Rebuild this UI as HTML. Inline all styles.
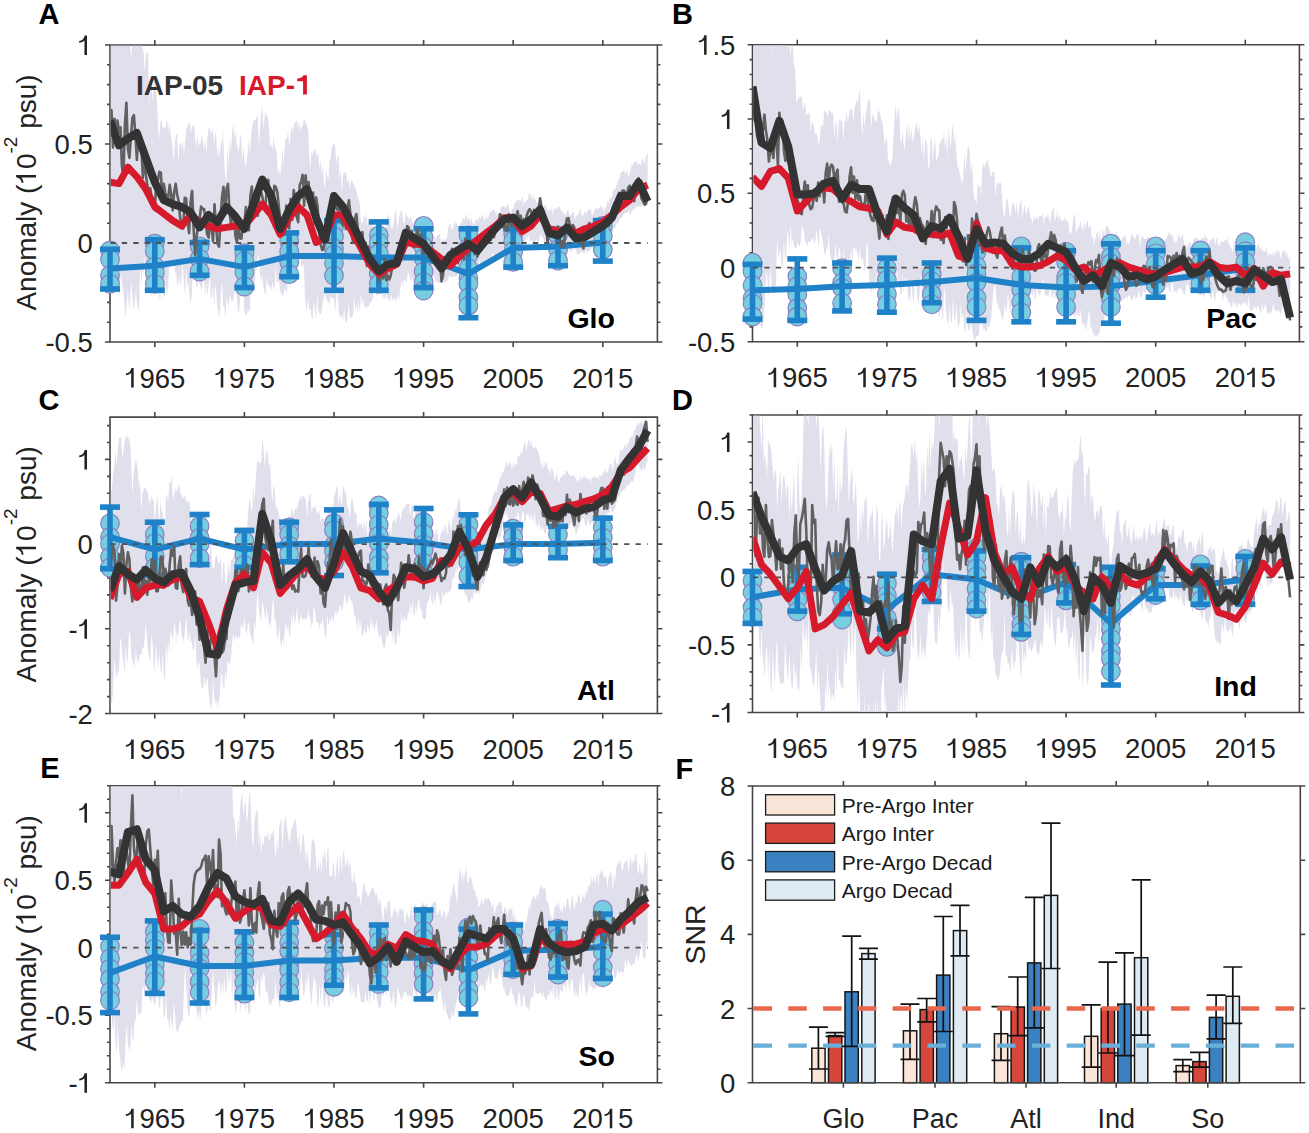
<!DOCTYPE html><html><head><meta charset="utf-8"><style>html,body{margin:0;padding:0;background:#fff;}svg{display:block;}</style></head><body>
<svg width="1309" height="1133" viewBox="0 0 1309 1133" font-family='"Liberation Sans", sans-serif'>
<path d="M110,45 H657.4 V342 H110 Z" fill="none" stroke="#474747" stroke-width="1.6"/>
<path d="M154.8,342 v5 M154.8,45 v-5 M244.4,342 v5 M244.4,45 v-5 M334,342 v5 M334,45 v-5 M423.6,342 v5 M423.6,45 v-5 M513.2,342 v5 M513.2,45 v-5 M602.8,342 v5 M602.8,45 v-5 M110,342 h-5 M657.4,342 h5 M110,322.2 h-3 M657.4,322.2 h3 M110,302.4 h-3 M657.4,302.4 h3 M110,282.6 h-3 M657.4,282.6 h3 M110,262.8 h-3 M657.4,262.8 h3 M110,243 h-5 M657.4,243 h5 M110,223.2 h-3 M657.4,223.2 h3 M110,203.4 h-3 M657.4,203.4 h3 M110,183.6 h-3 M657.4,183.6 h3 M110,163.8 h-3 M657.4,163.8 h3 M110,144 h-5 M657.4,144 h5 M110,124.2 h-3 M657.4,124.2 h3 M110,104.4 h-3 M657.4,104.4 h3 M110,84.6 h-3 M657.4,84.6 h3 M110,64.8 h-3 M657.4,64.8 h3 M110,45 h-5 M657.4,45 h5" stroke="#474747" stroke-width="1.6" fill="none"/>
<clipPath id="clipA"><rect x="110.8" y="45.8" width="545.8" height="295.4"/></clipPath>
<g clip-path="url(#clipA)">
<path d="M110,34 L111.1,27.4 L112.2,8.5 L113.4,31.1 L114.5,40.3 L115.6,13.7 L116.7,11.6 L117.8,12.8 L119,43.8 L120.1,21 L121.2,8.8 L122.3,32.3 L123.4,9.1 L124.6,2.3 L125.7,24 L126.8,23.6 L127.9,47.2 L129,26.9 L130.2,47.9 L131.3,59.1 L132.4,29.3 L133.5,7.6 L134.6,16 L135.8,43.1 L136.9,14.3 L138,53.6 L139.1,25.5 L140.2,30.6 L141.4,43.8 L142.5,48.1 L143.6,52 L144.7,71.8 L145.8,55.6 L147,51.6 L148.1,54.3 L149.2,104.5 L150.3,83.9 L151.4,76 L152.6,102.3 L153.7,85.5 L154.8,78.1 L155.9,85.7 L157,102.9 L158.2,128.9 L159.3,139.7 L160.4,121.3 L161.5,119.6 L162.6,127.6 L163.8,127.7 L164.9,129.4 L166,123.4 L167.1,118.8 L168.2,132.1 L169.4,123.3 L170.5,134.6 L171.6,138.5 L172.7,148.9 L173.8,160.7 L175,141.9 L176.1,134.5 L177.2,133.3 L178.3,164.1 L179.4,143.3 L180.6,142.6 L181.7,148.2 L182.8,139.7 L183.9,155.4 L185,142.7 L186.2,129.6 L187.3,126.5 L188.4,124.7 L189.5,120.7 L190.6,132.6 L191.8,127.4 L192.9,125.4 L194,125 L195.1,136.1 L196.2,149.1 L197.4,133.1 L198.5,147.3 L199.6,142.6 L200.7,143.7 L201.8,134.8 L203,141.9 L204.1,150.7 L205.2,138.4 L206.3,154.9 L207.4,137.4 L208.6,127.9 L209.7,127 L210.8,136.3 L211.9,128.8 L213,131.2 L214.2,145.1 L215.3,130.9 L216.4,138.7 L217.5,159 L218.6,146.6 L219.8,159.1 L220.9,140 L222,144.2 L223.1,130.4 L224.2,162.8 L225.4,177.1 L226.5,182.5 L227.6,144.4 L228.7,166.7 L229.8,138.5 L231,151.4 L232.1,131.2 L233.2,124 L234.3,138 L235.4,129.4 L236.6,144.3 L237.7,146.1 L238.8,152.7 L239.9,139.4 L241,132.4 L242.2,162.5 L243.3,146.9 L244.4,157.7 L245.5,168.1 L246.6,160.8 L247.8,152.9 L248.9,138.1 L250,154.5 L251.1,134.8 L252.2,126.2 L253.4,119.9 L254.5,120.9 L255.6,119.4 L256.7,117.8 L257.8,115.1 L259,146.1 L260.1,127.6 L261.2,112.9 L262.3,106 L263.4,129.6 L264.6,116.9 L265.7,112.5 L266.8,115.4 L267.9,117.5 L269,128.7 L270.2,148.1 L271.3,143.4 L272.4,150.2 L273.5,137 L274.6,146.3 L275.8,148.4 L276.9,154.8 L278,174.5 L279.1,168.6 L280.2,176 L281.4,166.4 L282.5,147.9 L283.6,167.7 L284.7,146.4 L285.8,137.1 L287,139 L288.1,129.6 L289.2,146.4 L290.3,137.9 L291.4,125.8 L292.6,132.2 L293.7,125.9 L294.8,122.6 L295.9,122.1 L297,118.8 L298.2,130 L299.3,120.6 L300.4,130.4 L301.5,126.8 L302.6,125.7 L303.8,118.9 L304.9,119.7 L306,123 L307.1,125.9 L308.2,130.5 L309.4,158.1 L310.5,169.1 L311.6,150.4 L312.7,155.3 L313.8,149.3 L315,148.7 L316.1,153.6 L317.2,156.9 L318.3,152.4 L319.4,168.4 L320.6,159.9 L321.7,177.1 L322.8,162.6 L323.9,183.8 L325,189.2 L326.2,168.7 L327.3,175.8 L328.4,179.9 L329.5,160.4 L330.6,159.4 L331.8,148 L332.9,145.6 L334,142.6 L335.1,146.3 L336.2,163.5 L337.4,156.1 L338.5,156.4 L339.6,179.9 L340.7,167.8 L341.8,193.2 L343,174.5 L344.1,171.9 L345.2,172.6 L346.3,172.9 L347.4,183.1 L348.6,178.8 L349.7,189.7 L350.8,181.2 L351.9,180.1 L353,183.2 L354.2,184.4 L355.3,188.5 L356.4,190.5 L357.5,196.2 L358.6,199.5 L359.8,203.9 L360.9,221.3 L362,223.5 L363.1,221.7 L364.2,213 L365.4,220 L366.5,212.8 L367.6,225.8 L368.7,218.7 L369.8,220.6 L371,219.1 L372.1,225.7 L373.2,233.7 L374.3,230 L375.4,228.2 L376.6,226.8 L377.7,233.3 L378.8,230 L379.9,233.6 L381,232.4 L382.2,229.8 L383.3,238 L384.4,232.9 L385.5,238.4 L386.6,220.2 L387.8,213.3 L388.9,219.6 L390,217.1 L391.1,227.7 L392.2,228.4 L393.4,224.7 L394.5,215.6 L395.6,208.5 L396.7,220.5 L397.8,229.7 L399,217.1 L400.1,213.8 L401.2,210.1 L402.3,212.1 L403.4,223.8 L404.6,222.2 L405.7,210.6 L406.8,218.1 L407.9,214.5 L409,221 L410.2,216.3 L411.3,217.3 L412.4,223.5 L413.5,223.7 L414.6,223.6 L415.8,228.5 L416.9,229 L418,231.1 L419.1,226.9 L420.2,222.5 L421.4,228.6 L422.5,227.5 L423.6,230.2 L424.7,230.5 L425.8,229.5 L427,226.4 L428.1,229 L429.2,231.9 L430.3,235.3 L431.4,233.4 L432.6,241.1 L433.7,240.5 L434.8,235.7 L435.9,240.6 L437,236.3 L438.2,234.9 L439.3,233.1 L440.4,237.4 L441.5,243.7 L442.6,238.6 L443.8,240.3 L444.9,241.1 L446,239.1 L447.1,237.3 L448.2,228.3 L449.4,224.1 L450.5,224.2 L451.6,229.5 L452.7,229.3 L453.8,224.5 L455,223.2 L456.1,221.7 L457.2,225.1 L458.3,227.6 L459.4,229.3 L460.6,222.5 L461.7,222.9 L462.8,216 L463.9,220.1 L465,218.4 L466.2,213.2 L467.3,219.7 L468.4,218.7 L469.5,217.6 L470.6,222.8 L471.8,216.9 L472.9,225 L474,224.4 L475.1,220.6 L476.2,218.3 L477.4,221.4 L478.5,218.6 L479.6,216.8 L480.7,218.4 L481.8,216.4 L483,213.5 L484.1,221.6 L485.2,219.1 L486.3,215.3 L487.4,219.4 L488.6,215.8 L489.7,212.6 L490.8,212.1 L491.9,209.8 L493,210.2 L494.2,208.7 L495.3,213.1 L496.4,211.6 L497.5,216.2 L498.6,217.4 L499.8,214.6 L500.9,206.9 L502,205.4 L503.1,206.5 L504.2,206.4 L505.4,207.7 L506.5,206.3 L507.6,203.4 L508.7,206.4 L509.8,211 L511,213 L512.1,208.7 L513.2,209 L514.3,204 L515.4,202.5 L516.6,199.6 L517.7,200.9 L518.8,199.6 L519.9,200.7 L521,201.2 L522.2,195.4 L523.3,205.8 L524.4,200.4 L525.5,203.4 L526.6,198.7 L527.8,200.6 L528.9,193.6 L530,193.5 L531.1,195.3 L532.2,199.8 L533.4,195.3 L534.5,200.5 L535.6,198.6 L536.7,203 L537.8,202.9 L539,207.4 L540.1,207.5 L541.2,207.9 L542.3,203.8 L543.4,208.5 L544.6,205.8 L545.7,204.3 L546.8,209.6 L547.9,210 L549,210.3 L550.2,210.4 L551.3,206.4 L552.4,214.3 L553.5,208.3 L554.6,209.9 L555.8,207.7 L556.9,209 L558,207.3 L559.1,206.4 L560.2,208.1 L561.4,212.3 L562.5,210.3 L563.6,214.7 L564.7,213 L565.8,216.7 L567,211.1 L568.1,209.2 L569.2,215.9 L570.3,215 L571.4,214.9 L572.6,211.8 L573.7,211.2 L574.8,219.7 L575.9,216.4 L577,215.5 L578.2,215 L579.3,211.6 L580.4,208.6 L581.5,215.1 L582.6,216.4 L583.8,213.7 L584.9,211.2 L586,213.1 L587.1,212.8 L588.2,208.7 L589.4,210.6 L590.5,207.5 L591.6,213.6 L592.7,215.5 L593.8,211.2 L595,208.7 L596.1,207 L597.2,209.7 L598.3,207.4 L599.4,208.9 L600.6,205.5 L601.7,208.4 L602.8,206.3 L603.9,211.9 L605,208.4 L606.2,207.2 L607.3,200.8 L608.4,203.6 L609.5,199.2 L610.6,198.1 L611.8,197 L612.9,191.9 L614,188 L615.1,189.5 L616.2,185.9 L617.4,183.3 L618.5,178.1 L619.6,179.2 L620.7,173 L621.8,171.7 L623,171.5 L624.1,170.6 L625.2,174.1 L626.3,171.8 L627.4,170.2 L628.6,178.1 L629.7,173 L630.8,169.2 L631.9,163.8 L633,166.1 L634.2,162.1 L635.3,161.6 L636.4,161.1 L637.5,165.3 L638.6,162.7 L639.8,164.4 L640.9,165.1 L642,160 L643.1,157.9 L644.2,164.8 L645.4,158.1 L646.5,155.2 L647.6,151.9 L647.6,201.3 L646.5,197.7 L645.4,204.9 L644.2,204.3 L643.1,202.9 L642,205.4 L640.9,206.6 L639.8,206.6 L638.6,205.8 L637.5,208.3 L636.4,205.1 L635.3,209.5 L634.2,207.8 L633,210 L631.9,210.8 L630.8,214 L629.7,214.3 L628.6,209.7 L627.4,213.1 L626.3,213.1 L625.2,213.1 L624.1,213.3 L623,215.2 L621.8,218.6 L620.7,218.6 L619.6,218.9 L618.5,223.2 L617.4,223.1 L616.2,224.1 L615.1,228.6 L614,227.5 L612.9,231.9 L611.8,232.2 L610.6,238.5 L609.5,237.3 L608.4,237.4 L607.3,235.8 L606.2,235.7 L605,242.1 L603.9,245.2 L602.8,242.7 L601.7,241.1 L600.6,245.1 L599.4,242.1 L598.3,248.3 L597.2,249.7 L596.1,251 L595,251.8 L593.8,249.7 L592.7,245.1 L591.6,248.2 L590.5,248.7 L589.4,251.4 L588.2,250.5 L587.1,252.8 L586,249.1 L584.9,253 L583.8,254.3 L582.6,251.2 L581.5,252.8 L580.4,250.9 L579.3,254.9 L578.2,253.9 L577,254.2 L575.9,250.1 L574.8,248.9 L573.7,247.1 L572.6,248.7 L571.4,251.7 L570.3,251.5 L569.2,248.1 L568.1,249.2 L567,247.3 L565.8,249.7 L564.7,250.6 L563.6,252 L562.5,252.1 L561.4,248.6 L560.2,248.8 L559.1,248 L558,247.5 L556.9,247.1 L555.8,252.5 L554.6,250.3 L553.5,243.9 L552.4,246.6 L551.3,243.4 L550.2,248.8 L549,249.3 L547.9,243.4 L546.8,246.1 L545.7,248.5 L544.6,242.9 L543.4,237.8 L542.3,237.6 L541.2,235.4 L540.1,233.8 L539,241.4 L537.8,242.5 L536.7,239 L535.6,240.7 L534.5,243 L533.4,243.3 L532.2,239.8 L531.1,241.1 L530,241.7 L528.9,235.1 L527.8,240.6 L526.6,235.7 L525.5,240.9 L524.4,247.9 L523.3,246.5 L522.2,240.3 L521,242.4 L519.9,240.5 L518.8,244.9 L517.7,243.5 L516.6,239.9 L515.4,242.1 L514.3,244.1 L513.2,243.4 L512.1,248.8 L511,247.8 L509.8,248.2 L508.7,246.1 L507.6,241.3 L506.5,248.9 L505.4,243.1 L504.2,243.7 L503.1,252.5 L502,254.6 L500.9,253.9 L499.8,254.4 L498.6,256.6 L497.5,256.5 L496.4,254.2 L495.3,259 L494.2,256 L493,252.5 L491.9,255.6 L490.8,259.9 L489.7,259 L488.6,259.3 L487.4,259 L486.3,259.7 L485.2,261.2 L484.1,264.3 L483,267.2 L481.8,264.9 L480.7,266.1 L479.6,261 L478.5,265 L477.4,266.8 L476.2,269.6 L475.1,265.5 L474,274.3 L472.9,274.2 L471.8,271.5 L470.6,273.7 L469.5,270.1 L468.4,269.4 L467.3,268.7 L466.2,269.1 L465,268.9 L463.9,271.8 L462.8,266.9 L461.7,265 L460.6,266.4 L459.4,268 L458.3,273.3 L457.2,276.5 L456.1,275.9 L455,277.1 L453.8,276.5 L452.7,275.6 L451.6,277.9 L450.5,276.9 L449.4,274.5 L448.2,279.3 L447.1,281.2 L446,280.7 L444.9,284 L443.8,280.6 L442.6,279.1 L441.5,281 L440.4,282.8 L439.3,282.8 L438.2,283.2 L437,280.7 L435.9,282.6 L434.8,279.5 L433.7,273.9 L432.6,281.3 L431.4,278.3 L430.3,280.2 L429.2,281.3 L428.1,280.4 L427,273.1 L425.8,273 L424.7,278.3 L423.6,280.2 L422.5,273.6 L421.4,273.7 L420.2,271.4 L419.1,272.2 L418,276.8 L416.9,277.7 L415.8,271.3 L414.6,278.6 L413.5,280.8 L412.4,277.2 L411.3,281.3 L410.2,279 L409,274.3 L407.9,271.1 L406.8,282.5 L405.7,281 L404.6,279.7 L403.4,280.7 L402.3,286.9 L401.2,279.7 L400.1,289.8 L399,301.3 L397.8,295.6 L396.7,298.7 L395.6,302.5 L394.5,296.7 L393.4,300.2 L392.2,299.9 L391.1,295 L390,301.9 L388.9,298.9 L387.8,299.5 L386.6,293.6 L385.5,299.9 L384.4,296.7 L383.3,297.2 L382.2,295.6 L381,292.8 L379.9,293.6 L378.8,286.1 L377.7,293.4 L376.6,296 L375.4,289.9 L374.3,288.2 L373.2,298 L372.1,300.8 L371,301.7 L369.8,303.8 L368.7,305.7 L367.6,308.2 L366.5,305.8 L365.4,308 L364.2,305.4 L363.1,297.6 L362,306.6 L360.9,292.2 L359.8,311.8 L358.6,300.4 L357.5,313 L356.4,304.4 L355.3,308.9 L354.2,296 L353,316.6 L351.9,317.3 L350.8,318.4 L349.7,314.9 L348.6,303.3 L347.4,317.9 L346.3,323.2 L345.2,320.5 L344.1,308 L343,322 L341.8,315 L340.7,316.2 L339.6,318 L338.5,308.2 L337.4,279.2 L336.2,299.8 L335.1,313 L334,298.6 L332.9,299.4 L331.8,297.5 L330.6,296.8 L329.5,305 L328.4,301.8 L327.3,300.3 L326.2,298.8 L325,292.9 L323.9,297.2 L322.8,301.7 L321.7,311.6 L320.6,314.2 L319.4,313.6 L318.3,311 L317.2,292.4 L316.1,320.4 L315,311.1 L313.8,300.5 L312.7,319.8 L311.6,317.1 L310.5,308.8 L309.4,310.1 L308.2,296.8 L307.1,311.4 L306,306.7 L304.9,297.3 L303.8,263.9 L302.6,266.2 L301.5,268.6 L300.4,253.3 L299.3,264.4 L298.2,256.6 L297,274.6 L295.9,271.8 L294.8,282.7 L293.7,260.8 L292.6,254 L291.4,263.5 L290.3,290.7 L289.2,279.9 L288.1,272.1 L287,293.6 L285.8,291 L284.7,288.3 L283.6,293.2 L282.5,297.9 L281.4,293 L280.2,291.6 L279.1,280.8 L278,281.7 L276.9,283 L275.8,263.8 L274.6,290.7 L273.5,287.3 L272.4,281.4 L271.3,290.4 L270.2,287.6 L269,286.1 L267.9,284.1 L266.8,275.8 L265.7,295.2 L264.6,292.7 L263.4,287 L262.3,274.4 L261.2,282.7 L260.1,274.1 L259,258.4 L257.8,255.1 L256.7,270.1 L255.6,269.9 L254.5,292.8 L253.4,284.3 L252.2,294.5 L251.1,273.8 L250,310.2 L248.9,312.1 L247.8,309.5 L246.6,316.4 L245.5,313.2 L244.4,311.7 L243.3,280.8 L242.2,292.8 L241,284.6 L239.9,302.5 L238.8,314.9 L237.7,307.5 L236.6,296 L235.4,290.7 L234.3,292.8 L233.2,301.7 L232.1,300.9 L231,300.8 L229.8,293.8 L228.7,306.9 L227.6,303.1 L226.5,295.7 L225.4,319.4 L224.2,305 L223.1,306.6 L222,281.6 L220.9,290.5 L219.8,316.9 L218.6,313.2 L217.5,307 L216.4,293.6 L215.3,283.7 L214.2,307.1 L213,284 L211.9,297.4 L210.8,297.8 L209.7,269.7 L208.6,286 L207.4,296.4 L206.3,281.4 L205.2,296.7 L204.1,279.5 L203,274.8 L201.8,291.4 L200.7,286.7 L199.6,284.3 L198.5,278 L197.4,288.2 L196.2,285.8 L195.1,270.1 L194,259.6 L192.9,268.2 L191.8,294.9 L190.6,303.8 L189.5,295.4 L188.4,281.2 L187.3,288 L186.2,267.6 L185,295.8 L183.9,284.3 L182.8,261.9 L181.7,276 L180.6,286.1 L179.4,275.6 L178.3,283.9 L177.2,286.4 L176.1,270.2 L175,274.7 L173.8,257.9 L172.7,264 L171.6,268.5 L170.5,267.2 L169.4,262.7 L168.2,285.8 L167.1,294.8 L166,285.1 L164.9,294.9 L163.8,297.9 L162.6,292.3 L161.5,278.1 L160.4,299.8 L159.3,297.1 L158.2,289.9 L157,293.2 L155.9,288.2 L154.8,259.7 L153.7,262.2 L152.6,276.1 L151.4,299.5 L150.3,284.5 L149.2,242.2 L148.1,254.4 L147,292.6 L145.8,278.2 L144.7,254.5 L143.6,274.2 L142.5,268.8 L141.4,287.1 L140.2,263.1 L139.1,311.6 L138,308.8 L136.9,302.8 L135.8,289.5 L134.6,304.3 L133.5,308.8 L132.4,295.4 L131.3,280.4 L130.2,298.7 L129,309.6 L127.9,288.2 L126.8,302.7 L125.7,317.7 L124.6,307.2 L123.4,290.7 L122.3,286.7 L121.2,272.2 L120.1,281 L119,296.8 L117.8,289.8 L116.7,280.8 L115.6,266.9 L114.5,290.1 L113.4,290.8 L112.2,278.7 L111.1,247.8 L110,283.3Z" fill="#e0e0ec"/>
</g>
<circle cx="110" cy="250.4" r="9.3" fill="#76cee0" stroke="#8b80c2" stroke-width="1.2"/>
<circle cx="110" cy="259.5" r="9.3" fill="#76cee0" stroke="#8b80c2" stroke-width="1.2"/>
<circle cx="110" cy="275.2" r="9.3" fill="#76cee0" stroke="#8b80c2" stroke-width="1.2"/>
<circle cx="110" cy="283.8" r="9.3" fill="#76cee0" stroke="#8b80c2" stroke-width="1.2"/>
<circle cx="154.8" cy="243.6" r="9.3" fill="#76cee0" stroke="#8b80c2" stroke-width="1.2"/>
<circle cx="154.8" cy="251" r="9.3" fill="#76cee0" stroke="#8b80c2" stroke-width="1.2"/>
<circle cx="154.8" cy="266.5" r="9.3" fill="#76cee0" stroke="#8b80c2" stroke-width="1.2"/>
<circle cx="154.8" cy="272.8" r="9.3" fill="#76cee0" stroke="#8b80c2" stroke-width="1.2"/>
<circle cx="154.8" cy="283.8" r="9.3" fill="#76cee0" stroke="#8b80c2" stroke-width="1.2"/>
<circle cx="199.6" cy="246.3" r="9.3" fill="#76cee0" stroke="#8b80c2" stroke-width="1.2"/>
<circle cx="199.6" cy="258.8" r="9.3" fill="#76cee0" stroke="#8b80c2" stroke-width="1.2"/>
<circle cx="199.6" cy="271.5" r="9.3" fill="#76cee0" stroke="#8b80c2" stroke-width="1.2"/>
<circle cx="244.4" cy="253.1" r="9.3" fill="#76cee0" stroke="#8b80c2" stroke-width="1.2"/>
<circle cx="244.4" cy="261" r="9.3" fill="#76cee0" stroke="#8b80c2" stroke-width="1.2"/>
<circle cx="244.4" cy="272.4" r="9.3" fill="#76cee0" stroke="#8b80c2" stroke-width="1.2"/>
<circle cx="244.4" cy="286.5" r="9.3" fill="#76cee0" stroke="#8b80c2" stroke-width="1.2"/>
<circle cx="289.2" cy="240.8" r="9.3" fill="#76cee0" stroke="#8b80c2" stroke-width="1.2"/>
<circle cx="289.2" cy="251.5" r="9.3" fill="#76cee0" stroke="#8b80c2" stroke-width="1.2"/>
<circle cx="289.2" cy="262.1" r="9.3" fill="#76cee0" stroke="#8b80c2" stroke-width="1.2"/>
<circle cx="289.2" cy="274.2" r="9.3" fill="#76cee0" stroke="#8b80c2" stroke-width="1.2"/>
<circle cx="334" cy="227.1" r="9.3" fill="#76cee0" stroke="#8b80c2" stroke-width="1.2"/>
<circle cx="334" cy="236.4" r="9.3" fill="#76cee0" stroke="#8b80c2" stroke-width="1.2"/>
<circle cx="334" cy="248.3" r="9.3" fill="#76cee0" stroke="#8b80c2" stroke-width="1.2"/>
<circle cx="334" cy="254.8" r="9.3" fill="#76cee0" stroke="#8b80c2" stroke-width="1.2"/>
<circle cx="334" cy="263.3" r="9.3" fill="#76cee0" stroke="#8b80c2" stroke-width="1.2"/>
<circle cx="334" cy="275.6" r="9.3" fill="#76cee0" stroke="#8b80c2" stroke-width="1.2"/>
<circle cx="378.8" cy="235.3" r="9.3" fill="#76cee0" stroke="#8b80c2" stroke-width="1.2"/>
<circle cx="378.8" cy="242.7" r="9.3" fill="#76cee0" stroke="#8b80c2" stroke-width="1.2"/>
<circle cx="378.8" cy="253.3" r="9.3" fill="#76cee0" stroke="#8b80c2" stroke-width="1.2"/>
<circle cx="378.8" cy="263.8" r="9.3" fill="#76cee0" stroke="#8b80c2" stroke-width="1.2"/>
<circle cx="378.8" cy="273.4" r="9.3" fill="#76cee0" stroke="#8b80c2" stroke-width="1.2"/>
<circle cx="378.8" cy="283.8" r="9.3" fill="#76cee0" stroke="#8b80c2" stroke-width="1.2"/>
<circle cx="423.6" cy="225.8" r="9.3" fill="#76cee0" stroke="#8b80c2" stroke-width="1.2"/>
<circle cx="423.6" cy="237.2" r="9.3" fill="#76cee0" stroke="#8b80c2" stroke-width="1.2"/>
<circle cx="423.6" cy="246.7" r="9.3" fill="#76cee0" stroke="#8b80c2" stroke-width="1.2"/>
<circle cx="423.6" cy="258.3" r="9.3" fill="#76cee0" stroke="#8b80c2" stroke-width="1.2"/>
<circle cx="423.6" cy="271.5" r="9.3" fill="#76cee0" stroke="#8b80c2" stroke-width="1.2"/>
<circle cx="423.6" cy="282.1" r="9.3" fill="#76cee0" stroke="#8b80c2" stroke-width="1.2"/>
<circle cx="423.6" cy="290.6" r="9.3" fill="#76cee0" stroke="#8b80c2" stroke-width="1.2"/>
<circle cx="468.4" cy="235.3" r="9.3" fill="#76cee0" stroke="#8b80c2" stroke-width="1.2"/>
<circle cx="468.4" cy="247.9" r="9.3" fill="#76cee0" stroke="#8b80c2" stroke-width="1.2"/>
<circle cx="468.4" cy="255.3" r="9.3" fill="#76cee0" stroke="#8b80c2" stroke-width="1.2"/>
<circle cx="468.4" cy="268.4" r="9.3" fill="#76cee0" stroke="#8b80c2" stroke-width="1.2"/>
<circle cx="468.4" cy="278.2" r="9.3" fill="#76cee0" stroke="#8b80c2" stroke-width="1.2"/>
<circle cx="468.4" cy="283.8" r="9.3" fill="#76cee0" stroke="#8b80c2" stroke-width="1.2"/>
<circle cx="468.4" cy="297.4" r="9.3" fill="#76cee0" stroke="#8b80c2" stroke-width="1.2"/>
<circle cx="468.4" cy="305.7" r="9.3" fill="#76cee0" stroke="#8b80c2" stroke-width="1.2"/>
<circle cx="513.2" cy="234" r="9.3" fill="#76cee0" stroke="#8b80c2" stroke-width="1.2"/>
<circle cx="513.2" cy="241.3" r="9.3" fill="#76cee0" stroke="#8b80c2" stroke-width="1.2"/>
<circle cx="513.2" cy="251.2" r="9.3" fill="#76cee0" stroke="#8b80c2" stroke-width="1.2"/>
<circle cx="513.2" cy="261.9" r="9.3" fill="#76cee0" stroke="#8b80c2" stroke-width="1.2"/>
<circle cx="558" cy="235.3" r="9.3" fill="#76cee0" stroke="#8b80c2" stroke-width="1.2"/>
<circle cx="558" cy="249.5" r="9.3" fill="#76cee0" stroke="#8b80c2" stroke-width="1.2"/>
<circle cx="558" cy="260.5" r="9.3" fill="#76cee0" stroke="#8b80c2" stroke-width="1.2"/>
<circle cx="602.8" cy="225.8" r="9.3" fill="#76cee0" stroke="#8b80c2" stroke-width="1.2"/>
<circle cx="602.8" cy="235.8" r="9.3" fill="#76cee0" stroke="#8b80c2" stroke-width="1.2"/>
<circle cx="602.8" cy="249.6" r="9.3" fill="#76cee0" stroke="#8b80c2" stroke-width="1.2"/>
<line x1="110" y1="249.3" x2="110" y2="289" stroke="#1f82c8" stroke-width="5.6"/>
<rect x="100" y="246.5" width="20" height="5.6" fill="#1f82c8"/>
<rect x="100" y="286.2" width="20" height="5.6" fill="#1f82c8"/>
<line x1="154.8" y1="239.7" x2="154.8" y2="290.3" stroke="#1f82c8" stroke-width="5.6"/>
<rect x="144.8" y="236.9" width="20" height="5.6" fill="#1f82c8"/>
<rect x="144.8" y="287.5" width="20" height="5.6" fill="#1f82c8"/>
<line x1="199.6" y1="242.5" x2="199.6" y2="275.3" stroke="#1f82c8" stroke-width="5.6"/>
<rect x="189.6" y="239.7" width="20" height="5.6" fill="#1f82c8"/>
<rect x="189.6" y="272.5" width="20" height="5.6" fill="#1f82c8"/>
<line x1="244.4" y1="247.9" x2="244.4" y2="287.6" stroke="#1f82c8" stroke-width="5.6"/>
<rect x="234.4" y="245.1" width="20" height="5.6" fill="#1f82c8"/>
<rect x="234.4" y="284.8" width="20" height="5.6" fill="#1f82c8"/>
<line x1="289.2" y1="232.9" x2="289.2" y2="276.7" stroke="#1f82c8" stroke-width="5.6"/>
<rect x="279.2" y="230.1" width="20" height="5.6" fill="#1f82c8"/>
<rect x="279.2" y="273.9" width="20" height="5.6" fill="#1f82c8"/>
<line x1="334" y1="220.6" x2="334" y2="290.3" stroke="#1f82c8" stroke-width="5.6"/>
<rect x="324" y="217.8" width="20" height="5.6" fill="#1f82c8"/>
<rect x="324" y="287.5" width="20" height="5.6" fill="#1f82c8"/>
<line x1="378.8" y1="221.9" x2="378.8" y2="290.3" stroke="#1f82c8" stroke-width="5.6"/>
<rect x="368.8" y="219.1" width="20" height="5.6" fill="#1f82c8"/>
<rect x="368.8" y="287.5" width="20" height="5.6" fill="#1f82c8"/>
<line x1="423.6" y1="228.8" x2="423.6" y2="287.6" stroke="#1f82c8" stroke-width="5.6"/>
<rect x="413.6" y="226" width="20" height="5.6" fill="#1f82c8"/>
<rect x="413.6" y="284.8" width="20" height="5.6" fill="#1f82c8"/>
<line x1="468.4" y1="228.8" x2="468.4" y2="317.7" stroke="#1f82c8" stroke-width="5.6"/>
<rect x="458.4" y="226" width="20" height="5.6" fill="#1f82c8"/>
<rect x="458.4" y="314.9" width="20" height="5.6" fill="#1f82c8"/>
<line x1="513.2" y1="228.8" x2="513.2" y2="267.1" stroke="#1f82c8" stroke-width="5.6"/>
<rect x="503.2" y="226" width="20" height="5.6" fill="#1f82c8"/>
<rect x="503.2" y="264.3" width="20" height="5.6" fill="#1f82c8"/>
<line x1="558" y1="231.5" x2="558" y2="265.7" stroke="#1f82c8" stroke-width="5.6"/>
<rect x="548" y="228.7" width="20" height="5.6" fill="#1f82c8"/>
<rect x="548" y="262.9" width="20" height="5.6" fill="#1f82c8"/>
<line x1="602.8" y1="220.6" x2="602.8" y2="261.1" stroke="#1f82c8" stroke-width="5.6"/>
<rect x="592.8" y="217.8" width="20" height="5.6" fill="#1f82c8"/>
<rect x="592.8" y="258.3" width="20" height="5.6" fill="#1f82c8"/>
<polyline points="110,268.5 154.8,265.7 199.6,258.9 244.4,267.1 289.2,256.1 334,256.1 378.8,257.5 423.6,257.5 468.4,273.9 513.2,247.9 558,246.6 602.8,242.5" fill="none" stroke="#1f82c8" stroke-width="6" stroke-linejoin="round"/>
<line x1="110.4" y1="243" x2="647.6" y2="243" stroke="#505050" stroke-width="1.8" stroke-dasharray="5.3,6.116"/>
<g clip-path="url(#clipA)">
<polyline points="110,118.5 111.5,110 113,147.4 114.5,118.7 116,142.6 117.5,120.6 119,132.5 120.5,127.3 121.9,166.1 123.4,177.2 124.9,124.3 126.4,102.8 127.9,149.1 129.4,157.9 130.9,137.6 132.4,118 133.9,115.1 135.4,135 136.9,159.9 138.4,134.1 139.9,140.8 141.4,149.4 142.9,177.8 144.3,154.8 145.8,173.8 147.3,185.1 148.8,192 150.3,188.2 151.8,200 153.3,205.3 154.8,210.2 156.3,182.6 157.8,181 159.3,171.9 160.8,172.7 162.3,197.4 163.8,183.7 165.3,193 166.7,195.6 168.2,198 169.7,184.7 171.2,194.3 172.7,210.4 174.2,191.7 175.7,183.7 177.2,195 178.7,201.1 180.2,218.2 181.7,222.4 183.2,228.6 184.7,197.8 186.2,198.4 187.7,221.9 189.1,233.2 190.6,201.8 192.1,190.8 193.6,228.4 195.1,255.1 196.6,236.6 198.1,223.8 199.6,219.6 201.1,206.5 202.6,208.9 204.1,209 205.6,221.2 207.1,234.1 208.6,237.6 210.1,221.9 211.5,225.7 213,241.2 214.5,204.4 216,225.9 217.5,243.4 219,246.6 220.5,220.1 222,196.9 223.5,186.8 225,214.5 226.5,189.4 228,183.8 229.5,211 231,224 232.5,215.8 233.9,210.9 235.4,235.9 236.9,242.6 238.4,222.4 239.9,238.5 241.4,238.7 242.9,226.2 244.4,223.2 245.9,207 247.4,226.3 248.9,230.2 250.4,195.7 251.9,186.6 253.4,216.3 254.9,216.5 256.3,206.6 257.8,215.8 259.3,193.2 260.8,191.4 262.3,196.4 263.8,206.1 265.3,207.8 266.8,189.5 268.3,179.8 269.8,206.9 271.3,209.5 272.8,216.8 274.3,185.8 275.8,187.1 277.3,192 278.7,205.2 280.2,220.6 281.7,233.8 283.2,235 284.7,234.2 286.2,205.5 287.7,215.1 289.2,228.5 290.7,198.9 292.2,220 293.7,190.1 295.2,200.8 296.7,216.8 298.2,222.2 299.7,184.8 301.1,182.2 302.6,174.8 304.1,205.6 305.6,175.4 307.1,193 308.6,182 310.1,207.5 311.6,198.5 313.1,192.6 314.6,223.8 316.1,197.3 317.6,206.4 319.1,230.8 320.6,244.5 322.1,250 323.5,249.5 325,231.3 326.5,224.7 328,239.4 329.5,227.7 331,223.6 332.5,212.6 334,201.2 335.5,202.2 337,209.4 338.5,208.9 340,215.2 341.5,222.5 343,225.7 344.5,218.6 345.9,229 347.4,209 348.9,200.4 350.4,213.9 351.9,236.7 353.4,243 354.9,218.2 356.4,214 357.9,230.5 359.4,247.9 360.9,239.6 362.4,232.1 363.9,253.5 365.4,249 366.9,265.9 368.3,246.6 369.8,267.2 371.3,262.9 372.8,268.1 374.3,272.4 375.8,268.6 377.3,274.6 378.8,281.4 380.3,277.8 381.8,276.5 383.3,278.4 384.8,258.9 386.3,280.2 387.8,275.9 389.3,279.5 390.7,275.9 392.2,266.3 393.7,265.2 395.2,263.1 396.7,255.9 398.2,257.7 399.7,260.8 401.2,249.5 402.7,253.5 404.2,251.7 405.7,244 407.2,226 408.7,227.7 410.2,240 411.7,230.9 413.1,247.1 414.6,247 416.1,238.2 417.6,229.4 419.1,246.9 420.6,234.4 422.1,241.2 423.6,254 425.1,240.9 426.6,253 428.1,249.6 429.6,258 431.1,253.7 432.6,249.7 434.1,262.7 435.5,264.6 437,258.9 438.5,260.4 440,262 441.5,281.4 443,275.7 444.5,257.1 446,268.1 447.5,268 449,254 450.5,267.2 452,248.8 453.5,260 455,257.1 456.5,258.9 457.9,263.1 459.4,258.6 460.9,258.8 462.4,257.3 463.9,259 465.4,238.6 466.9,247.7 468.4,255.6 469.9,245.8 471.4,250.7 472.9,240.1 474.4,254 475.9,250.1 477.4,256.5 478.9,253 480.3,240.9 481.8,234.1 483.3,241.5 484.8,245 486.3,242.7 487.8,233.1 489.3,240.6 490.8,239.9 492.3,231.4 493.8,237.3 495.3,230.8 496.8,226.2 498.3,226.3 499.8,214.4 501.3,215.4 502.7,227.4 504.2,220.4 505.7,229.1 507.2,231.3 508.7,214.2 510.2,223.8 511.7,225.6 513.2,214.7 514.7,226.7 516.2,216.5 517.7,211.2 519.2,223.4 520.7,215.8 522.2,226.6 523.7,219 525.1,230 526.6,216 528.1,211.7 529.6,209.1 531.1,211.5 532.6,217.3 534.1,209.9 535.6,222.1 537.1,215.8 538.6,209.5 540.1,198.2 541.6,207 543.1,222.2 544.6,226.2 546.1,222.8 547.5,242.8 549,233.8 550.5,235.3 552,228.9 553.5,227.1 555,234.7 556.5,229.1 558,226.7 559.5,237.2 561,246.6 562.5,241.1 564,247.2 565.5,226.2 567,218.6 568.5,218.2 569.9,225 571.4,227.7 572.9,225 574.4,227.9 575.9,240.9 577.4,232.9 578.9,232.6 580.4,242.9 581.9,242.7 583.4,248.5 584.9,233.9 586.4,231.5 587.9,226 589.4,223 590.9,233 592.3,228.1 593.8,230.9 595.3,233.9 596.8,227.9 598.3,222.9 599.8,231.7 601.3,229.7 602.8,226 604.3,221.2 605.8,216.8 607.3,222.7 608.8,226 610.3,217.1 611.8,210.5 613.3,205.9 614.7,202.5 616.2,207.3 617.7,209.7 619.2,192.9 620.7,202.6 622.2,190.8 623.7,190.4 625.2,192.1 626.7,200.6 628.2,187.8 629.7,185.7 631.2,197 632.7,200.3 634.2,201.1 635.7,184.2 637.1,180.8 638.6,178.2 640.1,189.8 641.6,198.9 643.1,201.4 644.6,204.8 646.1,203.7 647.6,194.4" fill="none" stroke="#606060" stroke-width="2.6" stroke-linejoin="round"/>
<polyline points="110,182.3 119,183.6 127.9,167.2 136.9,176.8 145.8,189.1 154.8,206.9 163.8,213.7 172.7,220.6 181.7,226 190.6,215.1 199.6,221.9 208.6,226 217.5,228.8 226.5,227.4 235.4,226 244.4,226 253.4,215.1 262.3,204.2 271.3,215.1 280.2,234.3 289.2,217.8 298.2,206.9 307.1,215.1 316.1,242.5 325,237 334,215.1 343,215.1 351.9,231.5 360.9,247.9 369.8,264.4 378.8,273.9 387.8,268.5 396.7,264.4 405.7,242.5 414.6,243.8 423.6,245.2 432.6,252 441.5,258.9 450.5,265.7 459.4,256.1 468.4,247.9 477.4,239.7 486.3,232.9 495.3,226 504.2,217.8 513.2,217.8 522.2,231.5 531.1,226 540.1,215.1 549,228.8 558,231.5 567,228.8 575.9,232.9 584.9,228.8 593.8,226 602.8,221.9 611.8,215.1 620.7,206.9 629.7,200.1 638.6,189.1 647.6,185" fill="none" stroke="#d71a2b" stroke-width="7" stroke-linejoin="round" stroke-linecap="butt"/>
<polyline points="110,120.7 119,145.3 127.9,138.5 136.9,133 145.8,157.6 154.8,182.3 163.8,200.1 172.7,204.2 181.7,206.9 190.6,212.4 199.6,227.4 208.6,215.1 217.5,221.9 226.5,206.9 235.4,216.5 244.4,228.8 253.4,204.2 262.3,179.5 271.3,196 280.2,228.8 289.2,209.6 298.2,196 307.1,189.1 316.1,217.8 325,239.7 334,196 343,206.9 351.9,223.3 360.9,241.1 369.8,258.9 378.8,271.2 387.8,264.4 396.7,263 405.7,232.9 414.6,238.4 423.6,243.8 432.6,256.1 441.5,268.5 450.5,254.8 459.4,249.3 468.4,243.8 477.4,250.7 486.3,239.7 495.3,228.8 504.2,219.2 513.2,217.8 522.2,226 531.1,219.2 540.1,209.6 549,232.9 558,235.6 567,227.4 575.9,238.4 584.9,237 593.8,231.5 602.8,226 611.8,217.8 620.7,196 629.7,196 638.6,182.3 647.6,201.4" fill="none" stroke="#333333" stroke-width="8" stroke-linejoin="round" stroke-linecap="butt"/>
</g>
<path transform="translate(77.5,55) scale(0.02750,-0.02750)" d="M345,0 L253,0 L253,525 C215,480 140,452 62,446 L62,509 C165,522 238,580 262,709 L345,709 Z" fill="#222"/>
<text x="54.6" y="154" font-size="27.5" fill="#222">0.5</text>
<text x="77.5" y="253" font-size="27.5" fill="#222">0</text>
<text x="45.4" y="352" font-size="27.5" fill="#222">-0.5</text>
<path transform="translate(124.2,387.5) scale(0.02750,-0.02750)" d="M345,0 L253,0 L253,525 C215,480 140,452 62,446 L62,509 C165,522 238,580 262,709 L345,709 Z" fill="#222"/><text x="139.5" y="387.5" font-size="27.5" fill="#222">965</text>
<path transform="translate(213.8,387.5) scale(0.02750,-0.02750)" d="M345,0 L253,0 L253,525 C215,480 140,452 62,446 L62,509 C165,522 238,580 262,709 L345,709 Z" fill="#222"/><text x="229.1" y="387.5" font-size="27.5" fill="#222">975</text>
<path transform="translate(303.4,387.5) scale(0.02750,-0.02750)" d="M345,0 L253,0 L253,525 C215,480 140,452 62,446 L62,509 C165,522 238,580 262,709 L345,709 Z" fill="#222"/><text x="318.7" y="387.5" font-size="27.5" fill="#222">985</text>
<path transform="translate(393,387.5) scale(0.02750,-0.02750)" d="M345,0 L253,0 L253,525 C215,480 140,452 62,446 L62,509 C165,522 238,580 262,709 L345,709 Z" fill="#222"/><text x="408.3" y="387.5" font-size="27.5" fill="#222">995</text>
<text x="482.6" y="387.5" font-size="27.5" fill="#222">2005</text>
<text x="572.2" y="387.5" font-size="27.5" fill="#222">20</text><path transform="translate(602.8,387.5) scale(0.02750,-0.02750)" d="M345,0 L253,0 L253,525 C215,480 140,452 62,446 L62,509 C165,522 238,580 262,709 L345,709 Z" fill="#222"/><text x="618.1" y="387.5" font-size="27.5" fill="#222">5</text>
<text x="614.9" y="328.3" font-size="28.5" text-anchor="end" font-weight="bold" fill="#000" >Glo</text>
<path d="M752.5,44.8 H1299.4 V341.8 H752.5 Z" fill="none" stroke="#474747" stroke-width="1.6"/>
<path d="M797.3,341.8 v5 M797.3,44.8 v-5 M886.9,341.8 v5 M886.9,44.8 v-5 M976.5,341.8 v5 M976.5,44.8 v-5 M1066.1,341.8 v5 M1066.1,44.8 v-5 M1155.7,341.8 v5 M1155.7,44.8 v-5 M1245.3,341.8 v5 M1245.3,44.8 v-5 M752.5,341.8 h-5 M1299.4,341.8 h5 M752.5,326.9 h-3 M1299.4,326.9 h3 M752.5,312.1 h-3 M1299.4,312.1 h3 M752.5,297.2 h-3 M1299.4,297.2 h3 M752.5,282.4 h-3 M1299.4,282.4 h3 M752.5,267.6 h-5 M1299.4,267.6 h5 M752.5,252.7 h-3 M1299.4,252.7 h3 M752.5,237.8 h-3 M1299.4,237.8 h3 M752.5,223 h-3 M1299.4,223 h3 M752.5,208.2 h-3 M1299.4,208.2 h3 M752.5,193.3 h-5 M1299.4,193.3 h5 M752.5,178.4 h-3 M1299.4,178.4 h3 M752.5,163.6 h-3 M1299.4,163.6 h3 M752.5,148.8 h-3 M1299.4,148.8 h3 M752.5,133.9 h-3 M1299.4,133.9 h3 M752.5,119 h-5 M1299.4,119 h5 M752.5,104.2 h-3 M1299.4,104.2 h3 M752.5,89.3 h-3 M1299.4,89.3 h3 M752.5,74.5 h-3 M1299.4,74.5 h3 M752.5,59.6 h-3 M1299.4,59.6 h3 M752.5,44.8 h-5 M1299.4,44.8 h5" stroke="#474747" stroke-width="1.6" fill="none"/>
<clipPath id="clipB"><rect x="753.3" y="45.6" width="545.3" height="295.4"/></clipPath>
<g clip-path="url(#clipB)">
<path d="M752.5,13.8 L753.6,46.7 L754.7,35.6 L755.9,35.9 L757,16.1 L758.1,39.3 L759.2,38.8 L760.3,12.5 L761.5,3.2 L762.6,-0.6 L763.7,2.5 L764.8,9.6 L765.9,-0.2 L767.1,12.2 L768.2,7.8 L769.3,10.7 L770.4,18.9 L771.5,53 L772.7,33.2 L773.8,14.1 L774.9,-0.5 L776,21.2 L777.1,5.1 L778.3,0.4 L779.4,42.3 L780.5,18.5 L781.6,17.4 L782.7,20.7 L783.9,3.2 L785,23.9 L786.1,7.6 L787.2,19 L788.3,18.5 L789.5,47.8 L790.6,55.5 L791.7,42.4 L792.8,44.5 L793.9,65.5 L795.1,66.9 L796.2,100.9 L797.3,101.3 L798.4,95.8 L799.5,98.7 L800.7,96.2 L801.8,97.3 L802.9,109.5 L804,107 L805.1,101.9 L806.3,115.4 L807.4,114 L808.5,113.1 L809.6,113.4 L810.7,131.2 L811.9,120.8 L813,123.6 L814.1,126.3 L815.2,135.3 L816.3,132.6 L817.5,136.8 L818.6,145.4 L819.7,140.6 L820.8,125.2 L821.9,125.8 L823.1,126.1 L824.2,110.3 L825.3,111.3 L826.4,112 L827.5,116.9 L828.7,111.7 L829.8,109.4 L830.9,112.4 L832,112.9 L833.1,112.5 L834.3,138.5 L835.4,124.5 L836.5,119.3 L837.6,143.3 L838.7,122.8 L839.9,118.8 L841,122.5 L842.1,118.3 L843.2,142 L844.3,122 L845.5,120.6 L846.6,111.8 L847.7,121.6 L848.8,116.8 L849.9,107.9 L851.1,110 L852.2,108.6 L853.3,123.4 L854.4,110 L855.5,104.2 L856.7,99.7 L857.8,101.9 L858.9,93.7 L860,89.5 L861.1,119.3 L862.3,136.9 L863.4,112.7 L864.5,127.6 L865.6,115.6 L866.7,109.6 L867.9,100.6 L869,100.7 L870.1,99.5 L871.2,128.9 L872.3,114.1 L873.5,116.5 L874.6,119 L875.7,120.8 L876.8,123.6 L877.9,109.6 L879.1,111.9 L880.2,112.8 L881.3,121.1 L882.4,121.1 L883.5,131.9 L884.7,145.3 L885.8,140.1 L886.9,136.7 L888,159.9 L889.1,161.1 L890.3,166 L891.4,162.2 L892.5,157.2 L893.6,133.5 L894.7,115.2 L895.9,104.6 L897,120.3 L898.1,107.9 L899.2,110 L900.3,138.9 L901.5,143.1 L902.6,131.6 L903.7,145.4 L904.8,151.2 L905.9,132.2 L907.1,123.6 L908.2,142.5 L909.3,123.6 L910.4,142.2 L911.5,126.9 L912.7,142.2 L913.8,138.1 L914.9,129.8 L916,124.7 L917.1,122.2 L918.3,134.3 L919.4,124.5 L920.5,138.2 L921.6,154.6 L922.7,137.1 L923.9,162.3 L925,139.8 L926.1,140.6 L927.2,144.2 L928.3,169.3 L929.5,165.8 L930.6,138.1 L931.7,138.4 L932.8,160.4 L933.9,147.2 L935.1,138.1 L936.2,161.9 L937.3,158 L938.4,156.2 L939.5,144 L940.7,142.4 L941.8,137.2 L942.9,140.5 L944,131.4 L945.1,149.7 L946.3,134.6 L947.4,157.3 L948.5,127.3 L949.6,139.9 L950.7,148.8 L951.9,131.3 L953,122.4 L954.1,146.1 L955.2,133.4 L956.3,151.8 L957.5,168 L958.6,166.8 L959.7,174 L960.8,178.3 L961.9,183.8 L963.1,179.9 L964.2,151.8 L965.3,172.3 L966.4,162 L967.5,149.1 L968.7,145.2 L969.8,154.5 L970.9,173.2 L972,160.5 L973.1,188.3 L974.3,198.6 L975.4,200 L976.5,205.7 L977.6,182.3 L978.7,187.7 L979.9,184.4 L981,195.8 L982.1,170.7 L983.2,162.5 L984.3,167.9 L985.5,162.6 L986.6,162.4 L987.7,158.4 L988.8,166.3 L989.9,172.9 L991.1,177.7 L992.2,172.2 L993.3,171.2 L994.4,173.2 L995.5,198.2 L996.7,181.6 L997.8,186.3 L998.9,182.5 L1000,182.5 L1001.1,183.2 L1002.3,200.4 L1003.4,213.4 L1004.5,217.7 L1005.6,209.3 L1006.7,197.1 L1007.9,200.5 L1009,211 L1010.1,217.6 L1011.2,212.5 L1012.3,201.3 L1013.5,205.1 L1014.6,205.4 L1015.7,213 L1016.8,201.2 L1017.9,219.7 L1019.1,207.1 L1020.2,202 L1021.3,200 L1022.4,220.6 L1023.5,209.2 L1024.7,205.1 L1025.8,213.4 L1026.9,213.5 L1028,206.5 L1029.1,208.8 L1030.3,217.6 L1031.4,218.3 L1032.5,223.7 L1033.6,218.5 L1034.7,215.9 L1035.9,220.5 L1037,215.2 L1038.1,220.4 L1039.2,215.9 L1040.3,216.3 L1041.5,215.7 L1042.6,213.3 L1043.7,226.5 L1044.8,216.7 L1045.9,216.4 L1047.1,217.8 L1048.2,213.5 L1049.3,220.5 L1050.4,222.2 L1051.5,212.3 L1052.7,209.4 L1053.8,207.6 L1054.9,221.7 L1056,218.3 L1057.1,210.3 L1058.3,221.1 L1059.4,213.5 L1060.5,219.6 L1061.6,221.7 L1062.7,220.1 L1063.9,220.9 L1065,216.5 L1066.1,222.8 L1067.2,219.4 L1068.3,221.3 L1069.5,235.2 L1070.6,231.1 L1071.7,233.6 L1072.8,221.2 L1073.9,214.4 L1075.1,215.5 L1076.2,234.8 L1077.3,229.1 L1078.4,227.6 L1079.5,225.9 L1080.7,220.8 L1081.8,229.1 L1082.9,230.7 L1084,221 L1085.1,229.4 L1086.3,222.8 L1087.4,220 L1088.5,226.9 L1089.6,228.6 L1090.7,224.2 L1091.9,240.3 L1093,235.4 L1094.1,245.2 L1095.2,239.5 L1096.3,234.2 L1097.5,231.1 L1098.6,240.8 L1099.7,229.1 L1100.8,241.3 L1101.9,236.9 L1103.1,227.7 L1104.2,237.2 L1105.3,228.5 L1106.4,226.4 L1107.5,226.7 L1108.7,227.8 L1109.8,231.6 L1110.9,244.3 L1112,237.8 L1113.1,235.1 L1114.3,238.3 L1115.4,234.5 L1116.5,229.9 L1117.6,237.9 L1118.7,235.9 L1119.9,240 L1121,240.5 L1122.1,238.7 L1123.2,237.1 L1124.3,235.9 L1125.5,235.1 L1126.6,245.3 L1127.7,241.9 L1128.8,244.5 L1129.9,241.8 L1131.1,236.6 L1132.2,233.1 L1133.3,236.3 L1134.4,239.5 L1135.5,238.2 L1136.7,234.7 L1137.8,234.1 L1138.9,235.9 L1140,248.7 L1141.1,238.8 L1142.3,235.2 L1143.4,237.8 L1144.5,238.7 L1145.6,238.9 L1146.7,238.8 L1147.9,237 L1149,236.9 L1150.1,241.7 L1151.2,240.7 L1152.3,245 L1153.5,240.6 L1154.6,244.7 L1155.7,242.9 L1156.8,241.6 L1157.9,239.9 L1159.1,245.7 L1160.2,243.2 L1161.3,238.8 L1162.4,245.3 L1163.5,246.3 L1164.7,240 L1165.8,239.1 L1166.9,236.7 L1168,235 L1169.1,231.7 L1170.3,234.7 L1171.4,234.4 L1172.5,235.6 L1173.6,239.5 L1174.7,243.8 L1175.9,240.1 L1177,242.7 L1178.1,234.8 L1179.2,236.1 L1180.3,239.6 L1181.5,236.6 L1182.6,233.7 L1183.7,241.3 L1184.8,249.1 L1185.9,242.3 L1187.1,248.8 L1188.2,244.4 L1189.3,242.7 L1190.4,240.3 L1191.5,249.2 L1192.7,243.8 L1193.8,237.4 L1194.9,239.6 L1196,236.6 L1197.1,237.9 L1198.3,238.7 L1199.4,241.5 L1200.5,240.9 L1201.6,236.6 L1202.7,239.4 L1203.9,238.1 L1205,234.1 L1206.1,238.2 L1207.2,238.1 L1208.3,243.9 L1209.5,240.9 L1210.6,238.9 L1211.7,239.4 L1212.8,238.7 L1213.9,237.1 L1215.1,245.5 L1216.2,239.6 L1217.3,237.6 L1218.4,244.4 L1219.5,246.4 L1220.7,241.3 L1221.8,241.6 L1222.9,241.7 L1224,242.3 L1225.1,239.5 L1226.3,240.8 L1227.4,237.5 L1228.5,244.6 L1229.6,242.9 L1230.7,249.9 L1231.9,247.3 L1233,253.4 L1234.1,241.5 L1235.2,241.6 L1236.3,240.9 L1237.5,241.5 L1238.6,240.4 L1239.7,240.4 L1240.8,248.1 L1241.9,254.1 L1243.1,243.7 L1244.2,239.8 L1245.3,242.6 L1246.4,239.7 L1247.5,242 L1248.7,236.1 L1249.8,234 L1250.9,237.4 L1252,249.2 L1253.1,252.8 L1254.3,250.3 L1255.4,250.4 L1256.5,248.6 L1257.6,244.6 L1258.7,244 L1259.9,249.6 L1261,246.5 L1262.1,250.9 L1263.2,250.5 L1264.3,252 L1265.5,251.8 L1266.6,247.1 L1267.7,258 L1268.8,252.8 L1269.9,253.9 L1271.1,255.7 L1272.2,252.1 L1273.3,257.1 L1274.4,251.4 L1275.5,254.5 L1276.7,249.2 L1277.8,253 L1278.9,249.7 L1280,255.3 L1281.1,259 L1282.3,250.7 L1283.4,251.5 L1284.5,248.8 L1285.6,255.6 L1286.7,250.5 L1287.9,258 L1289,259.7 L1290.1,252.2 L1290.1,308.1 L1289,306.7 L1287.9,299.2 L1286.7,301.7 L1285.6,309.6 L1284.5,309.5 L1283.4,308.2 L1282.3,306.5 L1281.1,315.9 L1280,311.8 L1278.9,311.7 L1277.8,308.8 L1276.7,312.3 L1275.5,309.4 L1274.4,310.2 L1273.3,302.6 L1272.2,309.7 L1271.1,313.9 L1269.9,311.9 L1268.8,313.9 L1267.7,314.1 L1266.6,310.4 L1265.5,303.1 L1264.3,307.1 L1263.2,311.1 L1262.1,301.4 L1261,314.7 L1259.9,310.7 L1258.7,306.2 L1257.6,305.5 L1256.5,309.6 L1255.4,308.1 L1254.3,306 L1253.1,309.8 L1252,310.9 L1250.9,311.1 L1249.8,308.9 L1248.7,295.4 L1247.5,308 L1246.4,302.9 L1245.3,301.3 L1244.2,304.9 L1243.1,300.5 L1241.9,305.7 L1240.8,305.3 L1239.7,304.3 L1238.6,302 L1237.5,308.5 L1236.3,304.8 L1235.2,301.9 L1234.1,307 L1233,300.1 L1231.9,307.8 L1230.7,305.8 L1229.6,302 L1228.5,303.1 L1227.4,298 L1226.3,298.5 L1225.1,293.8 L1224,295.3 L1222.9,301 L1221.8,293.6 L1220.7,289.6 L1219.5,291.2 L1218.4,292 L1217.3,292.4 L1216.2,291.5 L1215.1,301 L1213.9,298.5 L1212.8,289.7 L1211.7,297.4 L1210.6,299 L1209.5,294.9 L1208.3,291.3 L1207.2,287.6 L1206.1,287.4 L1205,293.5 L1203.9,297.6 L1202.7,295.9 L1201.6,289.1 L1200.5,294.7 L1199.4,289.6 L1198.3,292.7 L1197.1,290.2 L1196,290.5 L1194.9,288.1 L1193.8,294.9 L1192.7,292.2 L1191.5,290.7 L1190.4,287.1 L1189.3,289.7 L1188.2,284.4 L1187.1,283.3 L1185.9,287.4 L1184.8,294.5 L1183.7,294.7 L1182.6,291.1 L1181.5,288.7 L1180.3,288.8 L1179.2,288 L1178.1,289.6 L1177,293.3 L1175.9,290.3 L1174.7,291.5 L1173.6,291.9 L1172.5,280.5 L1171.4,283.9 L1170.3,292.5 L1169.1,291 L1168,285.3 L1166.9,290.4 L1165.8,285 L1164.7,284.7 L1163.5,292.3 L1162.4,290.3 L1161.3,286 L1160.2,285.9 L1159.1,292.6 L1157.9,291.9 L1156.8,288.8 L1155.7,290.1 L1154.6,285.1 L1153.5,291.9 L1152.3,291.5 L1151.2,289.1 L1150.1,285.7 L1149,290.6 L1147.9,287.1 L1146.7,289.6 L1145.6,292.6 L1144.5,292.2 L1143.4,290.7 L1142.3,294.2 L1141.1,297.7 L1140,296.9 L1138.9,289.5 L1137.8,296.2 L1136.7,298.3 L1135.5,299.6 L1134.4,292.9 L1133.3,298.5 L1132.2,299.5 L1131.1,301.4 L1129.9,295.2 L1128.8,295.4 L1127.7,298.6 L1126.6,295.8 L1125.5,298.3 L1124.3,298.6 L1123.2,299.6 L1122.1,300.3 L1121,302.2 L1119.9,301.8 L1118.7,296.5 L1117.6,302.6 L1116.5,301 L1115.4,295.9 L1114.3,307.6 L1113.1,295.4 L1112,299.6 L1110.9,310.2 L1109.8,310.2 L1108.7,305.8 L1107.5,309.7 L1106.4,316.3 L1105.3,305.9 L1104.2,322.1 L1103.1,326.2 L1101.9,322.1 L1100.8,321.2 L1099.7,333.7 L1098.6,333.6 L1097.5,336.2 L1096.3,336.7 L1095.2,336.8 L1094.1,332 L1093,336.2 L1091.9,326.3 L1090.7,329.7 L1089.6,311.8 L1088.5,312.9 L1087.4,322.4 L1086.3,329.4 L1085.1,328.6 L1084,322.5 L1082.9,325.4 L1081.8,321.1 L1080.7,309 L1079.5,318.5 L1078.4,310.4 L1077.3,318.3 L1076.2,312.1 L1075.1,317.6 L1073.9,315.1 L1072.8,308.7 L1071.7,314.5 L1070.6,313.7 L1069.5,309 L1068.3,307.3 L1067.2,300.4 L1066.1,289.2 L1065,303.2 L1063.9,291.6 L1062.7,286.8 L1061.6,289.9 L1060.5,299.6 L1059.4,300.3 L1058.3,300.8 L1057.1,297.2 L1056,294.5 L1054.9,299.6 L1053.8,290.8 L1052.7,297 L1051.5,297.9 L1050.4,284.1 L1049.3,291.7 L1048.2,297.3 L1047.1,295 L1045.9,296.3 L1044.8,293.9 L1043.7,277.7 L1042.6,283 L1041.5,286.5 L1040.3,295.5 L1039.2,295.3 L1038.1,292.8 L1037,283.7 L1035.9,299.5 L1034.7,298.6 L1033.6,287.9 L1032.5,296.8 L1031.4,290.7 L1030.3,291.4 L1029.1,298.4 L1028,305.2 L1026.9,294.5 L1025.8,310.5 L1024.7,304.7 L1023.5,304 L1022.4,306.7 L1021.3,307.5 L1020.2,296.7 L1019.1,295.7 L1017.9,307.9 L1016.8,305.4 L1015.7,299.6 L1014.6,292.6 L1013.5,306.8 L1012.3,292 L1011.2,306.6 L1010.1,313.2 L1009,303.5 L1007.9,291.5 L1006.7,311.1 L1005.6,309.6 L1004.5,303.4 L1003.4,318.5 L1002.3,318.7 L1001.1,314.5 L1000,309 L998.9,309.5 L997.8,301.4 L996.7,305.1 L995.5,285.5 L994.4,285 L993.3,291.5 L992.2,305.4 L991.1,317.8 L989.9,325.5 L988.8,326.4 L987.7,326 L986.6,331.9 L985.5,330.9 L984.3,328.7 L983.2,329.9 L982.1,323.7 L981,321.1 L979.9,322.9 L978.7,337.1 L977.6,336 L976.5,336.1 L975.4,339 L974.3,340.7 L973.1,335.7 L972,330 L970.9,309 L969.8,331 L968.7,330.3 L967.5,326.2 L966.4,307.2 L965.3,333.7 L964.2,329.1 L963.1,311.5 L961.9,319.9 L960.8,301.5 L959.7,322.6 L958.6,328 L957.5,322.3 L956.3,303.6 L955.2,320.6 L954.1,318.1 L953,295.4 L951.9,322.7 L950.7,321.6 L949.6,304.6 L948.5,326.4 L947.4,321.7 L946.3,314.3 L945.1,292.1 L944,288.4 L942.9,322.2 L941.8,312.6 L940.7,307.2 L939.5,318 L938.4,312.3 L937.3,298.7 L936.2,309.4 L935.1,316.4 L933.9,312.8 L932.8,310.5 L931.7,305.2 L930.6,293.2 L929.5,285.9 L928.3,313 L927.2,302.7 L926.1,312.3 L925,308.4 L923.9,293 L922.7,302.5 L921.6,289.1 L920.5,274.3 L919.4,294.8 L918.3,306.1 L917.1,295.8 L916,282.5 L914.9,281.2 L913.8,302.6 L912.7,298 L911.5,278.5 L910.4,301.8 L909.3,295.7 L908.2,301.3 L907.1,281 L905.9,277.5 L904.8,279.3 L903.7,293.7 L902.6,274 L901.5,295 L900.3,294.7 L899.2,279.3 L898.1,288.6 L897,263.1 L895.9,286 L894.7,256.1 L893.6,268.2 L892.5,301.8 L891.4,298.4 L890.3,282.1 L889.1,278.4 L888,299.6 L886.9,302.1 L885.8,294 L884.7,296.6 L883.5,274.4 L882.4,293.9 L881.3,291.9 L880.2,278.4 L879.1,267.8 L877.9,286.5 L876.8,271.5 L875.7,288.2 L874.6,283 L873.5,292.9 L872.3,285.3 L871.2,294.1 L870.1,288.1 L869,276.3 L867.9,245.9 L866.7,243.5 L865.6,265.5 L864.5,271.8 L863.4,259.9 L862.3,257.2 L861.1,262.2 L860,244.5 L858.9,261.6 L857.8,254.7 L856.7,250.1 L855.5,249.2 L854.4,248.1 L853.3,247.1 L852.2,264.1 L851.1,247.3 L849.9,267.6 L848.8,266.7 L847.7,257.4 L846.6,271.2 L845.5,268.9 L844.3,264.5 L843.2,247.9 L842.1,273.4 L841,264.6 L839.9,247.3 L838.7,250.6 L837.6,264.7 L836.5,256.4 L835.4,243 L834.3,264.2 L833.1,259.9 L832,262.3 L830.9,258.9 L829.8,251.9 L828.7,232.2 L827.5,251.2 L826.4,245.9 L825.3,255 L824.2,253.6 L823.1,242.4 L821.9,237.2 L820.8,231.8 L819.7,227.6 L818.6,247.2 L817.5,237.2 L816.3,229.3 L815.2,243.3 L814.1,242.5 L813,237.8 L811.9,239 L810.7,241.6 L809.6,242.3 L808.5,241 L807.4,246.9 L806.3,242.9 L805.1,241.7 L804,231.4 L802.9,229.1 L801.8,224.8 L800.7,242.8 L799.5,246.5 L798.4,244.4 L797.3,242 L796.2,249.5 L795.1,248 L793.9,245.4 L792.8,237.5 L791.7,244.9 L790.6,223.1 L789.5,250.8 L788.3,234.7 L787.2,231 L786.1,257 L785,259.2 L783.9,240.4 L782.7,268.9 L781.6,266.4 L780.5,250.1 L779.4,252.1 L778.3,258.7 L777.1,237.6 L776,285 L774.9,285.9 L773.8,293.8 L772.7,292.2 L771.5,289.2 L770.4,264.3 L769.3,284.4 L768.2,299.1 L767.1,270.7 L765.9,276.9 L764.8,302.5 L763.7,319.5 L762.6,327 L761.5,328.9 L760.3,324.4 L759.2,310.8 L758.1,287.6 L757,305.1 L755.9,287.3 L754.7,292.7 L753.6,308.3 L752.5,285Z" fill="#e0e0ec"/>
</g>
<circle cx="752.5" cy="262.7" r="9.3" fill="#76cee0" stroke="#8b80c2" stroke-width="1.2"/>
<circle cx="752.5" cy="271.4" r="9.3" fill="#76cee0" stroke="#8b80c2" stroke-width="1.2"/>
<circle cx="752.5" cy="285.2" r="9.3" fill="#76cee0" stroke="#8b80c2" stroke-width="1.2"/>
<circle cx="752.5" cy="298.2" r="9.3" fill="#76cee0" stroke="#8b80c2" stroke-width="1.2"/>
<circle cx="752.5" cy="303.5" r="9.3" fill="#76cee0" stroke="#8b80c2" stroke-width="1.2"/>
<circle cx="752.5" cy="316.6" r="9.3" fill="#76cee0" stroke="#8b80c2" stroke-width="1.2"/>
<circle cx="797.3" cy="276.4" r="9.3" fill="#76cee0" stroke="#8b80c2" stroke-width="1.2"/>
<circle cx="797.3" cy="286.3" r="9.3" fill="#76cee0" stroke="#8b80c2" stroke-width="1.2"/>
<circle cx="797.3" cy="294.6" r="9.3" fill="#76cee0" stroke="#8b80c2" stroke-width="1.2"/>
<circle cx="797.3" cy="308.1" r="9.3" fill="#76cee0" stroke="#8b80c2" stroke-width="1.2"/>
<circle cx="797.3" cy="316.6" r="9.3" fill="#76cee0" stroke="#8b80c2" stroke-width="1.2"/>
<circle cx="842.1" cy="268.2" r="9.3" fill="#76cee0" stroke="#8b80c2" stroke-width="1.2"/>
<circle cx="842.1" cy="282.7" r="9.3" fill="#76cee0" stroke="#8b80c2" stroke-width="1.2"/>
<circle cx="842.1" cy="288" r="9.3" fill="#76cee0" stroke="#8b80c2" stroke-width="1.2"/>
<circle cx="842.1" cy="302.9" r="9.3" fill="#76cee0" stroke="#8b80c2" stroke-width="1.2"/>
<circle cx="886.9" cy="268.2" r="9.3" fill="#76cee0" stroke="#8b80c2" stroke-width="1.2"/>
<circle cx="886.9" cy="279.8" r="9.3" fill="#76cee0" stroke="#8b80c2" stroke-width="1.2"/>
<circle cx="886.9" cy="294" r="9.3" fill="#76cee0" stroke="#8b80c2" stroke-width="1.2"/>
<circle cx="886.9" cy="304.3" r="9.3" fill="#76cee0" stroke="#8b80c2" stroke-width="1.2"/>
<circle cx="931.7" cy="273.7" r="9.3" fill="#76cee0" stroke="#8b80c2" stroke-width="1.2"/>
<circle cx="931.7" cy="281.5" r="9.3" fill="#76cee0" stroke="#8b80c2" stroke-width="1.2"/>
<circle cx="931.7" cy="294.3" r="9.3" fill="#76cee0" stroke="#8b80c2" stroke-width="1.2"/>
<circle cx="931.7" cy="304.3" r="9.3" fill="#76cee0" stroke="#8b80c2" stroke-width="1.2"/>
<circle cx="976.5" cy="251.8" r="9.3" fill="#76cee0" stroke="#8b80c2" stroke-width="1.2"/>
<circle cx="976.5" cy="266" r="9.3" fill="#76cee0" stroke="#8b80c2" stroke-width="1.2"/>
<circle cx="976.5" cy="273.2" r="9.3" fill="#76cee0" stroke="#8b80c2" stroke-width="1.2"/>
<circle cx="976.5" cy="282.6" r="9.3" fill="#76cee0" stroke="#8b80c2" stroke-width="1.2"/>
<circle cx="976.5" cy="297.8" r="9.3" fill="#76cee0" stroke="#8b80c2" stroke-width="1.2"/>
<circle cx="976.5" cy="307" r="9.3" fill="#76cee0" stroke="#8b80c2" stroke-width="1.2"/>
<circle cx="1021.3" cy="246.3" r="9.3" fill="#76cee0" stroke="#8b80c2" stroke-width="1.2"/>
<circle cx="1021.3" cy="254.5" r="9.3" fill="#76cee0" stroke="#8b80c2" stroke-width="1.2"/>
<circle cx="1021.3" cy="265.1" r="9.3" fill="#76cee0" stroke="#8b80c2" stroke-width="1.2"/>
<circle cx="1021.3" cy="276.9" r="9.3" fill="#76cee0" stroke="#8b80c2" stroke-width="1.2"/>
<circle cx="1021.3" cy="289.7" r="9.3" fill="#76cee0" stroke="#8b80c2" stroke-width="1.2"/>
<circle cx="1021.3" cy="302" r="9.3" fill="#76cee0" stroke="#8b80c2" stroke-width="1.2"/>
<circle cx="1021.3" cy="312.5" r="9.3" fill="#76cee0" stroke="#8b80c2" stroke-width="1.2"/>
<circle cx="1066.1" cy="251.8" r="9.3" fill="#76cee0" stroke="#8b80c2" stroke-width="1.2"/>
<circle cx="1066.1" cy="262.1" r="9.3" fill="#76cee0" stroke="#8b80c2" stroke-width="1.2"/>
<circle cx="1066.1" cy="277.1" r="9.3" fill="#76cee0" stroke="#8b80c2" stroke-width="1.2"/>
<circle cx="1066.1" cy="282.4" r="9.3" fill="#76cee0" stroke="#8b80c2" stroke-width="1.2"/>
<circle cx="1066.1" cy="294.5" r="9.3" fill="#76cee0" stroke="#8b80c2" stroke-width="1.2"/>
<circle cx="1066.1" cy="307" r="9.3" fill="#76cee0" stroke="#8b80c2" stroke-width="1.2"/>
<circle cx="1110.9" cy="243.6" r="9.3" fill="#76cee0" stroke="#8b80c2" stroke-width="1.2"/>
<circle cx="1110.9" cy="256.7" r="9.3" fill="#76cee0" stroke="#8b80c2" stroke-width="1.2"/>
<circle cx="1110.9" cy="263.5" r="9.3" fill="#76cee0" stroke="#8b80c2" stroke-width="1.2"/>
<circle cx="1110.9" cy="277.8" r="9.3" fill="#76cee0" stroke="#8b80c2" stroke-width="1.2"/>
<circle cx="1110.9" cy="284.7" r="9.3" fill="#76cee0" stroke="#8b80c2" stroke-width="1.2"/>
<circle cx="1110.9" cy="298.4" r="9.3" fill="#76cee0" stroke="#8b80c2" stroke-width="1.2"/>
<circle cx="1110.9" cy="307" r="9.3" fill="#76cee0" stroke="#8b80c2" stroke-width="1.2"/>
<circle cx="1155.7" cy="246.3" r="9.3" fill="#76cee0" stroke="#8b80c2" stroke-width="1.2"/>
<circle cx="1155.7" cy="253.3" r="9.3" fill="#76cee0" stroke="#8b80c2" stroke-width="1.2"/>
<circle cx="1155.7" cy="264.2" r="9.3" fill="#76cee0" stroke="#8b80c2" stroke-width="1.2"/>
<circle cx="1155.7" cy="274.1" r="9.3" fill="#76cee0" stroke="#8b80c2" stroke-width="1.2"/>
<circle cx="1155.7" cy="285.1" r="9.3" fill="#76cee0" stroke="#8b80c2" stroke-width="1.2"/>
<circle cx="1200.5" cy="250.4" r="9.3" fill="#76cee0" stroke="#8b80c2" stroke-width="1.2"/>
<circle cx="1200.5" cy="263.5" r="9.3" fill="#76cee0" stroke="#8b80c2" stroke-width="1.2"/>
<circle cx="1200.5" cy="274.7" r="9.3" fill="#76cee0" stroke="#8b80c2" stroke-width="1.2"/>
<circle cx="1200.5" cy="283.8" r="9.3" fill="#76cee0" stroke="#8b80c2" stroke-width="1.2"/>
<circle cx="1245.3" cy="242.2" r="9.3" fill="#76cee0" stroke="#8b80c2" stroke-width="1.2"/>
<circle cx="1245.3" cy="251.2" r="9.3" fill="#76cee0" stroke="#8b80c2" stroke-width="1.2"/>
<circle cx="1245.3" cy="262" r="9.3" fill="#76cee0" stroke="#8b80c2" stroke-width="1.2"/>
<circle cx="1245.3" cy="273.2" r="9.3" fill="#76cee0" stroke="#8b80c2" stroke-width="1.2"/>
<circle cx="1245.3" cy="281" r="9.3" fill="#76cee0" stroke="#8b80c2" stroke-width="1.2"/>
<line x1="752.5" y1="264.4" x2="752.5" y2="319.1" stroke="#1f82c8" stroke-width="5.6"/>
<rect x="742.5" y="261.6" width="20" height="5.6" fill="#1f82c8"/>
<rect x="742.5" y="316.3" width="20" height="5.6" fill="#1f82c8"/>
<line x1="797.3" y1="258.9" x2="797.3" y2="320.4" stroke="#1f82c8" stroke-width="5.6"/>
<rect x="787.3" y="256.1" width="20" height="5.6" fill="#1f82c8"/>
<rect x="787.3" y="317.6" width="20" height="5.6" fill="#1f82c8"/>
<line x1="842.1" y1="263" x2="842.1" y2="310.9" stroke="#1f82c8" stroke-width="5.6"/>
<rect x="832.1" y="260.2" width="20" height="5.6" fill="#1f82c8"/>
<rect x="832.1" y="308.1" width="20" height="5.6" fill="#1f82c8"/>
<line x1="886.9" y1="258.1" x2="886.9" y2="312.2" stroke="#1f82c8" stroke-width="5.6"/>
<rect x="876.9" y="255.3" width="20" height="5.6" fill="#1f82c8"/>
<rect x="876.9" y="309.4" width="20" height="5.6" fill="#1f82c8"/>
<line x1="931.7" y1="263" x2="931.7" y2="302.7" stroke="#1f82c8" stroke-width="5.6"/>
<rect x="921.7" y="260.2" width="20" height="5.6" fill="#1f82c8"/>
<rect x="921.7" y="299.9" width="20" height="5.6" fill="#1f82c8"/>
<line x1="976.5" y1="237" x2="976.5" y2="320.4" stroke="#1f82c8" stroke-width="5.6"/>
<rect x="966.5" y="234.2" width="20" height="5.6" fill="#1f82c8"/>
<rect x="966.5" y="317.6" width="20" height="5.6" fill="#1f82c8"/>
<line x1="1021.3" y1="247.9" x2="1021.3" y2="321.8" stroke="#1f82c8" stroke-width="5.6"/>
<rect x="1011.3" y="245.1" width="20" height="5.6" fill="#1f82c8"/>
<rect x="1011.3" y="319" width="20" height="5.6" fill="#1f82c8"/>
<line x1="1066.1" y1="250.7" x2="1066.1" y2="321.8" stroke="#1f82c8" stroke-width="5.6"/>
<rect x="1056.1" y="247.9" width="20" height="5.6" fill="#1f82c8"/>
<rect x="1056.1" y="319" width="20" height="5.6" fill="#1f82c8"/>
<line x1="1110.9" y1="243.8" x2="1110.9" y2="323.2" stroke="#1f82c8" stroke-width="5.6"/>
<rect x="1100.9" y="241" width="20" height="5.6" fill="#1f82c8"/>
<rect x="1100.9" y="320.4" width="20" height="5.6" fill="#1f82c8"/>
<line x1="1155.7" y1="250.7" x2="1155.7" y2="297.2" stroke="#1f82c8" stroke-width="5.6"/>
<rect x="1145.7" y="247.9" width="20" height="5.6" fill="#1f82c8"/>
<rect x="1145.7" y="294.4" width="20" height="5.6" fill="#1f82c8"/>
<line x1="1200.5" y1="250.7" x2="1200.5" y2="290.3" stroke="#1f82c8" stroke-width="5.6"/>
<rect x="1190.5" y="247.9" width="20" height="5.6" fill="#1f82c8"/>
<rect x="1190.5" y="287.5" width="20" height="5.6" fill="#1f82c8"/>
<line x1="1245.3" y1="247.9" x2="1245.3" y2="290.3" stroke="#1f82c8" stroke-width="5.6"/>
<rect x="1235.3" y="245.1" width="20" height="5.6" fill="#1f82c8"/>
<rect x="1235.3" y="287.5" width="20" height="5.6" fill="#1f82c8"/>
<polyline points="752.5,290.3 797.3,289 842.1,286.2 886.9,284.9 931.7,282.1 976.5,278 1021.3,284.9 1066.1,287.6 1110.9,286.2 1155.7,280.8 1200.5,275.3 1245.3,268.5" fill="none" stroke="#1f82c8" stroke-width="6" stroke-linejoin="round"/>
<line x1="752.9" y1="267.6" x2="1290.1" y2="267.6" stroke="#505050" stroke-width="1.8" stroke-dasharray="5.3,6.116"/>
<g clip-path="url(#clipB)">
<polyline points="752.5,87.3 754,119.5 755.5,109 757,135.8 758.5,140.4 760,120.1 761.5,124.7 763,130.4 764.4,114.5 765.9,130.4 767.4,140 768.9,161.5 770.4,148.3 771.9,150.8 773.4,158 774.9,136.5 776.4,135.9 777.9,165.8 779.4,112.9 780.9,134.9 782.4,121.2 783.9,150.6 785.4,160.9 786.8,157.8 788.3,159.5 789.8,169.8 791.3,163.7 792.8,156 794.3,173.6 795.8,175.2 797.3,200 798.8,203.8 800.3,213.1 801.8,214.1 803.3,195.6 804.8,181.5 806.3,196 807.8,185.2 809.2,204.9 810.7,209.2 812.2,207.6 813.7,198.3 815.2,192.8 816.7,201 818.2,182.6 819.7,196.3 821.2,181.9 822.7,182.1 824.2,202.5 825.7,173 827.2,163.6 828.7,180.7 830.2,167.7 831.6,164.6 833.1,166.9 834.6,182.8 836.1,173.8 837.6,169.7 839.1,201.6 840.6,190.7 842.1,202.4 843.6,203.4 845.1,211.4 846.6,212.5 848.1,201.1 849.6,176.7 851.1,167.3 852.6,192.9 854,176.6 855.5,198.9 857,180.2 858.5,199.8 860,196.3 861.5,205.6 863,203.9 864.5,206.3 866,189.8 867.5,199.8 869,208.2 870.5,215.9 872,220.1 873.5,221 875,202.3 876.4,218.9 877.9,225.1 879.4,238.6 880.9,215.5 882.4,215.1 883.9,227.4 885.4,227.5 886.9,215.2 888.4,238.9 889.9,208.6 891.4,203.7 892.9,197.6 894.4,219.3 895.9,206.6 897.4,213.1 898.8,203.6 900.3,222.4 901.8,195.1 903.3,190.8 904.8,195.2 906.3,221.4 907.8,216.9 909.3,226.3 910.8,210.8 912.3,224.7 913.8,207 915.3,197.2 916.8,204 918.3,220.2 919.8,218.1 921.2,223.4 922.7,225.7 924.2,228.6 925.7,243.9 927.2,221.3 928.7,225.1 930.2,229.6 931.7,211 933.2,237.3 934.7,213 936.2,206.4 937.7,209.7 939.2,210.3 940.7,239.8 942.2,234.2 943.6,243.2 945.1,217 946.6,228.2 948.1,215.9 949.6,219.8 951.1,218.6 952.6,241.6 954.1,202.1 955.6,206.6 957.1,221 958.6,250.1 960.1,245 961.6,236 963.1,261.5 964.6,237.9 966,264.9 967.5,251.8 969,235.7 970.5,254.5 972,218.5 973.5,232.1 975,233.2 976.5,213.9 978,221.1 979.5,245.6 981,244.1 982.5,252.6 984,250.4 985.5,240.8 987,232.6 988.4,227.4 989.9,232.4 991.4,242.2 992.9,252.8 994.4,250.6 995.9,253.7 997.4,257.7 998.9,240.6 1000.4,232.8 1001.9,227.5 1003.4,249.4 1004.9,235.5 1006.4,251.1 1007.9,250.9 1009.4,254.1 1010.8,256.3 1012.3,268.7 1013.8,260.5 1015.3,248.5 1016.8,248.5 1018.3,261.4 1019.8,261.9 1021.3,265 1022.8,249.7 1024.3,259.4 1025.8,264.2 1027.3,268.4 1028.8,251 1030.3,265.6 1031.8,255.6 1033.2,268.1 1034.7,270.8 1036.2,269.8 1037.7,247.8 1039.2,244.1 1040.7,258.8 1042.2,262.6 1043.7,248.5 1045.2,256.3 1046.7,259.1 1048.2,249.4 1049.7,239.5 1051.2,232.3 1052.7,246 1054.2,235 1055.6,239.8 1057.1,253.1 1058.6,249.4 1060.1,247.9 1061.6,256.7 1063.1,246.8 1064.6,243.6 1066.1,260.3 1067.6,264.4 1069.1,254.9 1070.6,264.9 1072.1,255.3 1073.6,258.7 1075.1,272.3 1076.6,281.6 1078,278.3 1079.5,274.2 1081,287.8 1082.5,293 1084,279 1085.5,268.9 1087,266.9 1088.5,262.1 1090,264.7 1091.5,261.1 1093,281.7 1094.5,271.3 1096,260.1 1097.5,262.1 1099,254.9 1100.4,286.3 1101.9,297.1 1103.4,290.1 1104.9,283.6 1106.4,285.5 1107.9,293.7 1109.4,280.6 1110.9,258.6 1112.4,272.3 1113.9,275.9 1115.4,263.2 1116.9,258.7 1118.4,266.2 1119.9,259.8 1121.4,268.1 1122.8,273.4 1124.3,280.6 1125.8,289.9 1127.3,287.1 1128.8,276.6 1130.3,273.7 1131.8,277.6 1133.3,275.7 1134.8,280.7 1136.3,285.8 1137.8,283.9 1139.3,279.7 1140.8,274.6 1142.3,271.4 1143.8,265.8 1145.2,266.5 1146.7,273.4 1148.2,269.4 1149.7,267 1151.2,280.4 1152.7,287.2 1154.2,287.1 1155.7,274.7 1157.2,268.2 1158.7,269.9 1160.2,274.6 1161.7,277.8 1163.2,284.8 1164.7,274.5 1166.2,280.1 1167.6,256 1169.1,256.3 1170.6,257.3 1172.1,265.9 1173.6,255.5 1175.1,267.9 1176.6,253 1178.1,263.1 1179.6,255.7 1181.1,264.1 1182.6,252 1184.1,246.8 1185.6,266.5 1187.1,263 1188.6,257.7 1190,259.3 1191.5,261.6 1193,263.1 1194.5,265.6 1196,277 1197.5,264 1199,261.3 1200.5,284 1202,276.7 1203.5,279.8 1205,260.8 1206.5,256.8 1208,266.4 1209.5,250.7 1211,266.4 1212.4,273 1213.9,270.5 1215.4,279.2 1216.9,284.2 1218.4,287.8 1219.9,289.6 1221.4,289.5 1222.9,291.8 1224.4,291.2 1225.9,290.4 1227.4,276.8 1228.9,276.4 1230.4,289.9 1231.9,283.1 1233.4,281.9 1234.8,281.1 1236.3,280.8 1237.8,282.1 1239.3,272.9 1240.8,269.7 1242.3,282.1 1243.8,292.4 1245.3,290.2 1246.8,286.4 1248.3,278.7 1249.8,283.1 1251.3,287.1 1252.8,287.6 1254.3,277.6 1255.8,279.3 1257.2,280.2 1258.7,278.2 1260.2,275 1261.7,284.3 1263.2,268.2 1264.7,272 1266.2,280.4 1267.7,271.2 1269.2,267.3 1270.7,266.9 1272.2,267.6 1273.7,272 1275.2,275.7 1276.7,276.8 1278.2,283.7 1279.6,295.8 1281.1,276.9 1282.6,281.4 1284.1,282.5 1285.6,292.5 1287.1,294.6 1288.6,310.9 1290.1,320.4" fill="none" stroke="#606060" stroke-width="2.6" stroke-linejoin="round"/>
<polyline points="752.5,176.8 761.5,186.4 770.4,171.3 779.4,168.6 788.3,178.2 797.3,211 806.3,201.4 815.2,191.8 824.2,187.7 833.1,189.1 842.1,197.3 851.1,201.4 860,206.9 869,208.3 877.9,211 886.9,234.3 895.9,221.9 904.8,227.4 913.8,228.8 922.7,234.3 931.7,234.3 940.7,235.6 949.6,232.9 958.6,256.1 967.5,258.9 976.5,223.3 985.5,247.9 994.4,250.7 1003.4,250.7 1012.3,264.4 1021.3,267.1 1030.3,267.1 1039.2,265.7 1048.2,261.6 1057.1,256.1 1066.1,260.2 1075.1,269.8 1084,267.1 1093,275.3 1101.9,271.2 1110.9,265.7 1119.9,263 1128.8,267.1 1137.8,269.8 1146.7,272.6 1155.7,273.9 1164.7,272.6 1173.6,269.8 1182.6,267.1 1191.5,267.1 1200.5,267.1 1209.5,261.6 1218.4,267.1 1227.4,268.5 1236.3,267.1 1245.3,275.3 1254.3,268.5 1263.2,286.2 1272.2,272.6 1281.1,275.3 1290.1,273.9" fill="none" stroke="#d71a2b" stroke-width="7" stroke-linejoin="round" stroke-linecap="butt"/>
<polyline points="752.5,86.5 761.5,142.6 770.4,148.1 779.4,120.7 788.3,146.7 797.3,194.6 806.3,194.6 815.2,193.2 824.2,183.6 833.1,180.9 842.1,198.7 851.1,185 860,189.1 869,189.1 877.9,215.1 886.9,231.5 895.9,198.7 904.8,208.3 913.8,215.1 922.7,238.4 931.7,226 940.7,228.8 949.6,217.8 958.6,237 967.5,258.9 976.5,228.8 985.5,243.8 994.4,242.5 1003.4,243.8 1012.3,253.4 1021.3,258.9 1030.3,258.9 1039.2,253.4 1048.2,243.8 1057.1,247.9 1066.1,252 1075.1,267.1 1084,280.8 1093,275.3 1101.9,286.2 1110.9,263 1119.9,267.1 1128.8,276.7 1137.8,275.3 1146.7,279.4 1155.7,276.7 1164.7,269.8 1173.6,264.4 1182.6,258.9 1191.5,273.9 1200.5,271.2 1209.5,263 1218.4,275.3 1227.4,283.5 1236.3,280.8 1245.3,283.5 1254.3,269.8 1263.2,275.3 1272.2,282.1 1281.1,279.4 1290.1,317.7" fill="none" stroke="#333333" stroke-width="8" stroke-linejoin="round" stroke-linecap="butt"/>
</g>
<path transform="translate(697.1,54.8) scale(0.02750,-0.02750)" d="M345,0 L253,0 L253,525 C215,480 140,452 62,446 L62,509 C165,522 238,580 262,709 L345,709 Z" fill="#222"/><text x="712.4" y="54.8" font-size="27.5" fill="#222">.5</text>
<path transform="translate(720,129.1) scale(0.02750,-0.02750)" d="M345,0 L253,0 L253,525 C215,480 140,452 62,446 L62,509 C165,522 238,580 262,709 L345,709 Z" fill="#222"/>
<text x="697.1" y="203.3" font-size="27.5" fill="#222">0.5</text>
<text x="720" y="277.6" font-size="27.5" fill="#222">0</text>
<text x="687.9" y="351.8" font-size="27.5" fill="#222">-0.5</text>
<path transform="translate(766.7,387.3) scale(0.02750,-0.02750)" d="M345,0 L253,0 L253,525 C215,480 140,452 62,446 L62,509 C165,522 238,580 262,709 L345,709 Z" fill="#222"/><text x="782" y="387.3" font-size="27.5" fill="#222">965</text>
<path transform="translate(856.3,387.3) scale(0.02750,-0.02750)" d="M345,0 L253,0 L253,525 C215,480 140,452 62,446 L62,509 C165,522 238,580 262,709 L345,709 Z" fill="#222"/><text x="871.6" y="387.3" font-size="27.5" fill="#222">975</text>
<path transform="translate(945.9,387.3) scale(0.02750,-0.02750)" d="M345,0 L253,0 L253,525 C215,480 140,452 62,446 L62,509 C165,522 238,580 262,709 L345,709 Z" fill="#222"/><text x="961.2" y="387.3" font-size="27.5" fill="#222">985</text>
<path transform="translate(1035.5,387.3) scale(0.02750,-0.02750)" d="M345,0 L253,0 L253,525 C215,480 140,452 62,446 L62,509 C165,522 238,580 262,709 L345,709 Z" fill="#222"/><text x="1050.8" y="387.3" font-size="27.5" fill="#222">995</text>
<text x="1125.1" y="387.3" font-size="27.5" fill="#222">2005</text>
<text x="1214.7" y="387.3" font-size="27.5" fill="#222">20</text><path transform="translate(1245.3,387.3) scale(0.02750,-0.02750)" d="M345,0 L253,0 L253,525 C215,480 140,452 62,446 L62,509 C165,522 238,580 262,709 L345,709 Z" fill="#222"/><text x="1260.6" y="387.3" font-size="27.5" fill="#222">5</text>
<text x="1256.9" y="328.3" font-size="28.5" text-anchor="end" font-weight="bold" fill="#000" >Pac</text>
<path d="M110,417.1 H657.4 V713.5 H110 Z" fill="none" stroke="#474747" stroke-width="1.6"/>
<path d="M154.8,713.5 v5 M154.8,417.1 v-5 M244.4,713.5 v5 M244.4,417.1 v-5 M334,713.5 v5 M334,417.1 v-5 M423.6,713.5 v5 M423.6,417.1 v-5 M513.2,713.5 v5 M513.2,417.1 v-5 M602.8,713.5 v5 M602.8,417.1 v-5 M110,713.5 h-5 M657.4,713.5 h5 M110,696.6 h-3 M657.4,696.6 h3 M110,679.6 h-3 M657.4,679.6 h3 M110,662.7 h-3 M657.4,662.7 h3 M110,645.8 h-3 M657.4,645.8 h3 M110,628.8 h-5 M657.4,628.8 h5 M110,611.9 h-3 M657.4,611.9 h3 M110,594.9 h-3 M657.4,594.9 h3 M110,578 h-3 M657.4,578 h3 M110,561.1 h-3 M657.4,561.1 h3 M110,544.1 h-5 M657.4,544.1 h5 M110,527.2 h-3 M657.4,527.2 h3 M110,510.3 h-3 M657.4,510.3 h3 M110,493.3 h-3 M657.4,493.3 h3 M110,476.4 h-3 M657.4,476.4 h3 M110,459.4 h-5 M657.4,459.4 h5 M110,442.5 h-3 M657.4,442.5 h3 M110,425.6 h-3 M657.4,425.6 h3" stroke="#474747" stroke-width="1.6" fill="none"/>
<clipPath id="clipC"><rect x="110.8" y="417.9" width="545.8" height="294.8"/></clipPath>
<g clip-path="url(#clipC)">
<path d="M110,479.4 L111.1,491.7 L112.2,484.7 L113.4,471.4 L114.5,464.6 L115.6,451.5 L116.7,465.8 L117.8,448.6 L119,438.2 L120.1,437.8 L121.2,436.5 L122.3,459.2 L123.4,451.8 L124.6,441.3 L125.7,437.8 L126.8,435.5 L127.9,437 L129,439.4 L130.2,443.6 L131.3,464.2 L132.4,496.7 L133.5,474.2 L134.6,465.2 L135.8,459.8 L136.9,463.9 L138,470.6 L139.1,488.1 L140.2,482.7 L141.4,511 L142.5,492.8 L143.6,489.8 L144.7,487.5 L145.8,488.6 L147,491.4 L148.1,493.5 L149.2,503.8 L150.3,500.5 L151.4,496.4 L152.6,498.6 L153.7,501 L154.8,523 L155.9,509 L157,494.5 L158.2,507.3 L159.3,525.2 L160.4,500.5 L161.5,510.2 L162.6,512.6 L163.8,520.6 L164.9,530.1 L166,493.8 L167.1,496.2 L168.2,502.6 L169.4,482.2 L170.5,482.4 L171.6,475.8 L172.7,496.1 L173.8,499.7 L175,488.4 L176.1,489.4 L177.2,492.2 L178.3,484.9 L179.4,487.4 L180.6,493.7 L181.7,494.9 L182.8,498.4 L183.9,497.7 L185,494.1 L186.2,501.6 L187.3,501.4 L188.4,501.7 L189.5,501.7 L190.6,515 L191.8,529.5 L192.9,518.4 L194,523.5 L195.1,513 L196.2,514 L197.4,525 L198.5,519.1 L199.6,518.6 L200.7,516.3 L201.8,532.5 L203,524.9 L204.1,529.2 L205.2,541.2 L206.3,560.8 L207.4,569 L208.6,558.4 L209.7,552.9 L210.8,539.9 L211.9,563.7 L213,568.3 L214.2,569 L215.3,557.9 L216.4,554.7 L217.5,559.2 L218.6,563.2 L219.8,562.7 L220.9,557.4 L222,585.6 L223.1,564.2 L224.2,561.6 L225.4,584.7 L226.5,582.7 L227.6,572.3 L228.7,561.7 L229.8,574.7 L231,559.2 L232.1,559.8 L233.2,557.7 L234.3,555.5 L235.4,549.4 L236.6,549.2 L237.7,549.7 L238.8,543 L239.9,541.4 L241,536.5 L242.2,534.5 L243.3,534.5 L244.4,548.8 L245.5,529 L246.6,532.4 L247.8,517 L248.9,503.5 L250,497.7 L251.1,508.9 L252.2,510.9 L253.4,485.3 L254.5,501.6 L255.6,479.8 L256.7,465.3 L257.8,460.1 L259,463.1 L260.1,463.6 L261.2,461.8 L262.3,439 L263.4,444.9 L264.6,467.8 L265.7,453.2 L266.8,450.6 L267.9,453.1 L269,469.2 L270.2,461.6 L271.3,489.1 L272.4,502.3 L273.5,487.7 L274.6,485.3 L275.8,508 L276.9,507.1 L278,510 L279.1,514.9 L280.2,520.9 L281.4,530.6 L282.5,521.9 L283.6,521.5 L284.7,525.9 L285.8,522.7 L287,522 L288.1,518.6 L289.2,513.6 L290.3,517.9 L291.4,509.9 L292.6,509.7 L293.7,516.2 L294.8,507.9 L295.9,509.2 L297,509.7 L298.2,502.6 L299.3,500.8 L300.4,495.4 L301.5,500.4 L302.6,495.6 L303.8,496.4 L304.9,498 L306,501.3 L307.1,517.8 L308.2,502.5 L309.4,495 L310.5,493.7 L311.6,512.4 L312.7,506.6 L313.8,508.9 L315,504.6 L316.1,509.9 L317.2,513 L318.3,513.3 L319.4,509.2 L320.6,521.8 L321.7,517.4 L322.8,517.8 L323.9,520.9 L325,526.2 L326.2,527.2 L327.3,516.4 L328.4,510.5 L329.5,510.8 L330.6,523.1 L331.8,501.4 L332.9,517.9 L334,495.7 L335.1,494.6 L336.2,489.1 L337.4,484.2 L338.5,505.3 L339.6,496.1 L340.7,498.1 L341.8,507.3 L343,486.5 L344.1,486.6 L345.2,495.7 L346.3,491.6 L347.4,508.4 L348.6,507.3 L349.7,519 L350.8,504.2 L351.9,497.8 L353,501.9 L354.2,512.1 L355.3,514.5 L356.4,511.9 L357.5,527.9 L358.6,524.2 L359.8,523.3 L360.9,525 L362,523.3 L363.1,531.2 L364.2,520.6 L365.4,532 L366.5,519 L367.6,538 L368.7,529.4 L369.8,515.7 L371,511.9 L372.1,525.4 L373.2,528.1 L374.3,522.7 L375.4,521.9 L376.6,520.6 L377.7,538.3 L378.8,528.5 L379.9,519.8 L381,529.2 L382.2,521.6 L383.3,517.3 L384.4,522.1 L385.5,518.8 L386.6,519.4 L387.8,528.8 L388.9,536.5 L390,525.7 L391.1,537 L392.2,523 L393.4,520.3 L394.5,518.7 L395.6,523.6 L396.7,517.1 L397.8,516.3 L399,512.1 L400.1,519.3 L401.2,518.2 L402.3,508 L403.4,509.3 L404.6,508.6 L405.7,504.3 L406.8,504.2 L407.9,502.9 L409,503.6 L410.2,516.7 L411.3,507 L412.4,503.2 L413.5,517.6 L414.6,519 L415.8,509 L416.9,508.6 L418,510.9 L419.1,508.6 L420.2,527.2 L421.4,521.2 L422.5,519.8 L423.6,529.6 L424.7,533.9 L425.8,541.2 L427,532.7 L428.1,529.5 L429.2,526.5 L430.3,536.3 L431.4,530.2 L432.6,540.6 L433.7,532 L434.8,535.7 L435.9,531.4 L437,528.4 L438.2,540.1 L439.3,546.4 L440.4,533.5 L441.5,533.5 L442.6,527.8 L443.8,533 L444.9,525 L446,524.8 L447.1,536.4 L448.2,524.4 L449.4,518.9 L450.5,530.7 L451.6,526.1 L452.7,514.7 L453.8,519.8 L455,509.5 L456.1,512.6 L457.2,505.9 L458.3,498.5 L459.4,497.9 L460.6,510.3 L461.7,516 L462.8,513 L463.9,522.2 L465,520.1 L466.2,523.2 L467.3,525.1 L468.4,537.3 L469.5,536.8 L470.6,534.1 L471.8,542.3 L472.9,538.9 L474,538 L475.1,538.5 L476.2,545.8 L477.4,544.7 L478.5,540.3 L479.6,543.8 L480.7,531.5 L481.8,524.5 L483,526.7 L484.1,522.5 L485.2,518.9 L486.3,521.1 L487.4,522.7 L488.6,508.5 L489.7,504.9 L490.8,507 L491.9,500.7 L493,496 L494.2,492.5 L495.3,490.6 L496.4,494.2 L497.5,485.7 L498.6,484.6 L499.8,476.5 L500.9,478.7 L502,471.2 L503.1,473.6 L504.2,469.3 L505.4,466.1 L506.5,461.5 L507.6,466.4 L508.7,463.4 L509.8,461.6 L511,464.8 L512.1,472.1 L513.2,461 L514.3,468.1 L515.4,462.7 L516.6,465.2 L517.7,456.4 L518.8,456.2 L519.9,455.9 L521,451.2 L522.2,452.9 L523.3,446.9 L524.4,443 L525.5,442.4 L526.6,453 L527.8,441.8 L528.9,439.3 L530,446.6 L531.1,438.5 L532.2,447.5 L533.4,446.3 L534.5,449.7 L535.6,446.2 L536.7,449.5 L537.8,450.8 L539,455.4 L540.1,458.3 L541.2,469.5 L542.3,460.2 L543.4,468.8 L544.6,465.2 L545.7,462.2 L546.8,463.6 L547.9,470.7 L549,467.8 L550.2,475 L551.3,468.2 L552.4,469.1 L553.5,473.1 L554.6,481.4 L555.8,476.7 L556.9,473.5 L558,479.7 L559.1,483 L560.2,476.9 L561.4,478.3 L562.5,474.1 L563.6,474.5 L564.7,475.8 L565.8,471.1 L567,470.8 L568.1,472.6 L569.2,474.8 L570.3,475.6 L571.4,476.5 L572.6,474.9 L573.7,475.1 L574.8,477.2 L575.9,478 L577,483.1 L578.2,477.6 L579.3,483.1 L580.4,474.6 L581.5,480.9 L582.6,477.4 L583.8,477.3 L584.9,475.2 L586,480.3 L587.1,477.3 L588.2,480 L589.4,477.4 L590.5,484.1 L591.6,477.7 L592.7,477.8 L593.8,476.5 L595,475.9 L596.1,478.2 L597.2,476 L598.3,481.1 L599.4,474.4 L600.6,475.7 L601.7,477.1 L602.8,473.1 L603.9,472.2 L605,467.8 L606.2,472.9 L607.3,473 L608.4,469.1 L609.5,465.5 L610.6,463 L611.8,465.5 L612.9,471.2 L614,461.8 L615.1,456.1 L616.2,462.9 L617.4,464.5 L618.5,462.3 L619.6,452.2 L620.7,449.8 L621.8,450 L623,450.2 L624.1,444.4 L625.2,445.3 L626.3,448.3 L627.4,441.3 L628.6,444.6 L629.7,436.8 L630.8,438.3 L631.9,433.8 L633,437.7 L634.2,429.7 L635.3,429.7 L636.4,424.9 L637.5,424.6 L638.6,421.7 L639.8,425.5 L640.9,421.3 L642,421.2 L643.1,424.9 L644.2,417.8 L645.4,422.4 L646.5,422.3 L647.6,420.3 L647.6,463.4 L646.5,460.9 L645.4,468.4 L644.2,470.1 L643.1,466.3 L642,471.9 L640.9,468.2 L639.8,469.3 L638.6,464.9 L637.5,464.6 L636.4,467.7 L635.3,474 L634.2,477.6 L633,482.2 L631.9,480.9 L630.8,481.6 L629.7,483.6 L628.6,485.7 L627.4,484.4 L626.3,487 L625.2,488.4 L624.1,490.8 L623,490.3 L621.8,492.1 L620.7,491.3 L619.6,498.6 L618.5,494.1 L617.4,503 L616.2,501.2 L615.1,507.4 L614,510 L612.9,512.1 L611.8,512.2 L610.6,506.9 L609.5,514.1 L608.4,511.8 L607.3,514.2 L606.2,514.2 L605,519.7 L603.9,522.2 L602.8,524.9 L601.7,521.9 L600.6,521.4 L599.4,518 L598.3,520.5 L597.2,517.7 L596.1,518.2 L595,524 L593.8,522.9 L592.7,522.4 L591.6,521.5 L590.5,524.8 L589.4,525.2 L588.2,517.4 L587.1,523.6 L586,527 L584.9,523.9 L583.8,516.9 L582.6,518.5 L581.5,520.9 L580.4,520.4 L579.3,530.5 L578.2,525.1 L577,532.9 L575.9,534.7 L574.8,529.1 L573.7,527.5 L572.6,527.6 L571.4,520.9 L570.3,525.5 L569.2,528.1 L568.1,529.1 L567,524.8 L565.8,530.6 L564.7,528.8 L563.6,535.4 L562.5,533.7 L561.4,529.8 L560.2,532.1 L559.1,532.2 L558,532.5 L556.9,532.4 L555.8,528.3 L554.6,524.4 L553.5,527.1 L552.4,530.2 L551.3,534.9 L550.2,530 L549,538 L547.9,534.7 L546.8,524 L545.7,534.1 L544.6,534.6 L543.4,526.5 L542.3,532 L541.2,525.4 L540.1,531.6 L539,519.1 L537.8,528.3 L536.7,525.4 L535.6,523.1 L534.5,511.4 L533.4,519.1 L532.2,521.4 L531.1,511.5 L530,522.1 L528.9,514.8 L527.8,514.5 L526.6,513.3 L525.5,523.8 L524.4,520.7 L523.3,511 L522.2,512.8 L521,521.6 L519.9,524.3 L518.8,515 L517.7,511.3 L516.6,520.4 L515.4,515.2 L514.3,523.2 L513.2,521.7 L512.1,518.6 L511,522.4 L509.8,520.4 L508.7,519.9 L507.6,517.2 L506.5,511.1 L505.4,516.7 L504.2,511.8 L503.1,520.5 L502,527.5 L500.9,535.5 L499.8,537.4 L498.6,539.1 L497.5,537 L496.4,537.4 L495.3,548.6 L494.2,548.7 L493,553.3 L491.9,550.6 L490.8,554.3 L489.7,564.7 L488.6,563.3 L487.4,571.5 L486.3,575.5 L485.2,577.5 L484.1,583.3 L483,585.8 L481.8,582.3 L480.7,588.2 L479.6,593.8 L478.5,592.9 L477.4,590.8 L476.2,594 L475.1,593.4 L474,590.5 L472.9,600.5 L471.8,595.8 L470.6,601.2 L469.5,601.2 L468.4,603.7 L467.3,598.3 L466.2,594.9 L465,594.8 L463.9,588.9 L462.8,581.9 L461.7,571.3 L460.6,559.5 L459.4,562.1 L458.3,566.7 L457.2,574.5 L456.1,567.3 L455,575.4 L453.8,579.7 L452.7,575.7 L451.6,588.2 L450.5,590.9 L449.4,592.3 L448.2,591 L447.1,593.9 L446,590.9 L444.9,593.7 L443.8,596.8 L442.6,590.9 L441.5,605.6 L440.4,604.2 L439.3,598.4 L438.2,593.8 L437,589.9 L435.9,598.9 L434.8,604.1 L433.7,594.5 L432.6,605.9 L431.4,600.7 L430.3,592.1 L429.2,599.7 L428.1,600.5 L427,604 L425.8,619 L424.7,619.6 L423.6,619 L422.5,617.5 L421.4,608.7 L420.2,609.6 L419.1,600.3 L418,599 L416.9,614.3 L415.8,604.5 L414.6,616.3 L413.5,613.6 L412.4,599.9 L411.3,615.7 L410.2,602 L409,614.2 L407.9,612 L406.8,621.3 L405.7,618.9 L404.6,615.8 L403.4,621.5 L402.3,620.5 L401.2,614 L400.1,633.5 L399,637.8 L397.8,626.8 L396.7,642.8 L395.6,645.4 L394.5,641.4 L393.4,625.9 L392.2,643.8 L391.1,626.6 L390,625.7 L388.9,633.6 L387.8,637.6 L386.6,632.6 L385.5,643.7 L384.4,648.2 L383.3,646.7 L382.2,642.2 L381,633.1 L379.9,637.9 L378.8,635.3 L377.7,631.3 L376.6,619.6 L375.4,626.3 L374.3,631.7 L373.2,620.7 L372.1,629.5 L371,615.9 L369.8,630.8 L368.7,629.6 L367.6,623.7 L366.5,633.7 L365.4,632.8 L364.2,627.1 L363.1,636.3 L362,635.7 L360.9,620.4 L359.8,628.2 L358.6,616.1 L357.5,631.4 L356.4,622.2 L355.3,615.9 L354.2,616 L353,606 L351.9,600.1 L350.8,602.8 L349.7,594.7 L348.6,597.3 L347.4,602.6 L346.3,604.4 L345.2,592.1 L344.1,597.8 L343,607 L341.8,611.6 L340.7,606.5 L339.6,605.3 L338.5,614 L337.4,609.7 L336.2,616.8 L335.1,609.8 L334,620.7 L332.9,620.7 L331.8,615.5 L330.6,622.7 L329.5,618.8 L328.4,627 L327.3,613.2 L326.2,636.5 L325,635.8 L323.9,628.3 L322.8,617 L321.7,624.6 L320.6,621.4 L319.4,629.4 L318.3,622.6 L317.2,623.2 L316.1,620.3 L315,610.5 L313.8,605.3 L312.7,622.9 L311.6,626.7 L310.5,619.9 L309.4,616.4 L308.2,607.8 L307.1,619.8 L306,620.3 L304.9,617.7 L303.8,620.3 L302.6,617.8 L301.5,620.2 L300.4,612.6 L299.3,624.7 L298.2,621.4 L297,606.8 L295.9,617.9 L294.8,626 L293.7,610.7 L292.6,624.6 L291.4,614.1 L290.3,634.7 L289.2,637 L288.1,623.4 L287,632.9 L285.8,621 L284.7,631.8 L283.6,644.3 L282.5,637.8 L281.4,648.6 L280.2,639.7 L279.1,624 L278,639.2 L276.9,636.6 L275.8,618.2 L274.6,622.1 L273.5,596.6 L272.4,604.1 L271.3,618.9 L270.2,626.8 L269,623.1 L267.9,618.6 L266.8,605.9 L265.7,620.5 L264.6,614.1 L263.4,605.7 L262.3,601.5 L261.2,621.3 L260.1,618 L259,609.4 L257.8,592.2 L256.7,602.9 L255.6,631.2 L254.5,618.9 L253.4,644.5 L252.2,640.9 L251.1,636.3 L250,633.8 L248.9,622.5 L247.8,623.4 L246.6,635.5 L245.5,629.9 L244.4,615.8 L243.3,629 L242.2,626.6 L241,623.9 L239.9,637.3 L238.8,637.1 L237.7,637.9 L236.6,638.5 L235.4,633.4 L234.3,642.7 L233.2,632.4 L232.1,642.2 L231,658.6 L229.8,662.9 L228.7,664.1 L227.6,659.9 L226.5,680.4 L225.4,670.3 L224.2,689 L223.1,686.8 L222,674.8 L220.9,674.9 L219.8,698.2 L218.6,702.1 L217.5,706.6 L216.4,701.2 L215.3,702.4 L214.2,698.3 L213,678.3 L211.9,709.4 L210.8,706.6 L209.7,702.2 L208.6,691.7 L207.4,677.5 L206.3,680.3 L205.2,686.9 L204.1,675.6 L203,689.8 L201.8,687.6 L200.7,680.4 L199.6,663.7 L198.5,660.8 L197.4,671 L196.2,656.1 L195.1,634.2 L194,651.1 L192.9,649.7 L191.8,642.8 L190.6,639.3 L189.5,631.3 L188.4,642.3 L187.3,633.7 L186.2,616.4 L185,629.5 L183.9,643 L182.8,638.8 L181.7,637.2 L180.6,622.4 L179.4,620.1 L178.3,639.3 L177.2,630.5 L176.1,642.9 L175,620.8 L173.8,631 L172.7,640.9 L171.6,634.6 L170.5,632.8 L169.4,653.3 L168.2,640.7 L167.1,661.6 L166,642.3 L164.9,681 L163.8,675.5 L162.6,652.8 L161.5,673.4 L160.4,668.5 L159.3,650.1 L158.2,668.7 L157,657 L155.9,642.5 L154.8,672.6 L153.7,663.7 L152.6,642.2 L151.4,635.1 L150.3,662.2 L149.2,658 L148.1,650.9 L147,639.8 L145.8,621.3 L144.7,637.8 L143.6,648.5 L142.5,646.8 L141.4,655 L140.2,653.7 L139.1,657.1 L138,663.8 L136.9,659.2 L135.8,648.7 L134.6,667.8 L133.5,663.7 L132.4,660.7 L131.3,654.5 L130.2,633.3 L129,629.6 L127.9,657.7 L126.8,663.8 L125.7,643.9 L124.6,673.8 L123.4,661.5 L122.3,655.8 L121.2,640.5 L120.1,637.8 L119,672.8 L117.8,670.1 L116.7,678.4 L115.6,673.3 L114.5,656.6 L113.4,681.7 L112.2,701.3 L111.1,705 L110,711.9Z" fill="#e0e0ec"/>
</g>
<circle cx="110" cy="523.3" r="9.3" fill="#76cee0" stroke="#8b80c2" stroke-width="1.2"/>
<circle cx="110" cy="537" r="9.3" fill="#76cee0" stroke="#8b80c2" stroke-width="1.2"/>
<circle cx="110" cy="543.7" r="9.3" fill="#76cee0" stroke="#8b80c2" stroke-width="1.2"/>
<circle cx="110" cy="557" r="9.3" fill="#76cee0" stroke="#8b80c2" stroke-width="1.2"/>
<circle cx="110" cy="567.6" r="9.3" fill="#76cee0" stroke="#8b80c2" stroke-width="1.2"/>
<circle cx="154.8" cy="534.2" r="9.3" fill="#76cee0" stroke="#8b80c2" stroke-width="1.2"/>
<circle cx="154.8" cy="543.1" r="9.3" fill="#76cee0" stroke="#8b80c2" stroke-width="1.2"/>
<circle cx="154.8" cy="556.3" r="9.3" fill="#76cee0" stroke="#8b80c2" stroke-width="1.2"/>
<circle cx="154.8" cy="567.6" r="9.3" fill="#76cee0" stroke="#8b80c2" stroke-width="1.2"/>
<circle cx="199.6" cy="526" r="9.3" fill="#76cee0" stroke="#8b80c2" stroke-width="1.2"/>
<circle cx="199.6" cy="537.8" r="9.3" fill="#76cee0" stroke="#8b80c2" stroke-width="1.2"/>
<circle cx="199.6" cy="544.3" r="9.3" fill="#76cee0" stroke="#8b80c2" stroke-width="1.2"/>
<circle cx="199.6" cy="558" r="9.3" fill="#76cee0" stroke="#8b80c2" stroke-width="1.2"/>
<circle cx="244.4" cy="541.1" r="9.3" fill="#76cee0" stroke="#8b80c2" stroke-width="1.2"/>
<circle cx="244.4" cy="554.8" r="9.3" fill="#76cee0" stroke="#8b80c2" stroke-width="1.2"/>
<circle cx="244.4" cy="564.9" r="9.3" fill="#76cee0" stroke="#8b80c2" stroke-width="1.2"/>
<circle cx="289.2" cy="527.4" r="9.3" fill="#76cee0" stroke="#8b80c2" stroke-width="1.2"/>
<circle cx="289.2" cy="534.4" r="9.3" fill="#76cee0" stroke="#8b80c2" stroke-width="1.2"/>
<circle cx="289.2" cy="545.7" r="9.3" fill="#76cee0" stroke="#8b80c2" stroke-width="1.2"/>
<circle cx="289.2" cy="553.9" r="9.3" fill="#76cee0" stroke="#8b80c2" stroke-width="1.2"/>
<circle cx="334" cy="523.3" r="9.3" fill="#76cee0" stroke="#8b80c2" stroke-width="1.2"/>
<circle cx="334" cy="530.1" r="9.3" fill="#76cee0" stroke="#8b80c2" stroke-width="1.2"/>
<circle cx="334" cy="545.3" r="9.3" fill="#76cee0" stroke="#8b80c2" stroke-width="1.2"/>
<circle cx="334" cy="551.6" r="9.3" fill="#76cee0" stroke="#8b80c2" stroke-width="1.2"/>
<circle cx="334" cy="562.1" r="9.3" fill="#76cee0" stroke="#8b80c2" stroke-width="1.2"/>
<circle cx="378.8" cy="505.5" r="9.3" fill="#76cee0" stroke="#8b80c2" stroke-width="1.2"/>
<circle cx="378.8" cy="513.2" r="9.3" fill="#76cee0" stroke="#8b80c2" stroke-width="1.2"/>
<circle cx="378.8" cy="524.7" r="9.3" fill="#76cee0" stroke="#8b80c2" stroke-width="1.2"/>
<circle cx="378.8" cy="535.7" r="9.3" fill="#76cee0" stroke="#8b80c2" stroke-width="1.2"/>
<circle cx="378.8" cy="543.3" r="9.3" fill="#76cee0" stroke="#8b80c2" stroke-width="1.2"/>
<circle cx="378.8" cy="557.4" r="9.3" fill="#76cee0" stroke="#8b80c2" stroke-width="1.2"/>
<circle cx="378.8" cy="564.9" r="9.3" fill="#76cee0" stroke="#8b80c2" stroke-width="1.2"/>
<circle cx="423.6" cy="521.9" r="9.3" fill="#76cee0" stroke="#8b80c2" stroke-width="1.2"/>
<circle cx="423.6" cy="533.7" r="9.3" fill="#76cee0" stroke="#8b80c2" stroke-width="1.2"/>
<circle cx="423.6" cy="544.3" r="9.3" fill="#76cee0" stroke="#8b80c2" stroke-width="1.2"/>
<circle cx="423.6" cy="549.8" r="9.3" fill="#76cee0" stroke="#8b80c2" stroke-width="1.2"/>
<circle cx="423.6" cy="562.6" r="9.3" fill="#76cee0" stroke="#8b80c2" stroke-width="1.2"/>
<circle cx="423.6" cy="573.1" r="9.3" fill="#76cee0" stroke="#8b80c2" stroke-width="1.2"/>
<circle cx="468.4" cy="524.6" r="9.3" fill="#76cee0" stroke="#8b80c2" stroke-width="1.2"/>
<circle cx="468.4" cy="535.4" r="9.3" fill="#76cee0" stroke="#8b80c2" stroke-width="1.2"/>
<circle cx="468.4" cy="547.8" r="9.3" fill="#76cee0" stroke="#8b80c2" stroke-width="1.2"/>
<circle cx="468.4" cy="555.6" r="9.3" fill="#76cee0" stroke="#8b80c2" stroke-width="1.2"/>
<circle cx="468.4" cy="562.5" r="9.3" fill="#76cee0" stroke="#8b80c2" stroke-width="1.2"/>
<circle cx="468.4" cy="575.8" r="9.3" fill="#76cee0" stroke="#8b80c2" stroke-width="1.2"/>
<circle cx="513.2" cy="528.7" r="9.3" fill="#76cee0" stroke="#8b80c2" stroke-width="1.2"/>
<circle cx="513.2" cy="537.5" r="9.3" fill="#76cee0" stroke="#8b80c2" stroke-width="1.2"/>
<circle cx="513.2" cy="546.8" r="9.3" fill="#76cee0" stroke="#8b80c2" stroke-width="1.2"/>
<circle cx="513.2" cy="556.7" r="9.3" fill="#76cee0" stroke="#8b80c2" stroke-width="1.2"/>
<circle cx="558" cy="534.2" r="9.3" fill="#76cee0" stroke="#8b80c2" stroke-width="1.2"/>
<circle cx="558" cy="549.8" r="9.3" fill="#76cee0" stroke="#8b80c2" stroke-width="1.2"/>
<circle cx="602.8" cy="527.4" r="9.3" fill="#76cee0" stroke="#8b80c2" stroke-width="1.2"/>
<circle cx="602.8" cy="537.6" r="9.3" fill="#76cee0" stroke="#8b80c2" stroke-width="1.2"/>
<circle cx="602.8" cy="547.3" r="9.3" fill="#76cee0" stroke="#8b80c2" stroke-width="1.2"/>
<circle cx="602.8" cy="556.7" r="9.3" fill="#76cee0" stroke="#8b80c2" stroke-width="1.2"/>
<line x1="110" y1="507.1" x2="110" y2="568.7" stroke="#1f82c8" stroke-width="5.6"/>
<rect x="100" y="504.3" width="20" height="5.6" fill="#1f82c8"/>
<rect x="100" y="565.9" width="20" height="5.6" fill="#1f82c8"/>
<line x1="154.8" y1="522.2" x2="154.8" y2="575.5" stroke="#1f82c8" stroke-width="5.6"/>
<rect x="144.8" y="519.4" width="20" height="5.6" fill="#1f82c8"/>
<rect x="144.8" y="572.7" width="20" height="5.6" fill="#1f82c8"/>
<line x1="199.6" y1="514.5" x2="199.6" y2="564.6" stroke="#1f82c8" stroke-width="5.6"/>
<rect x="189.6" y="511.7" width="20" height="5.6" fill="#1f82c8"/>
<rect x="189.6" y="561.8" width="20" height="5.6" fill="#1f82c8"/>
<line x1="244.4" y1="530.4" x2="244.4" y2="567.3" stroke="#1f82c8" stroke-width="5.6"/>
<rect x="234.4" y="527.6" width="20" height="5.6" fill="#1f82c8"/>
<rect x="234.4" y="564.5" width="20" height="5.6" fill="#1f82c8"/>
<line x1="289.2" y1="522.2" x2="289.2" y2="561.8" stroke="#1f82c8" stroke-width="5.6"/>
<rect x="279.2" y="519.4" width="20" height="5.6" fill="#1f82c8"/>
<rect x="279.2" y="559" width="20" height="5.6" fill="#1f82c8"/>
<line x1="334" y1="509.9" x2="334" y2="575.5" stroke="#1f82c8" stroke-width="5.6"/>
<rect x="324" y="507.1" width="20" height="5.6" fill="#1f82c8"/>
<rect x="324" y="572.7" width="20" height="5.6" fill="#1f82c8"/>
<line x1="378.8" y1="504.4" x2="378.8" y2="572.8" stroke="#1f82c8" stroke-width="5.6"/>
<rect x="368.8" y="501.6" width="20" height="5.6" fill="#1f82c8"/>
<rect x="368.8" y="570" width="20" height="5.6" fill="#1f82c8"/>
<line x1="423.6" y1="508.5" x2="423.6" y2="572.8" stroke="#1f82c8" stroke-width="5.6"/>
<rect x="413.6" y="505.7" width="20" height="5.6" fill="#1f82c8"/>
<rect x="413.6" y="570" width="20" height="5.6" fill="#1f82c8"/>
<line x1="468.4" y1="514.8" x2="468.4" y2="586.5" stroke="#1f82c8" stroke-width="5.6"/>
<rect x="458.4" y="512" width="20" height="5.6" fill="#1f82c8"/>
<rect x="458.4" y="583.7" width="20" height="5.6" fill="#1f82c8"/>
<line x1="513.2" y1="524.9" x2="513.2" y2="560.5" stroke="#1f82c8" stroke-width="5.6"/>
<rect x="503.2" y="522.1" width="20" height="5.6" fill="#1f82c8"/>
<rect x="503.2" y="557.7" width="20" height="5.6" fill="#1f82c8"/>
<line x1="558" y1="526.3" x2="558" y2="557.7" stroke="#1f82c8" stroke-width="5.6"/>
<rect x="548" y="523.5" width="20" height="5.6" fill="#1f82c8"/>
<rect x="548" y="554.9" width="20" height="5.6" fill="#1f82c8"/>
<line x1="602.8" y1="518.1" x2="602.8" y2="560.5" stroke="#1f82c8" stroke-width="5.6"/>
<rect x="592.8" y="515.3" width="20" height="5.6" fill="#1f82c8"/>
<rect x="592.8" y="557.7" width="20" height="5.6" fill="#1f82c8"/>
<polyline points="110,537.2 154.8,549.5 199.6,538.6 244.4,549.5 289.2,544.1 334,544.1 378.8,538.6 423.6,542.7 468.4,549.5 513.2,544.1 558,544.1 602.8,542.7" fill="none" stroke="#1f82c8" stroke-width="6" stroke-linejoin="round"/>
<line x1="110.4" y1="544.1" x2="647.6" y2="544.1" stroke="#505050" stroke-width="1.8" stroke-dasharray="5.3,6.116"/>
<g clip-path="url(#clipC)">
<polyline points="110,567.9 111.5,557.3 113,545.9 114.5,552.5 116,600.6 117.5,586.3 119,554.2 120.5,568 121.9,545.5 123.4,553.5 124.9,593.5 126.4,564.8 127.9,552.3 129.4,559.6 130.9,588.5 132.4,601.5 133.9,574.7 135.4,584.5 136.9,598.4 138.4,577.9 139.9,592.4 141.4,592.9 142.9,567.3 144.3,584.4 145.8,580.6 147.3,594.7 148.8,576.2 150.3,581.4 151.8,559.2 153.3,577.5 154.8,560.5 156.3,591.3 157.8,591.1 159.3,575.4 160.8,556.6 162.3,556.7 163.8,587.8 165.3,568.7 166.7,574.5 168.2,585.6 169.7,564.3 171.2,549.7 172.7,555.6 174.2,546.2 175.7,587.8 177.2,588.7 178.7,565.4 180.2,556.4 181.7,584.8 183.2,592.1 184.7,572.6 186.2,569 187.7,600.3 189.1,605.6 190.6,599.2 192.1,615 193.6,602.7 195.1,591.3 196.6,624.5 198.1,614.2 199.6,639.6 201.1,612.8 202.6,623.4 204.1,647.3 205.6,662.6 207.1,630.5 208.6,646.4 210.1,645 211.5,635.3 213,629.6 214.5,655.8 216,676.3 217.5,645.4 219,630.7 220.5,646.9 222,652.7 223.5,650.4 225,640.1 226.5,638.8 228,601.1 229.5,617.6 231,603.8 232.5,597.4 233.9,592.5 235.4,570.5 236.9,570 238.4,591.2 239.9,580 241.4,569.2 242.9,586 244.4,568.5 245.9,582.4 247.4,564.9 248.9,591.4 250.4,576 251.9,581.9 253.4,584.6 254.9,550.2 256.3,561.2 257.8,566.5 259.3,528.9 260.8,515.8 262.3,504.2 263.8,498.7 265.3,537.2 266.8,547.4 268.3,550.2 269.8,536 271.3,534.8 272.8,520.9 274.3,564.9 275.8,556.5 277.3,563 278.7,581.6 280.2,575.2 281.7,584.7 283.2,565.1 284.7,588.9 286.2,580.2 287.7,588.3 289.2,585.2 290.7,578.6 292.2,589 293.7,585.5 295.2,591.6 296.7,590.5 298.2,591.6 299.7,566.4 301.1,548.2 302.6,576.7 304.1,577 305.6,575.8 307.1,566.2 308.6,547.4 310.1,570.6 311.6,576.8 313.1,576.2 314.6,557.5 316.1,570.8 317.6,561.4 319.1,566.8 320.6,593.4 322.1,581.3 323.5,602.9 325,606.7 326.5,585.6 328,562.6 329.5,561.8 331,539.4 332.5,546.1 334,556 335.5,571.5 337,559.8 338.5,548 340,519.3 341.5,540.3 343,526.3 344.5,549.5 345.9,538.1 347.4,554.3 348.9,547.4 350.4,531.7 351.9,541 353.4,550.1 354.9,563.1 356.4,556.6 357.9,557.7 359.4,552.1 360.9,550.7 362.4,581 363.9,581 365.4,586.1 366.9,583 368.3,564.5 369.8,580.1 371.3,585.4 372.8,584.6 374.3,596.1 375.8,584 377.3,583 378.8,584.6 380.3,584.6 381.8,598.5 383.3,604.3 384.8,588 386.3,584.4 387.8,610 389.3,613.2 390.7,630 392.2,590.8 393.7,574.9 395.2,578.1 396.7,591.1 398.2,600.3 399.7,581.5 401.2,562.9 402.7,574.8 404.2,587.8 405.7,578.3 407.2,573.8 408.7,555.4 410.2,569.1 411.7,578.5 413.1,579.2 414.6,563.6 416.1,575.7 417.6,569.8 419.1,556.7 420.6,581.3 422.1,566.8 423.6,588.2 425.1,568.9 426.6,580.9 428.1,567.7 429.6,565.6 431.1,560.7 432.6,563.5 434.1,558.5 435.5,553.7 437,559.8 438.5,571.9 440,573.6 441.5,581.1 443,578 444.5,578.5 446,573.2 447.5,554.2 449,566.5 450.5,562.5 452,565.3 453.5,531.6 455,545.3 456.5,551.6 457.9,526.1 459.4,534.2 460.9,524.9 462.4,533 463.9,547.6 465.4,555.4 466.9,539.1 468.4,551.1 469.9,546.4 471.4,565.7 472.9,575.6 474.4,573.4 475.9,581.8 477.4,589.4 478.9,567.3 480.3,562.4 481.8,574.2 483.3,575.2 484.8,561.1 486.3,569.9 487.8,565.8 489.3,558.1 490.8,538 492.3,532.7 493.8,524.1 495.3,533.1 496.8,518.5 498.3,527.3 499.8,508.3 501.3,512.5 502.7,500.4 504.2,489.4 505.7,505.9 507.2,487.5 508.7,503.8 510.2,504.4 511.7,487.6 513.2,505.6 514.7,493.1 516.2,503.7 517.7,504.8 519.2,486.1 520.7,498.9 522.2,490.6 523.7,481.8 525.1,488 526.6,494.7 528.1,477.6 529.6,482.7 531.1,480.6 532.6,475.4 534.1,484.8 535.6,499 537.1,484.5 538.6,489.2 540.1,502.3 541.6,497.2 543.1,515.7 544.6,516.4 546.1,506.5 547.5,524.5 549,511 550.5,520.7 552,511.6 553.5,527.5 555,509.9 556.5,526 558,510.6 559.5,521.7 561,518.4 562.5,521.5 564,506.2 565.5,515.1 567,494.8 568.5,512.3 569.9,499.7 571.4,511.7 572.9,517.4 574.4,524.9 575.9,508.9 577.4,508.6 578.9,521.1 580.4,494 581.9,508.4 583.4,499.7 584.9,499.5 586.4,513.4 587.9,506.7 589.4,511.3 590.9,505.8 592.3,505.2 593.8,509 595.3,515.6 596.8,515.7 598.3,504.6 599.8,494.1 601.3,488.1 602.8,488.1 604.3,508.9 605.8,493.9 607.3,508.6 608.8,493.4 610.3,486.6 611.8,503.7 613.3,501.7 614.7,500.2 616.2,493.8 617.7,474.1 619.2,479.3 620.7,474.9 622.2,472.9 623.7,474.7 625.2,472.2 626.7,467.5 628.2,462.8 629.7,462.7 631.2,459.3 632.7,449.7 634.2,454.9 635.7,447.2 637.1,436.6 638.6,445.3 640.1,449.7 641.6,454 643.1,431.8 644.6,426.9 646.1,421.8 647.6,442" fill="none" stroke="#606060" stroke-width="2.6" stroke-linejoin="round"/>
<polyline points="110,598.8 119,574.2 127.9,571.4 136.9,597.4 145.8,587.8 154.8,585.1 163.8,585.1 172.7,579.6 181.7,576.9 190.6,597.4 199.6,601.5 208.6,623.4 217.5,648 226.5,609.7 235.4,582.4 244.4,574.2 253.4,587.8 262.3,552.3 271.3,563.2 280.2,593.3 289.2,582.4 298.2,571.4 307.1,566 316.1,576.9 325,579.6 334,571.4 343,552.3 351.9,566 360.9,587.8 369.8,590.6 378.8,598.8 387.8,590.6 396.7,585.1 405.7,576.9 414.6,576.9 423.6,581 432.6,578.3 441.5,560.5 450.5,563.2 459.4,546.8 468.4,546.8 477.4,541.3 486.3,524.9 495.3,514 504.2,497.6 513.2,492.1 522.2,501.7 531.1,492.1 540.1,493.4 549,511.2 558,508.5 567,505.8 575.9,504.4 584.9,501.7 593.8,498.9 602.8,494.8 611.8,486.6 620.7,472.9 629.7,467.5 638.6,457.9 647.6,448.3" fill="none" stroke="#d71a2b" stroke-width="7" stroke-linejoin="round" stroke-linecap="butt"/>
<polyline points="110,590.6 119,566 127.9,574.2 136.9,579.6 145.8,570.1 154.8,578.3 163.8,582.4 172.7,574.2 181.7,572.8 190.6,590.6 199.6,617.9 208.6,653.5 217.5,654.9 226.5,617.9 235.4,585.1 244.4,582.4 253.4,581 262.3,514 271.3,541.3 280.2,585.1 289.2,575.5 298.2,568.7 307.1,559.1 316.1,576.9 325,587.8 334,563.2 343,533.1 351.9,552.3 360.9,571.4 369.8,575.5 378.8,591.3 387.8,602.9 396.7,587.8 405.7,567.3 414.6,568.7 423.6,576.9 432.6,574.2 441.5,566 450.5,555 459.4,531.8 468.4,549.5 477.4,576.9 486.3,557.7 495.3,527.6 504.2,497.6 513.2,489.3 522.2,497.6 531.1,482.5 540.1,497.6 549,515.3 558,516.7 567,507.1 575.9,512.6 584.9,508.5 593.8,507.1 602.8,500.3 611.8,497.6 620.7,470.2 629.7,457.9 638.6,446.9 647.6,430.5" fill="none" stroke="#333333" stroke-width="8" stroke-linejoin="round" stroke-linecap="butt"/>
</g>
<path transform="translate(77.5,469.4) scale(0.02750,-0.02750)" d="M345,0 L253,0 L253,525 C215,480 140,452 62,446 L62,509 C165,522 238,580 262,709 L345,709 Z" fill="#222"/>
<text x="77.5" y="554.1" font-size="27.5" fill="#222">0</text>
<text x="68.4" y="638.8" font-size="27.5" fill="#222">-</text><path transform="translate(77.5,638.8) scale(0.02750,-0.02750)" d="M345,0 L253,0 L253,525 C215,480 140,452 62,446 L62,509 C165,522 238,580 262,709 L345,709 Z" fill="#222"/>
<text x="68.4" y="723.5" font-size="27.5" fill="#222">-2</text>
<path transform="translate(124.2,759) scale(0.02750,-0.02750)" d="M345,0 L253,0 L253,525 C215,480 140,452 62,446 L62,509 C165,522 238,580 262,709 L345,709 Z" fill="#222"/><text x="139.5" y="759" font-size="27.5" fill="#222">965</text>
<path transform="translate(213.8,759) scale(0.02750,-0.02750)" d="M345,0 L253,0 L253,525 C215,480 140,452 62,446 L62,509 C165,522 238,580 262,709 L345,709 Z" fill="#222"/><text x="229.1" y="759" font-size="27.5" fill="#222">975</text>
<path transform="translate(303.4,759) scale(0.02750,-0.02750)" d="M345,0 L253,0 L253,525 C215,480 140,452 62,446 L62,509 C165,522 238,580 262,709 L345,709 Z" fill="#222"/><text x="318.7" y="759" font-size="27.5" fill="#222">985</text>
<path transform="translate(393,759) scale(0.02750,-0.02750)" d="M345,0 L253,0 L253,525 C215,480 140,452 62,446 L62,509 C165,522 238,580 262,709 L345,709 Z" fill="#222"/><text x="408.3" y="759" font-size="27.5" fill="#222">995</text>
<text x="482.6" y="759" font-size="27.5" fill="#222">2005</text>
<text x="572.2" y="759" font-size="27.5" fill="#222">20</text><path transform="translate(602.8,759) scale(0.02750,-0.02750)" d="M345,0 L253,0 L253,525 C215,480 140,452 62,446 L62,509 C165,522 238,580 262,709 L345,709 Z" fill="#222"/><text x="618.1" y="759" font-size="27.5" fill="#222">5</text>
<text x="614.9" y="700" font-size="28.5" text-anchor="end" font-weight="bold" fill="#000" >Atl</text>
<path d="M752.5,415 H1299.4 V712.5 H752.5 Z" fill="none" stroke="#474747" stroke-width="1.6"/>
<path d="M797.3,712.5 v5 M797.3,415 v-5 M886.9,712.5 v5 M886.9,415 v-5 M976.5,712.5 v5 M976.5,415 v-5 M1066.1,712.5 v5 M1066.1,415 v-5 M1155.7,712.5 v5 M1155.7,415 v-5 M1245.3,712.5 v5 M1245.3,415 v-5 M752.5,712.5 h-5 M1299.4,712.5 h5 M752.5,699 h-3 M1299.4,699 h3 M752.5,685.5 h-3 M1299.4,685.5 h3 M752.5,671.9 h-3 M1299.4,671.9 h3 M752.5,658.4 h-3 M1299.4,658.4 h3 M752.5,644.9 h-5 M1299.4,644.9 h5 M752.5,631.4 h-3 M1299.4,631.4 h3 M752.5,617.8 h-3 M1299.4,617.8 h3 M752.5,604.3 h-3 M1299.4,604.3 h3 M752.5,590.8 h-3 M1299.4,590.8 h3 M752.5,577.3 h-5 M1299.4,577.3 h5 M752.5,563.8 h-3 M1299.4,563.8 h3 M752.5,550.2 h-3 M1299.4,550.2 h3 M752.5,536.7 h-3 M1299.4,536.7 h3 M752.5,523.2 h-3 M1299.4,523.2 h3 M752.5,509.7 h-5 M1299.4,509.7 h5 M752.5,496.1 h-3 M1299.4,496.1 h3 M752.5,482.6 h-3 M1299.4,482.6 h3 M752.5,469.1 h-3 M1299.4,469.1 h3 M752.5,455.6 h-3 M1299.4,455.6 h3 M752.5,442 h-5 M1299.4,442 h5 M752.5,428.5 h-3 M1299.4,428.5 h3 M752.5,415 h-3 M1299.4,415 h3" stroke="#474747" stroke-width="1.6" fill="none"/>
<clipPath id="clipD"><rect x="753.3" y="415.8" width="545.3" height="295.9"/></clipPath>
<g clip-path="url(#clipD)">
<path d="M752.5,380.5 L753.6,416.5 L754.7,384.9 L755.9,373.2 L757,373.1 L758.1,375 L759.2,398.3 L760.3,430.6 L761.5,448.8 L762.6,402.3 L763.7,463.9 L764.8,452.3 L765.9,461.2 L767.1,478 L768.2,438.7 L769.3,445.7 L770.4,443 L771.5,453.7 L772.7,467.1 L773.8,480.6 L774.9,470.7 L776,469.6 L777.1,510.2 L778.3,487.7 L779.4,481 L780.5,469.4 L781.6,505.4 L782.7,478.9 L783.9,475.4 L785,481.3 L786.1,498.8 L787.2,485.8 L788.3,485 L789.5,519.4 L790.6,488.6 L791.7,511.9 L792.8,493.4 L793.9,470.5 L795.1,509.8 L796.2,537.2 L797.3,477.5 L798.4,457.3 L799.5,504.1 L800.7,510 L801.8,493.7 L802.9,449.7 L804,405.2 L805.1,393.5 L806.3,412.6 L807.4,417.5 L808.5,425.6 L809.6,388.6 L810.7,397.8 L811.9,380.8 L813,372.1 L814.1,373.1 L815.2,383 L816.3,428.6 L817.5,411.1 L818.6,415.4 L819.7,439.2 L820.8,474.9 L821.9,433.9 L823.1,424.4 L824.2,443.1 L825.3,491.4 L826.4,512 L827.5,494.4 L828.7,463 L829.8,442.9 L830.9,453.4 L832,441.7 L833.1,488 L834.3,457.5 L835.4,499.7 L836.5,500.1 L837.6,469 L838.7,518 L839.9,472.8 L841,494.1 L842.1,485.3 L843.2,459.7 L844.3,442 L845.5,430.4 L846.6,427.6 L847.7,466 L848.8,505 L849.9,484.7 L851.1,476.4 L852.2,467.5 L853.3,503 L854.4,501.7 L855.5,481 L856.7,500.3 L857.8,543.7 L858.9,536.1 L860,505.2 L861.1,538.1 L862.3,503.7 L863.4,521.1 L864.5,501.6 L865.6,498.8 L866.7,497.1 L867.9,546.7 L869,527.6 L870.1,511.7 L871.2,518.8 L872.3,504.6 L873.5,524.5 L874.6,546.9 L875.7,521.7 L876.8,502.9 L877.9,512.6 L879.1,559.3 L880.2,562.5 L881.3,524 L882.4,511.7 L883.5,550.8 L884.7,541.4 L885.8,526.6 L886.9,518 L888,538.8 L889.1,537.5 L890.3,520 L891.4,536.4 L892.5,556.6 L893.6,532.6 L894.7,515.3 L895.9,512.6 L897,505.2 L898.1,525 L899.2,505.7 L900.3,500.8 L901.5,531.8 L902.6,505.7 L903.7,503.5 L904.8,497.7 L905.9,484.3 L907.1,486.6 L908.2,493.4 L909.3,475.3 L910.4,460.1 L911.5,443.3 L912.7,446 L913.8,457.2 L914.9,436.9 L916,461.8 L917.1,450.6 L918.3,491.4 L919.4,508 L920.5,496.9 L921.6,456.7 L922.7,484.8 L923.9,453.8 L925,495.5 L926.1,488 L927.2,442.6 L928.3,468.7 L929.5,430.1 L930.6,471.5 L931.7,437.9 L932.8,451.1 L933.9,440.7 L935.1,412.4 L936.2,417.5 L937.3,390.9 L938.4,393.8 L939.5,429.4 L940.7,391.1 L941.8,378.1 L942.9,372 L944,393.9 L945.1,379.1 L946.3,420.7 L947.4,410.2 L948.5,383.6 L949.6,372.7 L950.7,376.7 L951.9,387.3 L953,446.4 L954.1,428.5 L955.2,441.8 L956.3,438.6 L957.5,439.2 L958.6,472.1 L959.7,459 L960.8,459.9 L961.9,453.8 L963.1,471.6 L964.2,480.6 L965.3,445.5 L966.4,463.9 L967.5,449.7 L968.7,425.1 L969.8,411.6 L970.9,463.2 L972,445.9 L973.1,405.3 L974.3,390 L975.4,376.2 L976.5,382.7 L977.6,371.7 L978.7,428.7 L979.9,385.7 L981,375.7 L982.1,372.4 L983.2,388.7 L984.3,407.9 L985.5,382.8 L986.6,429 L987.7,414.3 L988.8,420.3 L989.9,431.9 L991.1,448.5 L992.2,471.9 L993.3,468.7 L994.4,468.2 L995.5,475.7 L996.7,504.7 L997.8,505.7 L998.9,517.4 L1000,490 L1001.1,484.9 L1002.3,492.5 L1003.4,500.1 L1004.5,493.6 L1005.6,509.2 L1006.7,526.7 L1007.9,539 L1009,504.6 L1010.1,540.1 L1011.2,507.2 L1012.3,493.6 L1013.5,489.7 L1014.6,496.3 L1015.7,535.6 L1016.8,512.3 L1017.9,512.6 L1019.1,544.6 L1020.2,520.1 L1021.3,539.6 L1022.4,545 L1023.5,534 L1024.7,546.7 L1025.8,524 L1026.9,493 L1028,478.7 L1029.1,483.3 L1030.3,496.9 L1031.4,515.2 L1032.5,512 L1033.6,483.2 L1034.7,494 L1035.9,505.3 L1037,529.9 L1038.1,494.3 L1039.2,489.6 L1040.3,499.3 L1041.5,506.9 L1042.6,491.4 L1043.7,531.3 L1044.8,499.9 L1045.9,537.7 L1047.1,505.6 L1048.2,507.9 L1049.3,502.9 L1050.4,491.6 L1051.5,498.6 L1052.7,497.4 L1053.8,494.8 L1054.9,491.4 L1056,488.4 L1057.1,488.6 L1058.3,513.4 L1059.4,519.5 L1060.5,511.9 L1061.6,512.6 L1062.7,500.3 L1063.9,537.7 L1065,517.2 L1066.1,519.8 L1067.2,500.8 L1068.3,493.1 L1069.5,525.7 L1070.6,530.8 L1071.7,497 L1072.8,471.5 L1073.9,458.3 L1075.1,464.9 L1076.2,461.5 L1077.3,459.8 L1078.4,459.5 L1079.5,445.8 L1080.7,433.3 L1081.8,455.8 L1082.9,451.4 L1084,480.9 L1085.1,505.3 L1086.3,472.6 L1087.4,475.5 L1088.5,465.5 L1089.6,468.9 L1090.7,506 L1091.9,494.3 L1093,499.1 L1094.1,514.9 L1095.2,523 L1096.3,511.6 L1097.5,510.2 L1098.6,516.6 L1099.7,507.4 L1100.8,505.9 L1101.9,505.6 L1103.1,539 L1104.2,519.3 L1105.3,538.2 L1106.4,537.9 L1107.5,545.3 L1108.7,531.5 L1109.8,562.6 L1110.9,568.5 L1112,551.7 L1113.1,548.2 L1114.3,531.6 L1115.4,520.5 L1116.5,513.5 L1117.6,511.3 L1118.7,509.6 L1119.9,530.9 L1121,532.4 L1122.1,545.4 L1123.2,525.7 L1124.3,523.9 L1125.5,517.4 L1126.6,534.6 L1127.7,537.8 L1128.8,524.7 L1129.9,536.9 L1131.1,544.5 L1132.2,539.6 L1133.3,525.2 L1134.4,533.3 L1135.5,541 L1136.7,534.8 L1137.8,542.4 L1138.9,534.6 L1140,541 L1141.1,534.3 L1142.3,539.7 L1143.4,530.9 L1144.5,527.5 L1145.6,533.3 L1146.7,544.8 L1147.9,533.1 L1149,527.4 L1150.1,522.7 L1151.2,536.4 L1152.3,532.7 L1153.5,534 L1154.6,537.2 L1155.7,525.7 L1156.8,520.2 L1157.9,534.6 L1159.1,533 L1160.2,528.5 L1161.3,538.6 L1162.4,527.1 L1163.5,521.2 L1164.7,517.5 L1165.8,530.8 L1166.9,525.7 L1168,526 L1169.1,523.8 L1170.3,538.3 L1171.4,532.3 L1172.5,525.3 L1173.6,525.8 L1174.7,541.4 L1175.9,547.8 L1177,548.2 L1178.1,538.5 L1179.2,534.5 L1180.3,540.8 L1181.5,534.7 L1182.6,529.8 L1183.7,530.2 L1184.8,546.2 L1185.9,542 L1187.1,554.6 L1188.2,543.5 L1189.3,541.6 L1190.4,541.9 L1191.5,541.1 L1192.7,550.4 L1193.8,541.9 L1194.9,555 L1196,551.8 L1197.1,542.6 L1198.3,541.4 L1199.4,536.3 L1200.5,548.2 L1201.6,536 L1202.7,531.3 L1203.9,554.3 L1205,562.6 L1206.1,546.9 L1207.2,560.3 L1208.3,548 L1209.5,550 L1210.6,545.3 L1211.7,552.6 L1212.8,549.2 L1213.9,547.9 L1215.1,552.5 L1216.2,571.8 L1217.3,570.8 L1218.4,575.6 L1219.5,567.4 L1220.7,560.5 L1221.8,555.1 L1222.9,551.8 L1224,547.5 L1225.1,562.1 L1226.3,557.3 L1227.4,566.3 L1228.5,567.2 L1229.6,577.3 L1230.7,582.3 L1231.9,557.6 L1233,559.3 L1234.1,578.8 L1235.2,565.2 L1236.3,553.1 L1237.5,553.7 L1238.6,547 L1239.7,546.7 L1240.8,545.8 L1241.9,543.6 L1243.1,549.9 L1244.2,545.3 L1245.3,556.2 L1246.4,553.3 L1247.5,540.1 L1248.7,538.5 L1249.8,544.4 L1250.9,546.4 L1252,547.7 L1253.1,546.1 L1254.3,530 L1255.4,524.7 L1256.5,516.5 L1257.6,534.5 L1258.7,521.8 L1259.9,524.9 L1261,520.2 L1262.1,512.6 L1263.2,506.4 L1264.3,516.3 L1265.5,508.2 L1266.6,512 L1267.7,529.6 L1268.8,524.4 L1269.9,525.3 L1271.1,525.3 L1272.2,514.6 L1273.3,516.4 L1274.4,511.6 L1275.5,503.3 L1276.7,498.9 L1277.8,503.9 L1278.9,515.7 L1280,501.1 L1281.1,495.3 L1282.3,517 L1283.4,509 L1284.5,501.4 L1285.6,500.4 L1286.7,523.5 L1287.9,518.9 L1289,510.7 L1290.1,515.9 L1290.1,585.5 L1289,572.5 L1287.9,582 L1286.7,577.7 L1285.6,560.6 L1284.5,555.7 L1283.4,563.4 L1282.3,569.1 L1281.1,555.8 L1280,576.6 L1278.9,573.7 L1277.8,558.9 L1276.7,577.2 L1275.5,564.2 L1274.4,573.2 L1273.3,575.6 L1272.2,582 L1271.1,583 L1269.9,586.6 L1268.8,577.4 L1267.7,587.7 L1266.6,576.7 L1265.5,579.3 L1264.3,569.9 L1263.2,566.8 L1262.1,572.3 L1261,580.7 L1259.9,590.9 L1258.7,579.7 L1257.6,591.7 L1256.5,595.3 L1255.4,585 L1254.3,593.1 L1253.1,590.4 L1252,611 L1250.9,609.8 L1249.8,615 L1248.7,611.3 L1247.5,614.4 L1246.4,620.5 L1245.3,623.5 L1244.2,620.3 L1243.1,608.2 L1241.9,625 L1240.8,611.2 L1239.7,628.8 L1238.6,627.9 L1237.5,608.9 L1236.3,614.7 L1235.2,609.5 L1234.1,620.5 L1233,636.5 L1231.9,633 L1230.7,625.9 L1229.6,629.5 L1228.5,631.6 L1227.4,631.1 L1226.3,629.7 L1225.1,612.7 L1224,633.8 L1222.9,627.2 L1221.8,623.3 L1220.7,645.2 L1219.5,643.7 L1218.4,640.8 L1217.3,644.6 L1216.2,639.2 L1215.1,638.7 L1213.9,625.7 L1212.8,612.8 L1211.7,604.7 L1210.6,617.4 L1209.5,617.3 L1208.3,629.1 L1207.2,621.3 L1206.1,622.3 L1205,617.5 L1203.9,597.6 L1202.7,619.1 L1201.6,618.6 L1200.5,611.3 L1199.4,599.6 L1198.3,605.1 L1197.1,594.2 L1196,595.4 L1194.9,597.9 L1193.8,608 L1192.7,613.3 L1191.5,606.4 L1190.4,605.2 L1189.3,601.8 L1188.2,597.7 L1187.1,603.7 L1185.9,593.4 L1184.8,606.5 L1183.7,605 L1182.6,602.9 L1181.5,599.7 L1180.3,590.7 L1179.2,602 L1178.1,598.8 L1177,598.3 L1175.9,593.7 L1174.7,600.1 L1173.6,590 L1172.5,597.5 L1171.4,598.3 L1170.3,596.9 L1169.1,594 L1168,584.8 L1166.9,592.4 L1165.8,586.6 L1164.7,584.5 L1163.5,577.7 L1162.4,591.6 L1161.3,595.9 L1160.2,593.5 L1159.1,589.4 L1157.9,583.1 L1156.8,606.2 L1155.7,605.1 L1154.6,607.1 L1153.5,601.4 L1152.3,610 L1151.2,613.3 L1150.1,610.8 L1149,614 L1147.9,610.7 L1146.7,606.7 L1145.6,610.3 L1144.5,601 L1143.4,593.6 L1142.3,613.6 L1141.1,606.4 L1140,594.5 L1138.9,601.2 L1137.8,605 L1136.7,604.1 L1135.5,604.8 L1134.4,609.4 L1133.3,595.3 L1132.2,596.4 L1131.1,618.4 L1129.9,615.3 L1128.8,606.3 L1127.7,610.2 L1126.6,612.5 L1125.5,613.2 L1124.3,605 L1123.2,615.7 L1122.1,615.5 L1121,612.4 L1119.9,615.4 L1118.7,610.6 L1117.6,600.9 L1116.5,623.8 L1115.4,623.3 L1114.3,603.9 L1113.1,618.1 L1112,630.3 L1110.9,629.4 L1109.8,633.9 L1108.7,625.4 L1107.5,630 L1106.4,623.7 L1105.3,621 L1104.2,617 L1103.1,652.3 L1101.9,640.8 L1100.8,605.1 L1099.7,635.3 L1098.6,644.3 L1097.5,613.4 L1096.3,638.8 L1095.2,635.8 L1094.1,650.1 L1093,652.7 L1091.9,650.5 L1090.7,634.4 L1089.6,649.3 L1088.5,680.2 L1087.4,686 L1086.3,673.2 L1085.1,631.1 L1084,638.7 L1082.9,691.8 L1081.8,665.9 L1080.7,635.2 L1079.5,682.1 L1078.4,674.3 L1077.3,638.8 L1076.2,666.1 L1075.1,630.9 L1073.9,653.2 L1072.8,629.4 L1071.7,638 L1070.6,637.9 L1069.5,647.9 L1068.3,645.9 L1067.2,627 L1066.1,633.3 L1065,607.1 L1063.9,623.2 L1062.7,633 L1061.6,632.2 L1060.5,634 L1059.4,618.2 L1058.3,616.2 L1057.1,620.3 L1056,647.3 L1054.9,643.2 L1053.8,637.3 L1052.7,625.5 L1051.5,602.3 L1050.4,626.6 L1049.3,630.7 L1048.2,606.3 L1047.1,626.9 L1045.9,616.6 L1044.8,605.7 L1043.7,630.2 L1042.6,645.8 L1041.5,647.3 L1040.3,640.3 L1039.2,657.2 L1038.1,651.8 L1037,655.2 L1035.9,643.5 L1034.7,637.7 L1033.6,646 L1032.5,648.9 L1031.4,651.8 L1030.3,649.1 L1029.1,645.5 L1028,650.4 L1026.9,623.9 L1025.8,662.9 L1024.7,651.5 L1023.5,663.8 L1022.4,636.9 L1021.3,678.8 L1020.2,670.4 L1019.1,654.4 L1017.9,628.1 L1016.8,640.6 L1015.7,661.3 L1014.6,661.6 L1013.5,670.4 L1012.3,647.7 L1011.2,658.2 L1010.1,675.1 L1009,662.3 L1007.9,664.3 L1006.7,655.8 L1005.6,655.7 L1004.5,612.1 L1003.4,649.7 L1002.3,651.3 L1001.1,656.8 L1000,671 L998.9,678.9 L997.8,680.6 L996.7,676.3 L995.5,673.4 L994.4,659.6 L993.3,660.7 L992.2,625.2 L991.1,645 L989.9,588.9 L988.8,597.9 L987.7,628.8 L986.6,586.9 L985.5,615.3 L984.3,617 L983.2,629.6 L982.1,644.6 L981,630.4 L979.9,633.7 L978.7,614.1 L977.6,608.2 L976.5,577.9 L975.4,627.4 L974.3,612.3 L973.1,576.3 L972,577.6 L970.9,607.1 L969.8,657.5 L968.7,657.3 L967.5,641.8 L966.4,606.3 L965.3,615.9 L964.2,658.6 L963.1,625.9 L961.9,656.2 L960.8,621.1 L959.7,655.3 L958.6,662 L957.5,640 L956.3,658.2 L955.2,650.4 L954.1,631.3 L953,602.5 L951.9,607.4 L950.7,586.4 L949.6,608.8 L948.5,612.5 L947.4,603 L946.3,564.8 L945.1,582 L944,577.4 L942.9,558.7 L941.8,604.4 L940.7,608.3 L939.5,633.2 L938.4,612.3 L937.3,645.1 L936.2,642.4 L935.1,642.7 L933.9,624 L932.8,583.8 L931.7,575.2 L930.6,612 L929.5,614.9 L928.3,609.7 L927.2,634.5 L926.1,647.3 L925,660.3 L923.9,647.4 L922.7,651.2 L921.6,656.9 L920.5,632.5 L919.4,652.8 L918.3,660.7 L917.1,648.8 L916,615.3 L914.9,601.5 L913.8,646.3 L912.7,649.6 L911.5,624.3 L910.4,658.2 L909.3,661.3 L908.2,680.9 L907.1,702.6 L905.9,684.9 L904.8,716.8 L903.7,680.4 L902.6,716.2 L901.5,694.6 L900.3,699 L899.2,719.5 L898.1,687.6 L897,736.2 L895.9,712.1 L894.7,729.2 L893.6,754.6 L892.5,751.6 L891.4,751.5 L890.3,752 L889.1,748.2 L888,739.2 L886.9,732.1 L885.8,694.6 L884.7,710.9 L883.5,666.3 L882.4,679.8 L881.3,690.3 L880.2,748.8 L879.1,730.3 L877.9,698.7 L876.8,726.1 L875.7,697.8 L874.6,735.4 L873.5,702.5 L872.3,748.7 L871.2,736.7 L870.1,730.8 L869,702.4 L867.9,712.9 L866.7,723.9 L865.6,726.2 L864.5,695 L863.4,744.1 L862.3,730.9 L861.1,728.9 L860,705 L858.9,674 L857.8,710.1 L856.7,685.2 L855.5,623.2 L854.4,634.1 L853.3,657.4 L852.2,610 L851.1,658.5 L849.9,645.8 L848.8,626 L847.7,646.4 L846.6,663.8 L845.5,664.7 L844.3,645.1 L843.2,690.2 L842.1,686.8 L841,687.3 L839.9,680.1 L838.7,679.9 L837.6,644.8 L836.5,693.6 L835.4,666.4 L834.3,701.5 L833.1,695.4 L832,693.1 L830.9,703.1 L829.8,685.1 L828.7,694.4 L827.5,659.2 L826.4,699.5 L825.3,683.8 L824.2,731 L823.1,714.3 L821.9,723.5 L820.8,708.2 L819.7,689.2 L818.6,667.1 L817.5,698.4 L816.3,649.3 L815.2,668.3 L814.1,685.5 L813,686.5 L811.9,676.2 L810.7,669.4 L809.6,667.7 L808.5,612.6 L807.4,652.7 L806.3,624.7 L805.1,638.2 L804,640.3 L802.9,611.2 L801.8,671.9 L800.7,645.6 L799.5,686.8 L798.4,691.4 L797.3,686.3 L796.2,667.8 L795.1,681.3 L793.9,654.5 L792.8,688.1 L791.7,689 L790.6,675.9 L789.5,652.3 L788.3,680.7 L787.2,672.8 L786.1,659.7 L785,640.4 L783.9,683.4 L782.7,682.5 L781.6,683.8 L780.5,684.5 L779.4,677.5 L778.3,667.3 L777.1,636.8 L776,654.1 L774.9,684.3 L773.8,674.1 L772.7,644.4 L771.5,693.7 L770.4,682.3 L769.3,644.6 L768.2,679.4 L767.1,649.1 L765.9,647.4 L764.8,677.8 L763.7,665.7 L762.6,655.9 L761.5,629.3 L760.3,659.9 L759.2,639 L758.1,611.6 L757,617.7 L755.9,621.4 L754.7,578.9 L753.6,585.6 L752.5,569.9Z" fill="#e0e0ec"/>
</g>
<circle cx="752.5" cy="580.7" r="9.3" fill="#76cee0" stroke="#8b80c2" stroke-width="1.2"/>
<circle cx="752.5" cy="592.6" r="9.3" fill="#76cee0" stroke="#8b80c2" stroke-width="1.2"/>
<circle cx="752.5" cy="607.6" r="9.3" fill="#76cee0" stroke="#8b80c2" stroke-width="1.2"/>
<circle cx="752.5" cy="616.8" r="9.3" fill="#76cee0" stroke="#8b80c2" stroke-width="1.2"/>
<circle cx="797.3" cy="575.3" r="9.3" fill="#76cee0" stroke="#8b80c2" stroke-width="1.2"/>
<circle cx="797.3" cy="589.1" r="9.3" fill="#76cee0" stroke="#8b80c2" stroke-width="1.2"/>
<circle cx="797.3" cy="600.1" r="9.3" fill="#76cee0" stroke="#8b80c2" stroke-width="1.2"/>
<circle cx="797.3" cy="611.4" r="9.3" fill="#76cee0" stroke="#8b80c2" stroke-width="1.2"/>
<circle cx="842.1" cy="561.6" r="9.3" fill="#76cee0" stroke="#8b80c2" stroke-width="1.2"/>
<circle cx="842.1" cy="571.9" r="9.3" fill="#76cee0" stroke="#8b80c2" stroke-width="1.2"/>
<circle cx="842.1" cy="581.8" r="9.3" fill="#76cee0" stroke="#8b80c2" stroke-width="1.2"/>
<circle cx="842.1" cy="587.8" r="9.3" fill="#76cee0" stroke="#8b80c2" stroke-width="1.2"/>
<circle cx="842.1" cy="599.6" r="9.3" fill="#76cee0" stroke="#8b80c2" stroke-width="1.2"/>
<circle cx="842.1" cy="612.4" r="9.3" fill="#76cee0" stroke="#8b80c2" stroke-width="1.2"/>
<circle cx="842.1" cy="619.6" r="9.3" fill="#76cee0" stroke="#8b80c2" stroke-width="1.2"/>
<circle cx="886.9" cy="583.5" r="9.3" fill="#76cee0" stroke="#8b80c2" stroke-width="1.2"/>
<circle cx="886.9" cy="595.3" r="9.3" fill="#76cee0" stroke="#8b80c2" stroke-width="1.2"/>
<circle cx="886.9" cy="602" r="9.3" fill="#76cee0" stroke="#8b80c2" stroke-width="1.2"/>
<circle cx="886.9" cy="618.1" r="9.3" fill="#76cee0" stroke="#8b80c2" stroke-width="1.2"/>
<circle cx="886.9" cy="626.3" r="9.3" fill="#76cee0" stroke="#8b80c2" stroke-width="1.2"/>
<circle cx="886.9" cy="636.5" r="9.3" fill="#76cee0" stroke="#8b80c2" stroke-width="1.2"/>
<circle cx="886.9" cy="646.9" r="9.3" fill="#76cee0" stroke="#8b80c2" stroke-width="1.2"/>
<circle cx="931.7" cy="557.5" r="9.3" fill="#76cee0" stroke="#8b80c2" stroke-width="1.2"/>
<circle cx="931.7" cy="566.8" r="9.3" fill="#76cee0" stroke="#8b80c2" stroke-width="1.2"/>
<circle cx="931.7" cy="580.8" r="9.3" fill="#76cee0" stroke="#8b80c2" stroke-width="1.2"/>
<circle cx="931.7" cy="592.2" r="9.3" fill="#76cee0" stroke="#8b80c2" stroke-width="1.2"/>
<circle cx="976.5" cy="547.9" r="9.3" fill="#76cee0" stroke="#8b80c2" stroke-width="1.2"/>
<circle cx="976.5" cy="556.8" r="9.3" fill="#76cee0" stroke="#8b80c2" stroke-width="1.2"/>
<circle cx="976.5" cy="568.4" r="9.3" fill="#76cee0" stroke="#8b80c2" stroke-width="1.2"/>
<circle cx="976.5" cy="576.3" r="9.3" fill="#76cee0" stroke="#8b80c2" stroke-width="1.2"/>
<circle cx="976.5" cy="588.7" r="9.3" fill="#76cee0" stroke="#8b80c2" stroke-width="1.2"/>
<circle cx="976.5" cy="599.9" r="9.3" fill="#76cee0" stroke="#8b80c2" stroke-width="1.2"/>
<circle cx="976.5" cy="608.6" r="9.3" fill="#76cee0" stroke="#8b80c2" stroke-width="1.2"/>
<circle cx="1021.3" cy="561.6" r="9.3" fill="#76cee0" stroke="#8b80c2" stroke-width="1.2"/>
<circle cx="1021.3" cy="570" r="9.3" fill="#76cee0" stroke="#8b80c2" stroke-width="1.2"/>
<circle cx="1021.3" cy="580.5" r="9.3" fill="#76cee0" stroke="#8b80c2" stroke-width="1.2"/>
<circle cx="1021.3" cy="590.5" r="9.3" fill="#76cee0" stroke="#8b80c2" stroke-width="1.2"/>
<circle cx="1021.3" cy="603.4" r="9.3" fill="#76cee0" stroke="#8b80c2" stroke-width="1.2"/>
<circle cx="1021.3" cy="613.5" r="9.3" fill="#76cee0" stroke="#8b80c2" stroke-width="1.2"/>
<circle cx="1021.3" cy="624.7" r="9.3" fill="#76cee0" stroke="#8b80c2" stroke-width="1.2"/>
<circle cx="1021.3" cy="631.9" r="9.3" fill="#76cee0" stroke="#8b80c2" stroke-width="1.2"/>
<circle cx="1066.1" cy="571.1" r="9.3" fill="#76cee0" stroke="#8b80c2" stroke-width="1.2"/>
<circle cx="1066.1" cy="580.6" r="9.3" fill="#76cee0" stroke="#8b80c2" stroke-width="1.2"/>
<circle cx="1066.1" cy="589.7" r="9.3" fill="#76cee0" stroke="#8b80c2" stroke-width="1.2"/>
<circle cx="1066.1" cy="600.4" r="9.3" fill="#76cee0" stroke="#8b80c2" stroke-width="1.2"/>
<circle cx="1110.9" cy="575.3" r="9.3" fill="#76cee0" stroke="#8b80c2" stroke-width="1.2"/>
<circle cx="1110.9" cy="588.3" r="9.3" fill="#76cee0" stroke="#8b80c2" stroke-width="1.2"/>
<circle cx="1110.9" cy="596.2" r="9.3" fill="#76cee0" stroke="#8b80c2" stroke-width="1.2"/>
<circle cx="1110.9" cy="605.7" r="9.3" fill="#76cee0" stroke="#8b80c2" stroke-width="1.2"/>
<circle cx="1110.9" cy="620.7" r="9.3" fill="#76cee0" stroke="#8b80c2" stroke-width="1.2"/>
<circle cx="1110.9" cy="628.9" r="9.3" fill="#76cee0" stroke="#8b80c2" stroke-width="1.2"/>
<circle cx="1110.9" cy="638.8" r="9.3" fill="#76cee0" stroke="#8b80c2" stroke-width="1.2"/>
<circle cx="1110.9" cy="651.5" r="9.3" fill="#76cee0" stroke="#8b80c2" stroke-width="1.2"/>
<circle cx="1110.9" cy="658.8" r="9.3" fill="#76cee0" stroke="#8b80c2" stroke-width="1.2"/>
<circle cx="1110.9" cy="671.6" r="9.3" fill="#76cee0" stroke="#8b80c2" stroke-width="1.2"/>
<circle cx="1155.7" cy="571.1" r="9.3" fill="#76cee0" stroke="#8b80c2" stroke-width="1.2"/>
<circle cx="1155.7" cy="584.3" r="9.3" fill="#76cee0" stroke="#8b80c2" stroke-width="1.2"/>
<circle cx="1155.7" cy="595" r="9.3" fill="#76cee0" stroke="#8b80c2" stroke-width="1.2"/>
<circle cx="1200.5" cy="564.3" r="9.3" fill="#76cee0" stroke="#8b80c2" stroke-width="1.2"/>
<circle cx="1200.5" cy="577.1" r="9.3" fill="#76cee0" stroke="#8b80c2" stroke-width="1.2"/>
<circle cx="1200.5" cy="587.9" r="9.3" fill="#76cee0" stroke="#8b80c2" stroke-width="1.2"/>
<circle cx="1200.5" cy="600.4" r="9.3" fill="#76cee0" stroke="#8b80c2" stroke-width="1.2"/>
<circle cx="1245.3" cy="558.8" r="9.3" fill="#76cee0" stroke="#8b80c2" stroke-width="1.2"/>
<circle cx="1245.3" cy="568.5" r="9.3" fill="#76cee0" stroke="#8b80c2" stroke-width="1.2"/>
<circle cx="1245.3" cy="579.8" r="9.3" fill="#76cee0" stroke="#8b80c2" stroke-width="1.2"/>
<circle cx="1245.3" cy="588.4" r="9.3" fill="#76cee0" stroke="#8b80c2" stroke-width="1.2"/>
<circle cx="1245.3" cy="597.7" r="9.3" fill="#76cee0" stroke="#8b80c2" stroke-width="1.2"/>
<line x1="752.5" y1="571.4" x2="752.5" y2="623.4" stroke="#1f82c8" stroke-width="5.6"/>
<rect x="742.5" y="568.6" width="20" height="5.6" fill="#1f82c8"/>
<rect x="742.5" y="620.6" width="20" height="5.6" fill="#1f82c8"/>
<line x1="797.3" y1="567.3" x2="797.3" y2="611.1" stroke="#1f82c8" stroke-width="5.6"/>
<rect x="787.3" y="564.5" width="20" height="5.6" fill="#1f82c8"/>
<rect x="787.3" y="608.3" width="20" height="5.6" fill="#1f82c8"/>
<line x1="842.1" y1="555" x2="842.1" y2="613.8" stroke="#1f82c8" stroke-width="5.6"/>
<rect x="832.1" y="552.2" width="20" height="5.6" fill="#1f82c8"/>
<rect x="832.1" y="611" width="20" height="5.6" fill="#1f82c8"/>
<line x1="886.9" y1="574.2" x2="886.9" y2="628.9" stroke="#1f82c8" stroke-width="5.6"/>
<rect x="876.9" y="571.4" width="20" height="5.6" fill="#1f82c8"/>
<rect x="876.9" y="626.1" width="20" height="5.6" fill="#1f82c8"/>
<line x1="931.7" y1="549.5" x2="931.7" y2="601.5" stroke="#1f82c8" stroke-width="5.6"/>
<rect x="921.7" y="546.7" width="20" height="5.6" fill="#1f82c8"/>
<rect x="921.7" y="598.7" width="20" height="5.6" fill="#1f82c8"/>
<line x1="976.5" y1="550.9" x2="976.5" y2="611.1" stroke="#1f82c8" stroke-width="5.6"/>
<rect x="966.5" y="548.1" width="20" height="5.6" fill="#1f82c8"/>
<rect x="966.5" y="608.3" width="20" height="5.6" fill="#1f82c8"/>
<line x1="1021.3" y1="557.7" x2="1021.3" y2="634.4" stroke="#1f82c8" stroke-width="5.6"/>
<rect x="1011.3" y="554.9" width="20" height="5.6" fill="#1f82c8"/>
<rect x="1011.3" y="631.6" width="20" height="5.6" fill="#1f82c8"/>
<line x1="1066.1" y1="564.6" x2="1066.1" y2="602.9" stroke="#1f82c8" stroke-width="5.6"/>
<rect x="1056.1" y="561.8" width="20" height="5.6" fill="#1f82c8"/>
<rect x="1056.1" y="600.1" width="20" height="5.6" fill="#1f82c8"/>
<line x1="1110.9" y1="567.3" x2="1110.9" y2="685" stroke="#1f82c8" stroke-width="5.6"/>
<rect x="1100.9" y="564.5" width="20" height="5.6" fill="#1f82c8"/>
<rect x="1100.9" y="682.2" width="20" height="5.6" fill="#1f82c8"/>
<line x1="1155.7" y1="568.7" x2="1155.7" y2="598.8" stroke="#1f82c8" stroke-width="5.6"/>
<rect x="1145.7" y="565.9" width="20" height="5.6" fill="#1f82c8"/>
<rect x="1145.7" y="596" width="20" height="5.6" fill="#1f82c8"/>
<line x1="1200.5" y1="566" x2="1200.5" y2="604.3" stroke="#1f82c8" stroke-width="5.6"/>
<rect x="1190.5" y="563.2" width="20" height="5.6" fill="#1f82c8"/>
<rect x="1190.5" y="601.5" width="20" height="5.6" fill="#1f82c8"/>
<line x1="1245.3" y1="556.4" x2="1245.3" y2="604.3" stroke="#1f82c8" stroke-width="5.6"/>
<rect x="1235.3" y="553.6" width="20" height="5.6" fill="#1f82c8"/>
<rect x="1235.3" y="601.5" width="20" height="5.6" fill="#1f82c8"/>
<polyline points="752.5,597.4 797.3,589.2 842.1,587.8 886.9,609.7 931.7,574.2 976.5,579.6 1021.3,598.8 1066.1,582.4 1110.9,623.4 1155.7,585.1 1200.5,585.1 1245.3,579.6" fill="none" stroke="#1f82c8" stroke-width="6" stroke-linejoin="round"/>
<line x1="752.9" y1="577.3" x2="1290.1" y2="577.3" stroke="#505050" stroke-width="1.8" stroke-dasharray="5.3,6.116"/>
<g clip-path="url(#clipD)">
<polyline points="752.5,507.6 754,495.2 755.5,556 757,518.6 758.5,497.8 760,533.4 761.5,512.1 763,549.4 764.4,556.8 765.9,505.1 767.4,538.6 768.9,557 770.4,555.9 771.9,520.1 773.4,533.4 774.9,548.4 776.4,569.8 777.9,545.3 779.4,539.8 780.9,569 782.4,548.6 783.9,582.7 785.4,592.3 786.8,598 788.3,583.4 789.8,557.1 791.3,565.7 792.8,582.3 794.3,533.2 795.8,515.3 797.3,567.6 798.8,577 800.3,523.8 801.8,518.4 803.3,510 804.8,498.7 806.3,531.4 807.8,589.2 809.2,581.7 810.7,591.3 812.2,505 813.7,523 815.2,519.8 816.7,582.7 818.2,610.8 819.7,615.1 821.2,602 822.7,564.9 824.2,590.9 825.7,580.2 827.2,550.1 828.7,542.4 830.2,553.4 831.6,558.9 833.1,582.8 834.6,560.5 836.1,541.3 837.6,569.3 839.1,567.9 840.6,544.2 842.1,582.4 843.6,545.8 845.1,539.2 846.6,520.2 848.1,518.8 849.6,554.9 851.1,600 852.6,570.3 854,595.4 855.5,568 857,612.6 858.5,573.5 860,620.2 861.5,607.9 863,600.8 864.5,630 866,619.4 867.5,642.2 869,631.3 870.5,618.9 872,593 873.5,576.9 875,606.4 876.4,585.9 877.9,608.3 879.4,603 880.9,601.1 882.4,607.7 883.9,606.5 885.4,600.8 886.9,606.8 888.4,582.3 889.9,633.5 891.4,621.3 892.9,650.7 894.4,645.6 895.9,620.4 897.4,639.9 898.8,655.8 900.3,682 901.8,666.3 903.3,606.3 904.8,642.8 906.3,606.8 907.8,598 909.3,612.1 910.8,556.6 912.3,578.1 913.8,571.2 915.3,576.1 916.8,572.5 918.3,522 919.8,534.8 921.2,524.3 922.7,522.4 924.2,512.6 925.7,551 927.2,533.2 928.7,546.1 930.2,574.9 931.7,580.3 933.2,530.6 934.7,546.2 936.2,547.7 937.7,545.1 939.2,473.6 940.7,442.9 942.2,451.6 943.6,458.7 945.1,486.1 946.6,456.2 948.1,467.6 949.6,451.3 951.1,453.7 952.6,463.4 954.1,476.9 955.6,531.6 957.1,559.7 958.6,554.8 960.1,569.3 961.6,553.1 963.1,545.9 964.6,520.7 966,564.7 967.5,522.4 969,489.7 970.5,486 972,520.6 973.5,464.2 975,457.9 976.5,444.2 978,490.3 979.5,456.4 981,515.3 982.5,523.1 984,550.1 985.5,508.1 987,540 988.4,511.4 989.9,523.1 991.4,520.1 992.9,578.5 994.4,586.2 995.9,544.9 997.4,567 998.9,590 1000.4,565.3 1001.9,598.7 1003.4,591.2 1004.9,560.4 1006.4,551 1007.9,597.9 1009.4,570.1 1010.8,557.6 1012.3,592.6 1013.8,614.2 1015.3,593.4 1016.8,588.4 1018.3,592.8 1019.8,622 1021.3,620.9 1022.8,593.9 1024.3,569.3 1025.8,597.9 1027.3,597.9 1028.8,599.2 1030.3,617.4 1031.8,569.8 1033.2,593.5 1034.7,624.3 1036.2,613.6 1037.7,585.9 1039.2,596.6 1040.7,591.3 1042.2,604.3 1043.7,554.6 1045.2,578.2 1046.7,587.1 1048.2,546.1 1049.7,546.4 1051.2,576.3 1052.7,584.6 1054.2,574.2 1055.6,570 1057.1,583.2 1058.6,592.4 1060.1,549.6 1061.6,541.6 1063.1,576.4 1064.6,586.5 1066.1,555.3 1067.6,582.9 1069.1,576.1 1070.6,545.7 1072.1,564.1 1073.6,616.2 1075.1,594.4 1076.6,607.8 1078,567 1079.5,608.9 1081,626.8 1082.5,650.6 1084,589.3 1085.5,605.1 1087,630.8 1088.5,621.2 1090,572.4 1091.5,601 1093,572.1 1094.5,557.1 1096,565.7 1097.5,557.6 1099,559.9 1100.4,557.7 1101.9,614.9 1103.4,588.3 1104.9,612.7 1106.4,577.8 1107.9,576.9 1109.4,600.6 1110.9,598.1 1112.4,602.4 1113.9,627.5 1115.4,582.2 1116.9,559.1 1118.4,554.6 1119.9,591 1121.4,587.8 1122.8,567.8 1124.3,579.8 1125.8,588.9 1127.3,583.1 1128.8,563.6 1130.3,584.6 1131.8,558.3 1133.3,557.4 1134.8,553.9 1136.3,573.1 1137.8,577 1139.3,564.7 1140.8,589.7 1142.3,595.4 1143.8,591.6 1145.2,591.5 1146.7,566.4 1148.2,559.6 1149.7,579.4 1151.2,572.8 1152.7,584.5 1154.2,586.1 1155.7,557.6 1157.2,557.5 1158.7,571 1160.2,569.2 1161.7,560.4 1163.2,530.1 1164.7,548.6 1166.2,531.1 1167.6,538.2 1169.1,553.7 1170.6,544.7 1172.1,546.2 1173.6,543.3 1175.1,582.3 1176.6,555.8 1178.1,560 1179.6,573.5 1181.1,577.1 1182.6,581.1 1184.1,589.5 1185.6,572.1 1187.1,586.1 1188.6,571.8 1190,599.7 1191.5,589.4 1193,575.7 1194.5,565.1 1196,584.5 1197.5,566.6 1199,585.8 1200.5,576.1 1202,586.3 1203.5,588.8 1205,598.7 1206.5,592.2 1208,568.4 1209.5,573.7 1211,566.4 1212.4,565.6 1213.9,596 1215.4,605.8 1216.9,611.8 1218.4,602.6 1219.9,585.7 1221.4,568.6 1222.9,593.6 1224.4,588.7 1225.9,586.9 1227.4,596 1228.9,618.8 1230.4,590.4 1231.9,604.6 1233.4,594.2 1234.8,586.9 1236.3,586.2 1237.8,594.8 1239.3,595.2 1240.8,583.2 1242.3,570.1 1243.8,562.7 1245.3,587.5 1246.8,600.2 1248.3,592.4 1249.8,593.4 1251.3,594.4 1252.8,574.3 1254.3,555.3 1255.8,548.9 1257.2,557.6 1258.7,566.8 1260.2,559.4 1261.7,542.1 1263.2,524.2 1264.7,522.3 1266.2,552.6 1267.7,561.7 1269.2,540.8 1270.7,536 1272.2,546.6 1273.7,568.4 1275.2,558.8 1276.7,541.4 1278.2,529.3 1279.6,545.4 1281.1,524.3 1282.6,549.8 1284.1,565.7 1285.6,548.1 1287.1,569.4 1288.6,582.4 1290.1,597.3" fill="none" stroke="#606060" stroke-width="2.6" stroke-linejoin="round"/>
<polyline points="752.5,537.2 761.5,564.6 770.4,574.2 779.4,586.5 788.3,598.8 797.3,587.8 806.3,571.4 815.2,628.9 824.2,624.8 833.1,616.6 842.1,604.3 851.1,593.3 860,623.4 869,650.8 877.9,639.8 886.9,648 895.9,634.4 904.8,631.6 913.8,598.8 922.7,585.1 931.7,598.8 940.7,546.8 949.6,503 958.6,527.6 967.5,555 976.5,541.3 985.5,497.6 994.4,552.3 1003.4,574.2 1012.3,567.3 1021.3,590.6 1030.3,598.8 1039.2,568.7 1048.2,556.4 1057.1,571.4 1066.1,566 1075.1,585.1 1084,593.3 1093,598.8 1101.9,576.9 1110.9,587.8 1119.9,574.2 1128.8,582.4 1137.8,585.1 1146.7,576.9 1155.7,563.2 1164.7,549.5 1173.6,559.1 1182.6,568.7 1191.5,575.5 1200.5,576.9 1209.5,587.8 1218.4,612.5 1227.4,615.2 1236.3,619.3 1245.3,607 1254.3,585.1 1263.2,563.2 1272.2,574.2 1281.1,561.8 1290.1,566" fill="none" stroke="#d71a2b" stroke-width="7" stroke-linejoin="round" stroke-linecap="butt"/>
<polyline points="752.5,492.1 761.5,516.7 770.4,535.9 779.4,556.4 788.3,560.5 797.3,548.2 806.3,544.1 815.2,568.7 824.2,590.6 833.1,581 842.1,575.5 851.1,550.9 860,611.1 869,612.5 877.9,604.3 886.9,639.8 895.9,628.9 904.8,626.1 913.8,534.5 922.7,541.3 931.7,544.1 940.7,481.1 949.6,468.8 958.6,538.6 967.5,535.9 976.5,470.2 985.5,530.4 994.4,560.5 1003.4,576.9 1012.3,591.9 1021.3,598.8 1030.3,567.3 1039.2,583.7 1048.2,559.1 1057.1,567.3 1066.1,559.1 1075.1,579.6 1084,611.1 1093,576.9 1101.9,585.1 1110.9,602.9 1119.9,566 1128.8,571.4 1137.8,575.5 1146.7,572.8 1155.7,568.7 1164.7,550.9 1173.6,563.2 1182.6,574.2 1191.5,582.4 1200.5,571.4 1209.5,581 1218.4,602.9 1227.4,593.3 1236.3,601.5 1245.3,585.1 1254.3,567.3 1263.2,538.6 1272.2,549.5 1281.1,537.2 1290.1,579.6" fill="none" stroke="#333333" stroke-width="8" stroke-linejoin="round" stroke-linecap="butt"/>
</g>
<path transform="translate(720,452) scale(0.02750,-0.02750)" d="M345,0 L253,0 L253,525 C215,480 140,452 62,446 L62,509 C165,522 238,580 262,709 L345,709 Z" fill="#222"/>
<text x="697.1" y="519.7" font-size="27.5" fill="#222">0.5</text>
<text x="720" y="587.3" font-size="27.5" fill="#222">0</text>
<text x="687.9" y="654.9" font-size="27.5" fill="#222">-0.5</text>
<text x="710.9" y="722.5" font-size="27.5" fill="#222">-</text><path transform="translate(720,722.5) scale(0.02750,-0.02750)" d="M345,0 L253,0 L253,525 C215,480 140,452 62,446 L62,509 C165,522 238,580 262,709 L345,709 Z" fill="#222"/>
<path transform="translate(766.7,758) scale(0.02750,-0.02750)" d="M345,0 L253,0 L253,525 C215,480 140,452 62,446 L62,509 C165,522 238,580 262,709 L345,709 Z" fill="#222"/><text x="782" y="758" font-size="27.5" fill="#222">965</text>
<path transform="translate(856.3,758) scale(0.02750,-0.02750)" d="M345,0 L253,0 L253,525 C215,480 140,452 62,446 L62,509 C165,522 238,580 262,709 L345,709 Z" fill="#222"/><text x="871.6" y="758" font-size="27.5" fill="#222">975</text>
<path transform="translate(945.9,758) scale(0.02750,-0.02750)" d="M345,0 L253,0 L253,525 C215,480 140,452 62,446 L62,509 C165,522 238,580 262,709 L345,709 Z" fill="#222"/><text x="961.2" y="758" font-size="27.5" fill="#222">985</text>
<path transform="translate(1035.5,758) scale(0.02750,-0.02750)" d="M345,0 L253,0 L253,525 C215,480 140,452 62,446 L62,509 C165,522 238,580 262,709 L345,709 Z" fill="#222"/><text x="1050.8" y="758" font-size="27.5" fill="#222">995</text>
<text x="1125.1" y="758" font-size="27.5" fill="#222">2005</text>
<text x="1214.7" y="758" font-size="27.5" fill="#222">20</text><path transform="translate(1245.3,758) scale(0.02750,-0.02750)" d="M345,0 L253,0 L253,525 C215,480 140,452 62,446 L62,509 C165,522 238,580 262,709 L345,709 Z" fill="#222"/><text x="1260.6" y="758" font-size="27.5" fill="#222">5</text>
<text x="1256.9" y="696.2" font-size="28.5" text-anchor="end" font-weight="bold" fill="#000" >Ind</text>
<path d="M110,785.7 H657.4 V1082.7 H110 Z" fill="none" stroke="#474747" stroke-width="1.6"/>
<path d="M154.8,1082.7 v5 M154.8,785.7 v-5 M244.4,1082.7 v5 M244.4,785.7 v-5 M334,1082.7 v5 M334,785.7 v-5 M423.6,1082.7 v5 M423.6,785.7 v-5 M513.2,1082.7 v5 M513.2,785.7 v-5 M602.8,1082.7 v5 M602.8,785.7 v-5 M110,1082.7 h-5 M657.4,1082.7 h5 M110,1069.2 h-3 M657.4,1069.2 h3 M110,1055.7 h-3 M657.4,1055.7 h3 M110,1042.2 h-3 M657.4,1042.2 h3 M110,1028.7 h-3 M657.4,1028.7 h3 M110,1015.2 h-5 M657.4,1015.2 h5 M110,1001.7 h-3 M657.4,1001.7 h3 M110,988.2 h-3 M657.4,988.2 h3 M110,974.7 h-3 M657.4,974.7 h3 M110,961.2 h-3 M657.4,961.2 h3 M110,947.7 h-5 M657.4,947.7 h5 M110,934.2 h-3 M657.4,934.2 h3 M110,920.7 h-3 M657.4,920.7 h3 M110,907.2 h-3 M657.4,907.2 h3 M110,893.7 h-3 M657.4,893.7 h3 M110,880.2 h-5 M657.4,880.2 h5 M110,866.7 h-3 M657.4,866.7 h3 M110,853.2 h-3 M657.4,853.2 h3 M110,839.7 h-3 M657.4,839.7 h3 M110,826.2 h-3 M657.4,826.2 h3 M110,812.7 h-5 M657.4,812.7 h5 M110,799.2 h-3 M657.4,799.2 h3 M110,785.7 h-3 M657.4,785.7 h3" stroke="#474747" stroke-width="1.6" fill="none"/>
<clipPath id="clipE"><rect x="110.8" y="786.5" width="545.8" height="295.4"/></clipPath>
<g clip-path="url(#clipE)">
<path d="M110,746.6 L111.1,736.8 L112.2,736.6 L113.4,737.9 L114.5,761 L115.6,749.7 L116.7,771.3 L117.8,757.3 L119,779.4 L120.1,751.6 L121.2,760.7 L122.3,764.7 L123.4,766.9 L124.6,747.4 L125.7,750 L126.8,768.7 L127.9,754.9 L129,748.2 L130.2,771.2 L131.3,751.4 L132.4,750.7 L133.5,763.3 L134.6,746.1 L135.8,764.9 L136.9,782.3 L138,767.1 L139.1,746.9 L140.2,760.3 L141.4,760.7 L142.5,747.9 L143.6,746.1 L144.7,757.1 L145.8,742 L147,766.3 L148.1,748.7 L149.2,745.3 L150.3,759.3 L151.4,768.3 L152.6,747.8 L153.7,749.4 L154.8,742.7 L155.9,741 L157,762.4 L158.2,759.9 L159.3,778.6 L160.4,754.5 L161.5,749.5 L162.6,750.4 L163.8,748.7 L164.9,765.1 L166,758.2 L167.1,761.3 L168.2,752.2 L169.4,763.2 L170.5,760.3 L171.6,779.8 L172.7,770.9 L173.8,763.8 L175,765.2 L176.1,762 L177.2,757.2 L178.3,766.8 L179.4,770.5 L180.6,768.4 L181.7,799.5 L182.8,776.2 L183.9,756 L185,754.9 L186.2,794.3 L187.3,761.5 L188.4,753.6 L189.5,744.8 L190.6,754.1 L191.8,741.8 L192.9,739.1 L194,777.4 L195.1,751.5 L196.2,741.4 L197.4,736.7 L198.5,764.8 L199.6,748.5 L200.7,739 L201.8,742.6 L203,739.9 L204.1,739.1 L205.2,738.2 L206.3,735.9 L207.4,768.4 L208.6,749.5 L209.7,741.9 L210.8,773 L211.9,764.1 L213,750.4 L214.2,748.5 L215.3,777.2 L216.4,752.4 L217.5,754.2 L218.6,764.5 L219.8,755.6 L220.9,767.8 L222,752.8 L223.1,742.2 L224.2,742.1 L225.4,762.8 L226.5,772.2 L227.6,773.5 L228.7,759.1 L229.8,760.2 L231,763.8 L232.1,772.1 L233.2,818.5 L234.3,816.9 L235.4,829.4 L236.6,844.2 L237.7,817.1 L238.8,836 L239.9,808.4 L241,798 L242.2,792.8 L243.3,816 L244.4,804.5 L245.5,799.4 L246.6,824.4 L247.8,815.3 L248.9,796.9 L250,791 L251.1,815.9 L252.2,841.6 L253.4,848.4 L254.5,821.1 L255.6,813.8 L256.7,809.3 L257.8,812.4 L259,847.8 L260.1,830.1 L261.2,855.4 L262.3,840.9 L263.4,845.8 L264.6,834.6 L265.7,836.8 L266.8,837 L267.9,830.9 L269,842.3 L270.2,838.8 L271.3,834.1 L272.4,833.5 L273.5,828.8 L274.6,847.7 L275.8,859.1 L276.9,838.7 L278,853 L279.1,827.9 L280.2,822.7 L281.4,818 L282.5,850.7 L283.6,828.2 L284.7,819.5 L285.8,816.8 L287,828.7 L288.1,834.3 L289.2,843.1 L290.3,838.4 L291.4,827.3 L292.6,828.7 L293.7,820.4 L294.8,822.2 L295.9,816.9 L297,833.3 L298.2,847.7 L299.3,832 L300.4,854.9 L301.5,847.6 L302.6,835.1 L303.8,834.6 L304.9,851 L306,863.3 L307.1,848.4 L308.2,859.2 L309.4,873 L310.5,863.5 L311.6,843.2 L312.7,838 L313.8,840.8 L315,843.3 L316.1,860.9 L317.2,876.9 L318.3,857.2 L319.4,870.2 L320.6,859.9 L321.7,874.8 L322.8,851.1 L323.9,860 L325,847.8 L326.2,870.6 L327.3,850.7 L328.4,847.8 L329.5,876.2 L330.6,876 L331.8,876.9 L332.9,867.1 L334,861.2 L335.1,883 L336.2,867.7 L337.4,854.7 L338.5,878.1 L339.6,863.9 L340.7,854 L341.8,874.2 L343,853 L344.1,851.2 L345.2,866.2 L346.3,864.4 L347.4,857 L348.6,869.6 L349.7,860.5 L350.8,869.2 L351.9,882.8 L353,881.7 L354.2,870.8 L355.3,884.2 L356.4,881.3 L357.5,898.3 L358.6,894.9 L359.8,897.8 L360.9,907.3 L362,893.7 L363.1,885.2 L364.2,882.9 L365.4,890.5 L366.5,891.5 L367.6,896 L368.7,896.7 L369.8,891.7 L371,891.6 L372.1,887.6 L373.2,887 L374.3,891.5 L375.4,895.8 L376.6,892.3 L377.7,897.5 L378.8,905 L379.9,897.7 L381,904.1 L382.2,917 L383.3,921.8 L384.4,907 L385.5,905.1 L386.6,912.6 L387.8,902.7 L388.9,899.7 L390,901.7 L391.1,918.3 L392.2,917.4 L393.4,910.4 L394.5,908.2 L395.6,912.7 L396.7,910.2 L397.8,918.9 L399,910.4 L400.1,908.2 L401.2,909.2 L402.3,911.2 L403.4,907.4 L404.6,922.4 L405.7,922.2 L406.8,912.4 L407.9,913.7 L409,919.9 L410.2,914.5 L411.3,902.3 L412.4,916.3 L413.5,921.3 L414.6,901.8 L415.8,907 L416.9,912.1 L418,906.8 L419.1,916.7 L420.2,915.7 L421.4,905.7 L422.5,902.6 L423.6,903.4 L424.7,908 L425.8,903.7 L427,902.3 L428.1,916 L429.2,918.4 L430.3,908.7 L431.4,905.1 L432.6,904.5 L433.7,901.1 L434.8,902.1 L435.9,902.3 L437,915.3 L438.2,914.1 L439.3,910.8 L440.4,909.4 L441.5,918 L442.6,914.9 L443.8,909 L444.9,913.1 L446,921 L447.1,912.7 L448.2,914.7 L449.4,905.9 L450.5,892.2 L451.6,898.3 L452.7,887.9 L453.8,882.5 L455,889.6 L456.1,896.7 L457.2,904.9 L458.3,880.1 L459.4,871.7 L460.6,870 L461.7,882.9 L462.8,871.2 L463.9,881.9 L465,872.6 L466.2,866.7 L467.3,881.8 L468.4,883.1 L469.5,877.6 L470.6,876.2 L471.8,880 L472.9,887.1 L474,890.5 L475.1,890.2 L476.2,897.6 L477.4,896.3 L478.5,906.5 L479.6,906.5 L480.7,902.4 L481.8,897.7 L483,905.8 L484.1,900.6 L485.2,897.8 L486.3,899.4 L487.4,899.5 L488.6,896.8 L489.7,900.4 L490.8,901.8 L491.9,909.3 L493,902.3 L494.2,914.4 L495.3,911.3 L496.4,905.5 L497.5,906.5 L498.6,902.9 L499.8,901.6 L500.9,903.3 L502,905.7 L503.1,918.1 L504.2,906.4 L505.4,908.4 L506.5,911 L507.6,916 L508.7,909.2 L509.8,908.1 L511,910.4 L512.1,906.9 L513.2,919.6 L514.3,912.4 L515.4,921.4 L516.6,919.3 L517.7,921.8 L518.8,919.2 L519.9,926.5 L521,921 L522.2,933.2 L523.3,925.6 L524.4,931.5 L525.5,921.8 L526.6,920.9 L527.8,914.8 L528.9,905.3 L530,909.1 L531.1,901.7 L532.2,899.4 L533.4,896.3 L534.5,896 L535.6,900.4 L536.7,892.4 L537.8,900 L539,889.2 L540.1,889.1 L541.2,884.8 L542.3,887.4 L543.4,889.4 L544.6,886.9 L545.7,890 L546.8,902.5 L547.9,901.4 L549,906 L550.2,915 L551.3,916.1 L552.4,920.7 L553.5,914.9 L554.6,906.1 L555.8,906.5 L556.9,902.8 L558,908 L559.1,901.2 L560.2,911.5 L561.4,908.3 L562.5,914.5 L563.6,901.7 L564.7,909.4 L565.8,906.5 L567,898.5 L568.1,897.9 L569.2,908.6 L570.3,909.6 L571.4,899.5 L572.6,894.8 L573.7,906.2 L574.8,909.5 L575.9,899.9 L577,904.6 L578.2,895.4 L579.3,893.6 L580.4,903.3 L581.5,903 L582.6,892.3 L583.8,899.6 L584.9,898.8 L586,889.3 L587.1,894.9 L588.2,884.6 L589.4,886.4 L590.5,882.6 L591.6,877.2 L592.7,883.3 L593.8,874.7 L595,884.5 L596.1,877.9 L597.2,872.2 L598.3,887 L599.4,873.5 L600.6,872.7 L601.7,870.1 L602.8,872.8 L603.9,877.6 L605,878 L606.2,875.3 L607.3,890.5 L608.4,876.9 L609.5,876.1 L610.6,870.3 L611.8,874.5 L612.9,892.6 L614,873.1 L615.1,883 L616.2,867.6 L617.4,864.9 L618.5,860 L619.6,865.8 L620.7,858.2 L621.8,871.7 L623,868.8 L624.1,863.6 L625.2,863 L626.3,858.7 L627.4,862.4 L628.6,872.9 L629.7,863.1 L630.8,856.1 L631.9,866.5 L633,859.3 L634.2,862.9 L635.3,854.3 L636.4,854.3 L637.5,870 L638.6,874.8 L639.8,861.9 L640.9,873.3 L642,871.7 L643.1,876.1 L644.2,863 L645.4,849.1 L646.5,865.4 L647.6,855.5 L647.6,951.3 L646.5,940.1 L645.4,958.8 L644.2,958.3 L643.1,956.1 L642,945.5 L640.9,939.9 L639.8,953.1 L638.6,961.7 L637.5,958.1 L636.4,953.2 L635.3,960.5 L634.2,964.7 L633,963.4 L631.9,966.9 L630.8,964.6 L629.7,964.3 L628.6,958.8 L627.4,963 L626.3,966.3 L625.2,957.2 L624.1,971.8 L623,973.5 L621.8,970.7 L620.7,972.1 L619.6,973.4 L618.5,972.3 L617.4,968.6 L616.2,978.8 L615.1,978.2 L614,975.4 L612.9,961.1 L611.8,982.6 L610.6,984.6 L609.5,982.1 L608.4,966.9 L607.3,981.8 L606.2,970.6 L605,969.6 L603.9,988.9 L602.8,985 L601.7,979.6 L600.6,974.1 L599.4,988.9 L598.3,986.1 L597.2,974.3 L596.1,991.6 L595,986.4 L593.8,989.5 L592.7,989.1 L591.6,985.7 L590.5,987.2 L589.4,978.8 L588.2,990.1 L587.1,992.4 L586,995.9 L584.9,986.4 L583.8,972.6 L582.6,974.7 L581.5,993.1 L580.4,977.4 L579.3,985.9 L578.2,997.6 L577,995.8 L575.9,989 L574.8,996.9 L573.7,992.6 L572.6,978.9 L571.4,979.1 L570.3,983.1 L569.2,992.8 L568.1,978.2 L567,980.6 L565.8,992.9 L564.7,982.9 L563.6,986.1 L562.5,992.5 L561.4,991.3 L560.2,989.4 L559.1,998.3 L558,1001.3 L556.9,986.3 L555.8,998.4 L554.6,998.6 L553.5,983.4 L552.4,996.2 L551.3,991.2 L550.2,990.2 L549,996.4 L547.9,992.9 L546.8,999.7 L545.7,1000.5 L544.6,997.7 L543.4,992 L542.3,997.4 L541.2,992.8 L540.1,992.7 L539,993.7 L537.8,993.7 L536.7,992.7 L535.6,995.5 L534.5,979 L533.4,996.2 L532.2,997.8 L531.1,996.2 L530,1004.7 L528.9,1010.4 L527.8,1007.6 L526.6,1007.5 L525.5,1005.9 L524.4,995.2 L523.3,995.8 L522.2,1007.1 L521,1006.1 L519.9,993.1 L518.8,991.8 L517.7,998.2 L516.6,1007.5 L515.4,1003.8 L514.3,998.9 L513.2,993.4 L512.1,994.9 L511,985.2 L509.8,992.8 L508.7,996.1 L507.6,995.7 L506.5,996.6 L505.4,993 L504.2,988.6 L503.1,988.6 L502,977.9 L500.9,976.5 L499.8,966.1 L498.6,972.9 L497.5,982 L496.4,976.7 L495.3,979.5 L494.2,973.5 L493,965.7 L491.9,974.1 L490.8,986.9 L489.7,980.5 L488.6,973.6 L487.4,982.7 L486.3,979 L485.2,990.7 L484.1,990.2 L483,983.6 L481.8,987.1 L480.7,984.2 L479.6,986.4 L478.5,988.8 L477.4,986.9 L476.2,973.6 L475.1,982.7 L474,973.4 L472.9,988.1 L471.8,972 L470.6,990.4 L469.5,992.9 L468.4,993.4 L467.3,992.7 L466.2,1000.7 L465,1000.7 L463.9,1000.5 L462.8,997.3 L461.7,1005.9 L460.6,1000.8 L459.4,992.1 L458.3,991.8 L457.2,997.2 L456.1,1004.1 L455,1008.5 L453.8,1017.1 L452.7,1015.6 L451.6,1010.6 L450.5,1023.3 L449.4,1017.6 L448.2,1019.7 L447.1,1013.5 L446,1012.5 L444.9,1000.6 L443.8,1013.1 L442.6,1000.8 L441.5,997.1 L440.4,988.6 L439.3,992.3 L438.2,991.7 L437,1003.9 L435.9,998 L434.8,992.5 L433.7,1004.3 L432.6,994.4 L431.4,1002.9 L430.3,992.7 L429.2,997.7 L428.1,992.6 L427,985.1 L425.8,995.5 L424.7,989.8 L423.6,982.7 L422.5,990.6 L421.4,984.3 L420.2,994.8 L419.1,983.7 L418,986.3 L416.9,1000.8 L415.8,993.5 L414.6,993.1 L413.5,982.7 L412.4,1001.5 L411.3,996.8 L410.2,995.4 L409,994.9 L407.9,998 L406.8,994.1 L405.7,991.2 L404.6,991.6 L403.4,995.4 L402.3,998.1 L401.2,1001 L400.1,995.3 L399,993.2 L397.8,985.7 L396.7,1001.1 L395.6,1009.6 L394.5,1002.2 L393.4,989.3 L392.2,1001.9 L391.1,1001.1 L390,996.9 L388.9,982.7 L387.8,984.7 L386.6,996.9 L385.5,991.7 L384.4,988.8 L383.3,998.1 L382.2,992.2 L381,1005.7 L379.9,1007.9 L378.8,1009.7 L377.7,1003 L376.6,998.1 L375.4,984.2 L374.3,1000.2 L373.2,1000.2 L372.1,987.1 L371,994.4 L369.8,1005.9 L368.7,990.7 L367.6,1002.8 L366.5,1000.2 L365.4,991 L364.2,1003.5 L363.1,1002.6 L362,1001.3 L360.9,1002.2 L359.8,993 L358.6,983.9 L357.5,984.7 L356.4,999.8 L355.3,996.8 L354.2,987.5 L353,996.7 L351.9,981.6 L350.8,997.6 L349.7,990.1 L348.6,970.8 L347.4,975.2 L346.3,980.4 L345.2,973.3 L344.1,994.7 L343,987.2 L341.8,968.5 L340.7,979.1 L339.6,999 L338.5,984.4 L337.4,994.6 L336.2,980.8 L335.1,988.9 L334,995.6 L332.9,1003.3 L331.8,999.9 L330.6,985.3 L329.5,1010.9 L328.4,1005.7 L327.3,998.4 L326.2,993.6 L325,1006.4 L323.9,1006.4 L322.8,988.7 L321.7,983 L320.6,1004.1 L319.4,981.6 L318.3,1011.5 L317.2,1003.1 L316.1,980.4 L315,983.9 L313.8,975.5 L312.7,987.6 L311.6,1005 L310.5,997.3 L309.4,987.1 L308.2,969.1 L307.1,988.6 L306,975.7 L304.9,990.7 L303.8,997.5 L302.6,989.7 L301.5,964.7 L300.4,983.9 L299.3,995 L298.2,995 L297,987.9 L295.9,972.1 L294.8,986.7 L293.7,958.4 L292.6,964.2 L291.4,964 L290.3,982.5 L289.2,994.8 L288.1,989 L287,996.2 L285.8,979.2 L284.7,1000.9 L283.6,986.9 L282.5,988.1 L281.4,976.2 L280.2,1006.5 L279.1,1006.4 L278,992.7 L276.9,1001.7 L275.8,979.3 L274.6,995.1 L273.5,1001.7 L272.4,998.5 L271.3,1005.7 L270.2,1002.5 L269,1004.7 L267.9,994.6 L266.8,990.6 L265.7,993.2 L264.6,975.1 L263.4,972.5 L262.3,982.8 L261.2,974.6 L260.1,996.6 L259,996.8 L257.8,978.7 L256.7,983.9 L255.6,988.8 L254.5,1003.4 L253.4,978.2 L252.2,966.4 L251.1,982.9 L250,1015.2 L248.9,1013.4 L247.8,1009.8 L246.6,992.1 L245.5,1014.1 L244.4,1003.3 L243.3,974.9 L242.2,987.2 L241,1013.1 L239.9,1004.3 L238.8,976.8 L237.7,980.4 L236.6,1008.5 L235.4,1014.4 L234.3,998 L233.2,981.2 L232.1,1001.6 L231,970 L229.8,975.9 L228.7,987.6 L227.6,966.5 L226.5,994.6 L225.4,989.3 L224.2,976.8 L223.1,995 L222,981.3 L220.9,997.6 L219.8,980.3 L218.6,983.3 L217.5,988.5 L216.4,1005.1 L215.3,1006.1 L214.2,986 L213,969.5 L211.9,988.2 L210.8,1010.9 L209.7,1009.8 L208.6,1001.8 L207.4,1008.2 L206.3,1016 L205.2,1002.8 L204.1,983 L203,1005.2 L201.8,1001.1 L200.7,1020 L199.6,1010.5 L198.5,1020.3 L197.4,1015.1 L196.2,1007.3 L195.1,1007.5 L194,996.6 L192.9,955.4 L191.8,961.6 L190.6,981.5 L189.5,1017.6 L188.4,1015.2 L187.3,1006.7 L186.2,985.5 L185,966 L183.9,987.2 L182.8,1020.9 L181.7,1021.2 L180.6,1023.3 L179.4,1027.3 L178.3,1030.8 L177.2,1032.8 L176.1,1027.9 L175,1015.3 L173.8,1001.2 L172.7,1030.8 L171.6,1023.3 L170.5,1013.7 L169.4,1030.9 L168.2,1018.7 L167.1,1019.8 L166,993.9 L164.9,1015.6 L163.8,1018 L162.6,996.5 L161.5,994.4 L160.4,1002.2 L159.3,1011 L158.2,999 L157,975.4 L155.9,1002.5 L154.8,1004.2 L153.7,1003 L152.6,996.8 L151.4,1003.3 L150.3,999.5 L149.2,999.4 L148.1,990.3 L147,989.7 L145.8,966.9 L144.7,997.1 L143.6,986.9 L142.5,986.2 L141.4,1014.1 L140.2,1011.5 L139.1,1017.9 L138,1011.9 L136.9,997.3 L135.8,1023.2 L134.6,1017.7 L133.5,1040.9 L132.4,1039.2 L131.3,1023.7 L130.2,1052.2 L129,1048.3 L127.9,1045.3 L126.8,1022.9 L125.7,1040.5 L124.6,1069.3 L123.4,1062.2 L122.3,1069 L121.2,1070 L120.1,1057.5 L119,1048.3 L117.8,1022.8 L116.7,1054.8 L115.6,1042.2 L114.5,1014.9 L113.4,1033.4 L112.2,1022.9 L111.1,1003.9 L110,1009.2Z" fill="#e0e0ec"/>
</g>
<circle cx="110" cy="946.6" r="9.3" fill="#76cee0" stroke="#8b80c2" stroke-width="1.2"/>
<circle cx="110" cy="958.3" r="9.3" fill="#76cee0" stroke="#8b80c2" stroke-width="1.2"/>
<circle cx="110" cy="968.7" r="9.3" fill="#76cee0" stroke="#8b80c2" stroke-width="1.2"/>
<circle cx="110" cy="979.1" r="9.3" fill="#76cee0" stroke="#8b80c2" stroke-width="1.2"/>
<circle cx="110" cy="991.8" r="9.3" fill="#76cee0" stroke="#8b80c2" stroke-width="1.2"/>
<circle cx="110" cy="1000.5" r="9.3" fill="#76cee0" stroke="#8b80c2" stroke-width="1.2"/>
<circle cx="154.8" cy="931.6" r="9.3" fill="#76cee0" stroke="#8b80c2" stroke-width="1.2"/>
<circle cx="154.8" cy="940.5" r="9.3" fill="#76cee0" stroke="#8b80c2" stroke-width="1.2"/>
<circle cx="154.8" cy="948.6" r="9.3" fill="#76cee0" stroke="#8b80c2" stroke-width="1.2"/>
<circle cx="154.8" cy="964.1" r="9.3" fill="#76cee0" stroke="#8b80c2" stroke-width="1.2"/>
<circle cx="154.8" cy="973.2" r="9.3" fill="#76cee0" stroke="#8b80c2" stroke-width="1.2"/>
<circle cx="154.8" cy="981.4" r="9.3" fill="#76cee0" stroke="#8b80c2" stroke-width="1.2"/>
<circle cx="199.6" cy="928.8" r="9.3" fill="#76cee0" stroke="#8b80c2" stroke-width="1.2"/>
<circle cx="199.6" cy="936.6" r="9.3" fill="#76cee0" stroke="#8b80c2" stroke-width="1.2"/>
<circle cx="199.6" cy="952.7" r="9.3" fill="#76cee0" stroke="#8b80c2" stroke-width="1.2"/>
<circle cx="199.6" cy="962.5" r="9.3" fill="#76cee0" stroke="#8b80c2" stroke-width="1.2"/>
<circle cx="199.6" cy="968.5" r="9.3" fill="#76cee0" stroke="#8b80c2" stroke-width="1.2"/>
<circle cx="199.6" cy="981.7" r="9.3" fill="#76cee0" stroke="#8b80c2" stroke-width="1.2"/>
<circle cx="199.6" cy="992.3" r="9.3" fill="#76cee0" stroke="#8b80c2" stroke-width="1.2"/>
<circle cx="244.4" cy="942.5" r="9.3" fill="#76cee0" stroke="#8b80c2" stroke-width="1.2"/>
<circle cx="244.4" cy="952.6" r="9.3" fill="#76cee0" stroke="#8b80c2" stroke-width="1.2"/>
<circle cx="244.4" cy="962" r="9.3" fill="#76cee0" stroke="#8b80c2" stroke-width="1.2"/>
<circle cx="244.4" cy="972.2" r="9.3" fill="#76cee0" stroke="#8b80c2" stroke-width="1.2"/>
<circle cx="244.4" cy="982.2" r="9.3" fill="#76cee0" stroke="#8b80c2" stroke-width="1.2"/>
<circle cx="244.4" cy="993.7" r="9.3" fill="#76cee0" stroke="#8b80c2" stroke-width="1.2"/>
<circle cx="289.2" cy="931.6" r="9.3" fill="#76cee0" stroke="#8b80c2" stroke-width="1.2"/>
<circle cx="289.2" cy="942.3" r="9.3" fill="#76cee0" stroke="#8b80c2" stroke-width="1.2"/>
<circle cx="289.2" cy="951" r="9.3" fill="#76cee0" stroke="#8b80c2" stroke-width="1.2"/>
<circle cx="289.2" cy="964.4" r="9.3" fill="#76cee0" stroke="#8b80c2" stroke-width="1.2"/>
<circle cx="289.2" cy="970.1" r="9.3" fill="#76cee0" stroke="#8b80c2" stroke-width="1.2"/>
<circle cx="289.2" cy="982.3" r="9.3" fill="#76cee0" stroke="#8b80c2" stroke-width="1.2"/>
<circle cx="289.2" cy="992.3" r="9.3" fill="#76cee0" stroke="#8b80c2" stroke-width="1.2"/>
<circle cx="334" cy="937" r="9.3" fill="#76cee0" stroke="#8b80c2" stroke-width="1.2"/>
<circle cx="334" cy="948.6" r="9.3" fill="#76cee0" stroke="#8b80c2" stroke-width="1.2"/>
<circle cx="334" cy="959.5" r="9.3" fill="#76cee0" stroke="#8b80c2" stroke-width="1.2"/>
<circle cx="334" cy="969.8" r="9.3" fill="#76cee0" stroke="#8b80c2" stroke-width="1.2"/>
<circle cx="334" cy="977.4" r="9.3" fill="#76cee0" stroke="#8b80c2" stroke-width="1.2"/>
<circle cx="334" cy="986.8" r="9.3" fill="#76cee0" stroke="#8b80c2" stroke-width="1.2"/>
<circle cx="378.8" cy="932.9" r="9.3" fill="#76cee0" stroke="#8b80c2" stroke-width="1.2"/>
<circle cx="378.8" cy="941.9" r="9.3" fill="#76cee0" stroke="#8b80c2" stroke-width="1.2"/>
<circle cx="378.8" cy="955.9" r="9.3" fill="#76cee0" stroke="#8b80c2" stroke-width="1.2"/>
<circle cx="378.8" cy="964" r="9.3" fill="#76cee0" stroke="#8b80c2" stroke-width="1.2"/>
<circle cx="378.8" cy="972.2" r="9.3" fill="#76cee0" stroke="#8b80c2" stroke-width="1.2"/>
<circle cx="378.8" cy="984.1" r="9.3" fill="#76cee0" stroke="#8b80c2" stroke-width="1.2"/>
<circle cx="423.6" cy="916.5" r="9.3" fill="#76cee0" stroke="#8b80c2" stroke-width="1.2"/>
<circle cx="423.6" cy="931" r="9.3" fill="#76cee0" stroke="#8b80c2" stroke-width="1.2"/>
<circle cx="423.6" cy="938.5" r="9.3" fill="#76cee0" stroke="#8b80c2" stroke-width="1.2"/>
<circle cx="423.6" cy="950.1" r="9.3" fill="#76cee0" stroke="#8b80c2" stroke-width="1.2"/>
<circle cx="423.6" cy="963.7" r="9.3" fill="#76cee0" stroke="#8b80c2" stroke-width="1.2"/>
<circle cx="423.6" cy="973.1" r="9.3" fill="#76cee0" stroke="#8b80c2" stroke-width="1.2"/>
<circle cx="423.6" cy="984.1" r="9.3" fill="#76cee0" stroke="#8b80c2" stroke-width="1.2"/>
<circle cx="468.4" cy="927.5" r="9.3" fill="#76cee0" stroke="#8b80c2" stroke-width="1.2"/>
<circle cx="468.4" cy="936.3" r="9.3" fill="#76cee0" stroke="#8b80c2" stroke-width="1.2"/>
<circle cx="468.4" cy="947.4" r="9.3" fill="#76cee0" stroke="#8b80c2" stroke-width="1.2"/>
<circle cx="468.4" cy="957.6" r="9.3" fill="#76cee0" stroke="#8b80c2" stroke-width="1.2"/>
<circle cx="468.4" cy="968.2" r="9.3" fill="#76cee0" stroke="#8b80c2" stroke-width="1.2"/>
<circle cx="468.4" cy="976.6" r="9.3" fill="#76cee0" stroke="#8b80c2" stroke-width="1.2"/>
<circle cx="468.4" cy="989.8" r="9.3" fill="#76cee0" stroke="#8b80c2" stroke-width="1.2"/>
<circle cx="468.4" cy="997.8" r="9.3" fill="#76cee0" stroke="#8b80c2" stroke-width="1.2"/>
<circle cx="513.2" cy="931.6" r="9.3" fill="#76cee0" stroke="#8b80c2" stroke-width="1.2"/>
<circle cx="513.2" cy="942.2" r="9.3" fill="#76cee0" stroke="#8b80c2" stroke-width="1.2"/>
<circle cx="513.2" cy="951.9" r="9.3" fill="#76cee0" stroke="#8b80c2" stroke-width="1.2"/>
<circle cx="513.2" cy="959.8" r="9.3" fill="#76cee0" stroke="#8b80c2" stroke-width="1.2"/>
<circle cx="513.2" cy="969.1" r="9.3" fill="#76cee0" stroke="#8b80c2" stroke-width="1.2"/>
<circle cx="558" cy="928.8" r="9.3" fill="#76cee0" stroke="#8b80c2" stroke-width="1.2"/>
<circle cx="558" cy="937.6" r="9.3" fill="#76cee0" stroke="#8b80c2" stroke-width="1.2"/>
<circle cx="558" cy="949.4" r="9.3" fill="#76cee0" stroke="#8b80c2" stroke-width="1.2"/>
<circle cx="558" cy="964.6" r="9.3" fill="#76cee0" stroke="#8b80c2" stroke-width="1.2"/>
<circle cx="558" cy="974.5" r="9.3" fill="#76cee0" stroke="#8b80c2" stroke-width="1.2"/>
<circle cx="602.8" cy="909.7" r="9.3" fill="#76cee0" stroke="#8b80c2" stroke-width="1.2"/>
<circle cx="602.8" cy="921.7" r="9.3" fill="#76cee0" stroke="#8b80c2" stroke-width="1.2"/>
<circle cx="602.8" cy="929.6" r="9.3" fill="#76cee0" stroke="#8b80c2" stroke-width="1.2"/>
<circle cx="602.8" cy="943.8" r="9.3" fill="#76cee0" stroke="#8b80c2" stroke-width="1.2"/>
<circle cx="602.8" cy="952.3" r="9.3" fill="#76cee0" stroke="#8b80c2" stroke-width="1.2"/>
<circle cx="602.8" cy="967.6" r="9.3" fill="#76cee0" stroke="#8b80c2" stroke-width="1.2"/>
<circle cx="602.8" cy="977.3" r="9.3" fill="#76cee0" stroke="#8b80c2" stroke-width="1.2"/>
<line x1="110" y1="937.3" x2="110" y2="1012.6" stroke="#1f82c8" stroke-width="5.6"/>
<rect x="100" y="934.5" width="20" height="5.6" fill="#1f82c8"/>
<rect x="100" y="1009.8" width="20" height="5.6" fill="#1f82c8"/>
<line x1="154.8" y1="920.9" x2="154.8" y2="993.4" stroke="#1f82c8" stroke-width="5.6"/>
<rect x="144.8" y="918.1" width="20" height="5.6" fill="#1f82c8"/>
<rect x="144.8" y="990.6" width="20" height="5.6" fill="#1f82c8"/>
<line x1="199.6" y1="930.5" x2="199.6" y2="1003" stroke="#1f82c8" stroke-width="5.6"/>
<rect x="189.6" y="927.7" width="20" height="5.6" fill="#1f82c8"/>
<rect x="189.6" y="1000.2" width="20" height="5.6" fill="#1f82c8"/>
<line x1="244.4" y1="931.8" x2="244.4" y2="997.5" stroke="#1f82c8" stroke-width="5.6"/>
<rect x="234.4" y="929" width="20" height="5.6" fill="#1f82c8"/>
<rect x="234.4" y="994.7" width="20" height="5.6" fill="#1f82c8"/>
<line x1="289.2" y1="922.3" x2="289.2" y2="997.5" stroke="#1f82c8" stroke-width="5.6"/>
<rect x="279.2" y="919.5" width="20" height="5.6" fill="#1f82c8"/>
<rect x="279.2" y="994.7" width="20" height="5.6" fill="#1f82c8"/>
<line x1="334" y1="934.6" x2="334" y2="985.2" stroke="#1f82c8" stroke-width="5.6"/>
<rect x="324" y="931.8" width="20" height="5.6" fill="#1f82c8"/>
<rect x="324" y="982.4" width="20" height="5.6" fill="#1f82c8"/>
<line x1="378.8" y1="925" x2="378.8" y2="987.9" stroke="#1f82c8" stroke-width="5.6"/>
<rect x="368.8" y="922.2" width="20" height="5.6" fill="#1f82c8"/>
<rect x="368.8" y="985.1" width="20" height="5.6" fill="#1f82c8"/>
<line x1="423.6" y1="910" x2="423.6" y2="998.9" stroke="#1f82c8" stroke-width="5.6"/>
<rect x="413.6" y="907.2" width="20" height="5.6" fill="#1f82c8"/>
<rect x="413.6" y="996.1" width="20" height="5.6" fill="#1f82c8"/>
<line x1="468.4" y1="929.1" x2="468.4" y2="1013.9" stroke="#1f82c8" stroke-width="5.6"/>
<rect x="458.4" y="926.3" width="20" height="5.6" fill="#1f82c8"/>
<rect x="458.4" y="1011.1" width="20" height="5.6" fill="#1f82c8"/>
<line x1="513.2" y1="925" x2="513.2" y2="974.3" stroke="#1f82c8" stroke-width="5.6"/>
<rect x="503.2" y="922.2" width="20" height="5.6" fill="#1f82c8"/>
<rect x="503.2" y="971.5" width="20" height="5.6" fill="#1f82c8"/>
<line x1="558" y1="923.6" x2="558" y2="977" stroke="#1f82c8" stroke-width="5.6"/>
<rect x="548" y="920.8" width="20" height="5.6" fill="#1f82c8"/>
<rect x="548" y="974.2" width="20" height="5.6" fill="#1f82c8"/>
<line x1="602.8" y1="914.1" x2="602.8" y2="978.4" stroke="#1f82c8" stroke-width="5.6"/>
<rect x="592.8" y="911.3" width="20" height="5.6" fill="#1f82c8"/>
<rect x="592.8" y="975.6" width="20" height="5.6" fill="#1f82c8"/>
<polyline points="110,972.9 154.8,956.5 199.6,966 244.4,966 289.2,960.6 334,960.6 378.8,957.8 423.6,957.8 468.4,970.2 513.2,951 558,949.6 602.8,946.9" fill="none" stroke="#1f82c8" stroke-width="6" stroke-linejoin="round"/>
<line x1="110.4" y1="947.7" x2="647.6" y2="947.7" stroke="#505050" stroke-width="1.8" stroke-dasharray="5.3,6.116"/>
<g clip-path="url(#clipE)">
<polyline points="110,881 111.5,826 113,864 114.5,881.8 116,862.1 117.5,848.4 119,857.5 120.5,840.2 121.9,873.2 123.4,882.4 124.9,849.1 126.4,850.3 127.9,862.4 129.4,872.7 130.9,826.5 132.4,795.4 133.9,847.7 135.4,862.9 136.9,851.6 138.4,832.3 139.9,855.3 141.4,877.5 142.9,867.3 144.3,875.9 145.8,845.3 147.3,831.3 148.8,829.4 150.3,849 151.8,868.3 153.3,885.5 154.8,859.9 156.3,870 157.8,850.9 159.3,889.7 160.8,917.6 162.3,920.5 163.8,913.2 165.3,893.4 166.7,926.9 168.2,942.2 169.7,942.9 171.2,880.5 172.7,902.9 174.2,933.8 175.7,932.4 177.2,954.6 178.7,898.9 180.2,930 181.7,945 183.2,931.5 184.7,944.5 186.2,932.3 187.7,947.4 189.1,938 190.6,944.6 192.1,913.8 193.6,884.9 195.1,874.6 196.6,871.3 198.1,870 199.6,868.9 201.1,866.7 202.6,860.5 204.1,858.9 205.6,855.6 207.1,885.5 208.6,856.2 210.1,865.2 211.5,878.4 213,850 214.5,890.1 216,885.4 217.5,897.2 219,839.5 220.5,853 222,906.2 223.5,897.5 225,909.6 226.5,914.4 228,899.7 229.5,913.8 231,906.4 232.5,889.5 233.9,891.8 235.4,881.6 236.9,920.5 238.4,895.5 239.9,922.6 241.4,917.1 242.9,899.9 244.4,890.4 245.9,908.2 247.4,902.2 248.9,925.3 250.4,888 251.9,922.6 253.4,932.1 254.9,923 256.3,932.6 257.8,893.6 259.3,882.4 260.8,913.3 262.3,920 263.8,928.9 265.3,910.2 266.8,918.8 268.3,903.1 269.8,933.4 271.3,939.1 272.8,949.3 274.3,910.8 275.8,928.7 277.3,936.7 278.7,903 280.2,923.4 281.7,897 283.2,893.4 284.7,925.8 286.2,925.3 287.7,891.9 289.2,887.1 290.7,902.9 292.2,893.9 293.7,900.9 295.2,920.5 296.7,914.5 298.2,894.5 299.7,904.2 301.1,900.8 302.6,908.4 304.1,905.9 305.6,893.4 307.1,883.2 308.6,911.7 310.1,913.6 311.6,929.5 313.1,941.1 314.6,939.8 316.1,939.5 317.6,905 319.1,901.2 320.6,936.6 322.1,905.5 323.5,914.3 325,902.2 326.5,904.4 328,897.2 329.5,922.4 331,902.2 332.5,928.5 334,944.3 335.5,912.6 337,929.2 338.5,905.3 340,925.5 341.5,942.6 343,914.8 344.5,912.4 345.9,903 347.4,905.2 348.9,905.2 350.4,912 351.9,940.2 353.4,954.4 354.9,950.4 356.4,930.6 357.9,930.1 359.4,948 360.9,963.9 362.4,956.8 363.9,943.5 365.4,945.9 366.9,945.1 368.3,947.5 369.8,974 371.3,983.4 372.8,958.9 374.3,960.4 375.8,972.8 377.3,951.6 378.8,940.1 380.3,938.5 381.8,960.6 383.3,939.5 384.8,937.8 386.3,959.9 387.8,958.2 389.3,944.5 390.7,966.5 392.2,945.8 393.7,962.1 395.2,953.9 396.7,947.6 398.2,958.2 399.7,948.5 401.2,939.9 402.7,957 404.2,950.3 405.7,952.6 407.2,955.4 408.7,959.1 410.2,944 411.7,958.5 413.1,936.9 414.6,956.9 416.1,947.7 417.6,949.9 419.1,941.9 420.6,967.9 422.1,963.7 423.6,971.1 425.1,969.6 426.6,946.8 428.1,955.4 429.6,960.5 431.1,963.2 432.6,942.9 434.1,935.6 435.5,960.9 437,930.3 438.5,935 440,949.6 441.5,955.8 443,949.8 444.5,970.6 446,979.9 447.5,956.1 449,964.8 450.5,949.2 452,974.9 453.5,970 455,965.3 456.5,947.3 457.9,968.4 459.4,938.1 460.9,954.3 462.4,971.4 463.9,938.4 465.4,920.8 466.9,948.9 468.4,919.8 469.9,916.6 471.4,923.8 472.9,916.1 474.4,919.7 475.9,921.8 477.4,945 478.9,947.9 480.3,925.5 481.8,939.6 483.3,943.2 484.8,954.1 486.3,953.8 487.8,960.6 489.3,928.1 490.8,934.7 492.3,935.2 493.8,917.4 495.3,938.2 496.8,922.4 498.3,918.1 499.8,934.4 501.3,943.1 502.7,930.1 504.2,914.7 505.7,936.9 507.2,944.8 508.7,939.4 510.2,947.6 511.7,946.4 513.2,937.6 514.7,953 516.2,957.3 517.7,968.9 519.2,955.9 520.7,972.4 522.2,984.3 523.7,970.2 525.1,973.6 526.6,968.4 528.1,955.4 529.6,974.5 531.1,951.4 532.6,966.5 534.1,964.7 535.6,960.8 537.1,955.7 538.6,924.4 540.1,917.9 541.6,912.9 543.1,933.6 544.6,945.9 546.1,929 547.5,939.2 549,957.1 550.5,959.6 552,952.8 553.5,953.6 555,946.5 556.5,957.1 558,937.4 559.5,934.6 561,930.6 562.5,960.1 564,958.9 565.5,945.4 567,964.7 568.5,968.6 569.9,946.1 571.4,941.8 572.9,949.3 574.4,960.2 575.9,964.2 577.4,960.3 578.9,959.7 580.4,965.6 581.9,940.1 583.4,932.2 584.9,932.7 586.4,934.5 587.9,927.3 589.4,924.8 590.9,920.3 592.3,941.8 593.8,939.3 595.3,912 596.8,932.7 598.3,928 599.8,911.8 601.3,937.1 602.8,937.5 604.3,941.4 605.8,941.9 607.3,928 608.8,932.8 610.3,945 611.8,950.9 613.3,918.1 614.7,919.6 616.2,931.8 617.7,934.5 619.2,934.5 620.7,913.2 622.2,923.5 623.7,932.7 625.2,917.2 626.7,918.8 628.2,899.4 629.7,913.6 631.2,913 632.7,917.5 634.2,923.5 635.7,898.9 637.1,888.3 638.6,912.5 640.1,897 641.6,885.4 643.1,886.4 644.6,896.7 646.1,886.7 647.6,891.1" fill="none" stroke="#606060" stroke-width="2.6" stroke-linejoin="round"/>
<polyline points="110,885.3 119,885.3 127.9,873 136.9,859.3 145.8,882.6 154.8,893.5 163.8,929.1 172.7,929.1 181.7,926.4 190.6,918.2 199.6,914.1 208.6,900.4 217.5,890.8 226.5,903.1 235.4,918.2 244.4,911.3 253.4,905.9 262.3,908.6 271.3,925 280.2,926.4 289.2,914.1 298.2,905.9 307.1,922.3 316.1,938.7 325,933.2 334,925 343,914.1 351.9,927.7 360.9,938.7 369.8,952.4 378.8,953.7 387.8,944.2 396.7,948.3 405.7,934.6 414.6,940.1 423.6,941.4 432.6,944.2 441.5,961.9 450.5,968.8 459.4,955.1 468.4,946.9 477.4,946.9 486.3,944.2 495.3,936 504.2,929.1 513.2,937.3 522.2,968.8 531.1,966 540.1,938.7 549,944.2 558,945.5 567,944.2 575.9,944.2 584.9,941.4 593.8,933.2 602.8,929.1 611.8,930.5 620.7,925 629.7,918.2 638.6,911.3 647.6,903.1" fill="none" stroke="#d71a2b" stroke-width="7" stroke-linejoin="round" stroke-linecap="butt"/>
<polyline points="110,871.7 119,874.4 127.9,832 136.9,829.2 145.8,859.3 154.8,870.3 163.8,911.3 172.7,905.9 181.7,914.1 190.6,916.8 199.6,905.9 208.6,886.7 217.5,873 226.5,878.5 235.4,896.3 244.4,901.8 253.4,904.5 262.3,899 271.3,920.9 280.2,922.3 289.2,901.8 298.2,893.5 307.1,903.1 316.1,919.5 325,920.9 334,925 343,922.3 351.9,934.6 360.9,946.9 369.8,963.3 378.8,957.2 387.8,946.9 396.7,961.9 405.7,941.4 414.6,946.9 423.6,952.4 432.6,951 441.5,960.6 450.5,966 459.4,949.6 468.4,933.2 477.4,936 486.3,938.7 495.3,929.1 504.2,929.1 513.2,938.7 522.2,966 531.1,964.7 540.1,929.1 549,942.8 558,949.6 567,952.4 575.9,951 584.9,946.9 593.8,925 602.8,923.6 611.8,930.5 620.7,919.5 629.7,911.3 638.6,901.8 647.6,897.6" fill="none" stroke="#333333" stroke-width="8" stroke-linejoin="round" stroke-linecap="butt"/>
</g>
<path transform="translate(77.5,822.7) scale(0.02750,-0.02750)" d="M345,0 L253,0 L253,525 C215,480 140,452 62,446 L62,509 C165,522 238,580 262,709 L345,709 Z" fill="#222"/>
<text x="54.6" y="890.2" font-size="27.5" fill="#222">0.5</text>
<text x="77.5" y="957.7" font-size="27.5" fill="#222">0</text>
<text x="45.4" y="1025.2" font-size="27.5" fill="#222">-0.5</text>
<text x="68.4" y="1092.7" font-size="27.5" fill="#222">-</text><path transform="translate(77.5,1092.7) scale(0.02750,-0.02750)" d="M345,0 L253,0 L253,525 C215,480 140,452 62,446 L62,509 C165,522 238,580 262,709 L345,709 Z" fill="#222"/>
<path transform="translate(124.2,1128.2) scale(0.02750,-0.02750)" d="M345,0 L253,0 L253,525 C215,480 140,452 62,446 L62,509 C165,522 238,580 262,709 L345,709 Z" fill="#222"/><text x="139.5" y="1128.2" font-size="27.5" fill="#222">965</text>
<path transform="translate(213.8,1128.2) scale(0.02750,-0.02750)" d="M345,0 L253,0 L253,525 C215,480 140,452 62,446 L62,509 C165,522 238,580 262,709 L345,709 Z" fill="#222"/><text x="229.1" y="1128.2" font-size="27.5" fill="#222">975</text>
<path transform="translate(303.4,1128.2) scale(0.02750,-0.02750)" d="M345,0 L253,0 L253,525 C215,480 140,452 62,446 L62,509 C165,522 238,580 262,709 L345,709 Z" fill="#222"/><text x="318.7" y="1128.2" font-size="27.5" fill="#222">985</text>
<path transform="translate(393,1128.2) scale(0.02750,-0.02750)" d="M345,0 L253,0 L253,525 C215,480 140,452 62,446 L62,509 C165,522 238,580 262,709 L345,709 Z" fill="#222"/><text x="408.3" y="1128.2" font-size="27.5" fill="#222">995</text>
<text x="482.6" y="1128.2" font-size="27.5" fill="#222">2005</text>
<text x="572.2" y="1128.2" font-size="27.5" fill="#222">20</text><path transform="translate(602.8,1128.2) scale(0.02750,-0.02750)" d="M345,0 L253,0 L253,525 C215,480 140,452 62,446 L62,509 C165,522 238,580 262,709 L345,709 Z" fill="#222"/><text x="618.1" y="1128.2" font-size="27.5" fill="#222">5</text>
<text x="614.9" y="1066.2" font-size="28.5" text-anchor="end" font-weight="bold" fill="#000" >So</text>
<g transform="translate(36,192.5) rotate(-90)" fill="#222"><text x="-118.1" y="0" font-size="28.0">Anomaly (</text><path transform="translate(7.9,0) scale(0.02800,-0.02800)" d="M345,0 L253,0 L253,525 C215,480 140,452 62,446 L62,509 C165,522 238,580 262,709 L345,709 Z"/><text x="23.4" y="0" font-size="28.0">0</text><text x="39" y="-19" font-size="19.0">-2</text><text x="55.9" y="0" font-size="28.0" xml:space="preserve"> psu)</text></g>
<g transform="translate(36,564.3) rotate(-90)" fill="#222"><text x="-118.1" y="0" font-size="28.0">Anomaly (</text><path transform="translate(7.9,0) scale(0.02800,-0.02800)" d="M345,0 L253,0 L253,525 C215,480 140,452 62,446 L62,509 C165,522 238,580 262,709 L345,709 Z"/><text x="23.4" y="0" font-size="28.0">0</text><text x="39" y="-19" font-size="19.0">-2</text><text x="55.9" y="0" font-size="28.0" xml:space="preserve"> psu)</text></g>
<g transform="translate(36,933.2) rotate(-90)" fill="#222"><text x="-118.1" y="0" font-size="28.0">Anomaly (</text><path transform="translate(7.9,0) scale(0.02800,-0.02800)" d="M345,0 L253,0 L253,525 C215,480 140,452 62,446 L62,509 C165,522 238,580 262,709 L345,709 Z"/><text x="23.4" y="0" font-size="28.0">0</text><text x="39" y="-19" font-size="19.0">-2</text><text x="55.9" y="0" font-size="28.0" xml:space="preserve"> psu)</text></g>
<text x="38.5" y="24" font-size="29" text-anchor="start" font-weight="bold" fill="#000" >A</text>
<text x="672" y="23.8" font-size="29" text-anchor="start" font-weight="bold" fill="#000" >B</text>
<text x="38.5" y="409.6" font-size="29" text-anchor="start" font-weight="bold" fill="#000" >C</text>
<text x="672" y="409.6" font-size="29" text-anchor="start" font-weight="bold" fill="#000" >D</text>
<text x="40.2" y="778.3" font-size="29" text-anchor="start" font-weight="bold" fill="#000" >E</text>
<text x="675.5" y="779" font-size="29" text-anchor="start" font-weight="bold" fill="#000" >F</text>
<text x="136" y="94.5" font-size="28" text-anchor="start" font-weight="bold" fill="#333" >IAP-05</text>
<text x="239" y="94.5" font-size="28" text-anchor="start" font-weight="bold" fill="#d71a2b" >IAP-</text>
<path transform="translate(295,94.5) scale(0.028,-0.028)" d="M425,0 L288,0 L288,470 L78,470 L78,572 C200,576 280,625 302,690 L425,690 Z" fill="#d71a2b"/>
<rect x="811.8" y="1048.2" width="13.3" height="34.5" fill="#fbe4d8" stroke="#151515" stroke-width="1.5"/>
<rect x="828.5" y="1035.6" width="13.3" height="47.1" fill="#d6463b" stroke="#151515" stroke-width="1.5"/>
<rect x="845" y="991.8" width="13.3" height="90.9" fill="#3b80c0" stroke="#151515" stroke-width="1.5"/>
<rect x="861.8" y="953.6" width="13.3" height="129.1" fill="#deebf5" stroke="#151515" stroke-width="1.5"/>
<rect x="903.4" y="1030.8" width="13.3" height="51.9" fill="#fbe4d8" stroke="#151515" stroke-width="1.5"/>
<rect x="920.1" y="1009.6" width="13.3" height="73.1" fill="#d6463b" stroke="#151515" stroke-width="1.5"/>
<rect x="936.6" y="975.1" width="13.3" height="107.6" fill="#3b80c0" stroke="#151515" stroke-width="1.5"/>
<rect x="953.4" y="930.6" width="13.3" height="152.1" fill="#deebf5" stroke="#151515" stroke-width="1.5"/>
<rect x="994.4" y="1033.7" width="13.3" height="49" fill="#fbe4d8" stroke="#151515" stroke-width="1.5"/>
<rect x="1011.1" y="1007" width="13.3" height="75.7" fill="#d6463b" stroke="#151515" stroke-width="1.5"/>
<rect x="1027.6" y="962.9" width="13.3" height="119.8" fill="#3b80c0" stroke="#151515" stroke-width="1.5"/>
<rect x="1044.3" y="895.4" width="13.3" height="187.3" fill="#deebf5" stroke="#151515" stroke-width="1.5"/>
<rect x="1084.5" y="1036.3" width="13.3" height="46.4" fill="#fbe4d8" stroke="#151515" stroke-width="1.5"/>
<rect x="1101.2" y="1008.5" width="13.3" height="74.2" fill="#d6463b" stroke="#151515" stroke-width="1.5"/>
<rect x="1117.8" y="1004.1" width="13.3" height="78.6" fill="#3b80c0" stroke="#151515" stroke-width="1.5"/>
<rect x="1134.5" y="957.7" width="13.3" height="125" fill="#deebf5" stroke="#151515" stroke-width="1.5"/>
<rect x="1176.1" y="1065.6" width="13.3" height="17.1" fill="#fbe4d8" stroke="#151515" stroke-width="1.5"/>
<rect x="1192.8" y="1061.6" width="13.3" height="21.1" fill="#d6463b" stroke="#151515" stroke-width="1.5"/>
<rect x="1209.4" y="1017.4" width="13.3" height="65.3" fill="#3b80c0" stroke="#151515" stroke-width="1.5"/>
<rect x="1226.1" y="996.3" width="13.3" height="86.4" fill="#deebf5" stroke="#151515" stroke-width="1.5"/>
<path d="M818.4,1027.1 V1069 M808.9,1027.1 h19 M808.9,1069 h19" stroke="#111" stroke-width="1.7" fill="none"/>
<path d="M835.1,1032.6 V1036.3 M825.6,1032.6 h19 M825.6,1036.3 h19" stroke="#111" stroke-width="1.7" fill="none"/>
<path d="M851.7,936.2 V1046.4 M842.2,936.2 h19 M842.2,1046.4 h19" stroke="#111" stroke-width="1.7" fill="none"/>
<path d="M868.4,948.4 V959.2 M858.9,948.4 h19 M858.9,959.2 h19" stroke="#111" stroke-width="1.7" fill="none"/>
<path d="M910,1004.1 V1059.3 M900.5,1004.1 h19 M900.5,1059.3 h19" stroke="#111" stroke-width="1.7" fill="none"/>
<path d="M926.7,998.5 V1021.9 M917.2,998.5 h19 M917.2,1021.9 h19" stroke="#111" stroke-width="1.7" fill="none"/>
<path d="M943.3,916.5 V1031.5 M933.8,916.5 h19 M933.8,1031.5 h19" stroke="#111" stroke-width="1.7" fill="none"/>
<path d="M960,905.4 V955.9 M950.5,905.4 h19 M950.5,955.9 h19" stroke="#111" stroke-width="1.7" fill="none"/>
<path d="M1001,1006.7 V1060.4 M991.5,1006.7 h19 M991.5,1060.4 h19" stroke="#111" stroke-width="1.7" fill="none"/>
<path d="M1017.7,977 V1035.6 M1008.2,977 h19 M1008.2,1035.6 h19" stroke="#111" stroke-width="1.7" fill="none"/>
<path d="M1034.3,897.3 V1027.8 M1024.8,897.3 h19 M1024.8,1027.8 h19" stroke="#111" stroke-width="1.7" fill="none"/>
<path d="M1051,823.1 V968.5 M1041.5,823.1 h19 M1041.5,968.5 h19" stroke="#111" stroke-width="1.7" fill="none"/>
<path d="M1091.2,1004.8 V1067.1 M1081.7,1004.8 h19 M1081.7,1067.1 h19" stroke="#111" stroke-width="1.7" fill="none"/>
<path d="M1107.9,962.2 V1053 M1098.4,962.2 h19 M1098.4,1053 h19" stroke="#111" stroke-width="1.7" fill="none"/>
<path d="M1124.5,952.9 V1055.6 M1115,952.9 h19 M1115,1055.6 h19" stroke="#111" stroke-width="1.7" fill="none"/>
<path d="M1141.2,879.8 V1035.2 M1131.7,879.8 h19 M1131.7,1035.2 h19" stroke="#111" stroke-width="1.7" fill="none"/>
<path d="M1182.8,1059.7 V1071.6 M1173.3,1059.7 h19 M1173.3,1071.6 h19" stroke="#111" stroke-width="1.7" fill="none"/>
<path d="M1199.5,1052.3 V1067.1 M1190,1052.3 h19 M1190,1067.1 h19" stroke="#111" stroke-width="1.7" fill="none"/>
<path d="M1216.1,995.2 V1038.9 M1206.6,995.2 h19 M1206.6,1038.9 h19" stroke="#111" stroke-width="1.7" fill="none"/>
<path d="M1232.8,967 V1023.4 M1223.3,967 h19 M1223.3,1023.4 h19" stroke="#111" stroke-width="1.7" fill="none"/>
<line x1="753.5" y1="1008.5" x2="1299.3" y2="1008.5" stroke="#e8674c" stroke-width="4.4" stroke-dasharray="18.5,16.3"/>
<line x1="753.5" y1="1045.6" x2="1299.3" y2="1045.6" stroke="#6aafd8" stroke-width="4.4" stroke-dasharray="18.5,16.3"/>
<path d="M752.5,786 H1300.3 V1082.7 H752.5 Z" fill="none" stroke="#474747" stroke-width="1.6"/>
<path d="M843.4,1082.7 v5 M843.4,786 v-5 M935,1082.7 v5 M935,786 v-5 M1026,1082.7 v5 M1026,786 v-5 M1116.2,1082.7 v5 M1116.2,786 v-5 M1207.8,1082.7 v5 M1207.8,786 v-5 M752.5,1082.7 h-5 M1300.3,1082.7 h5 M752.5,1008.5 h-5 M1300.3,1008.5 h5 M752.5,934.4 h-5 M1300.3,934.4 h5 M752.5,860.2 h-5 M1300.3,860.2 h5 M752.5,786 h-5 M1300.3,786 h5" stroke="#474747" stroke-width="1.6" fill="none"/>
<text x="720" y="1092.7" font-size="27.5" fill="#222">0</text>
<text x="720" y="1018.5" font-size="27.5" fill="#222">2</text>
<text x="720" y="944.4" font-size="27.5" fill="#222">4</text>
<text x="720" y="870.2" font-size="27.5" fill="#222">6</text>
<text x="720" y="796" font-size="27.5" fill="#222">8</text>
<text x="843.4" y="1127.7" font-size="27" text-anchor="middle" font-weight="normal" fill="#222" >Glo</text>
<text x="935" y="1127.7" font-size="27" text-anchor="middle" font-weight="normal" fill="#222" >Pac</text>
<text x="1026" y="1127.7" font-size="27" text-anchor="middle" font-weight="normal" fill="#222" >Atl</text>
<text x="1116.2" y="1127.7" font-size="27" text-anchor="middle" font-weight="normal" fill="#222" >Ind</text>
<text x="1207.8" y="1127.7" font-size="27" text-anchor="middle" font-weight="normal" fill="#222" >So</text>
<text transform="translate(704.5,934.4) rotate(-90)" font-size="28.5" text-anchor="middle" fill="#222">SNR</text>
<rect x="765.6" y="794.7" width="69" height="20.3" fill="#fbe4d8" stroke="#1a1a1a" stroke-width="1.3"/>
<text x="841.8" y="813" font-size="21" text-anchor="start" font-weight="normal" fill="#1a1a1a" >Pre-Argo Inter</text>
<rect x="765.6" y="823.1" width="69" height="20.3" fill="#d6463b" stroke="#1a1a1a" stroke-width="1.3"/>
<text x="841.8" y="841.4" font-size="21" text-anchor="start" font-weight="normal" fill="#1a1a1a" >Argo Inter</text>
<rect x="765.6" y="851.5" width="69" height="20.3" fill="#3b80c0" stroke="#1a1a1a" stroke-width="1.3"/>
<text x="841.8" y="869.8" font-size="21" text-anchor="start" font-weight="normal" fill="#1a1a1a" >Pre-Argo Decad</text>
<rect x="765.6" y="879.9" width="69" height="20.3" fill="#deebf5" stroke="#1a1a1a" stroke-width="1.3"/>
<text x="841.8" y="898.2" font-size="21" text-anchor="start" font-weight="normal" fill="#1a1a1a" >Argo Decad</text>
</svg></body></html>
